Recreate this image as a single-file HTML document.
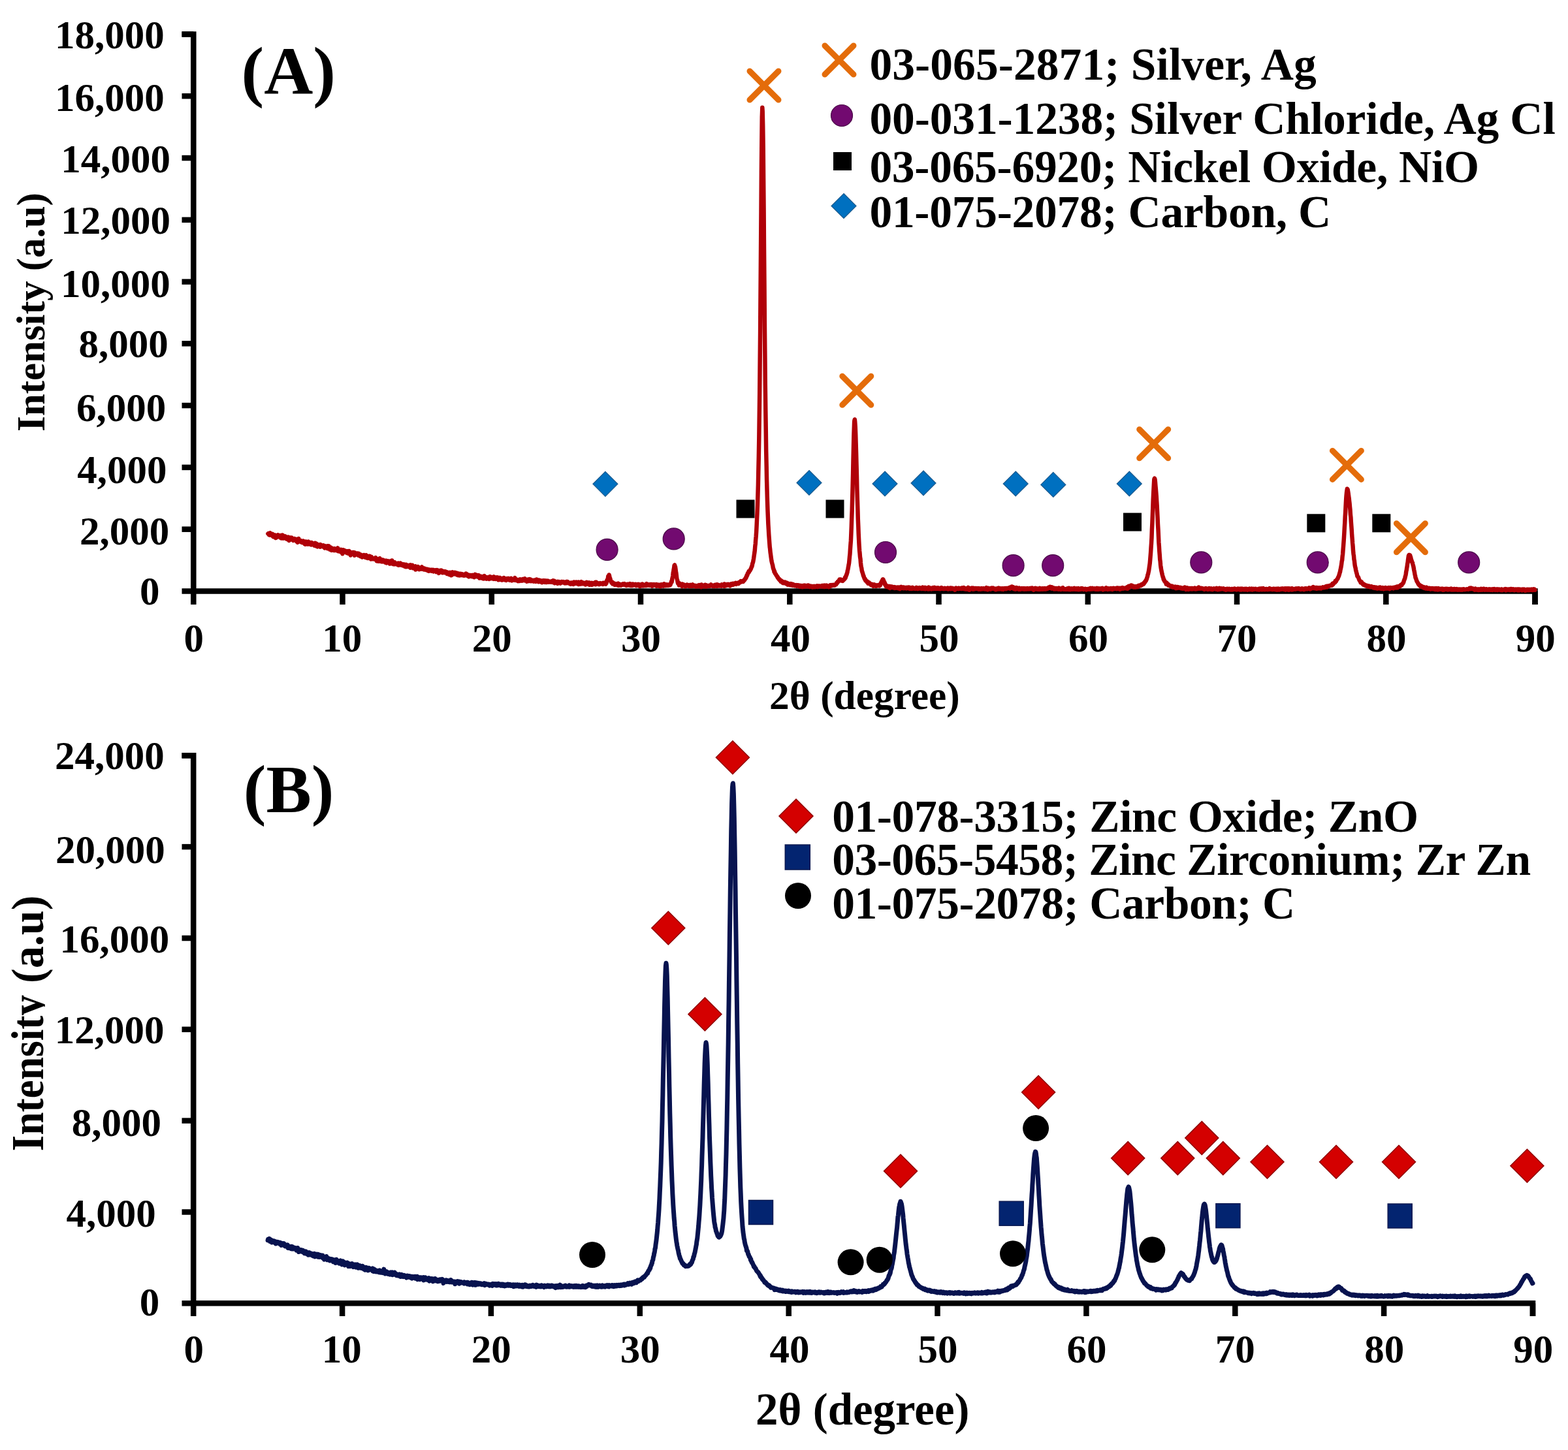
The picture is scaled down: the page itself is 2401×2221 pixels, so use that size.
<!DOCTYPE html><html><head><meta charset="utf-8"><title>XRD patterns</title><style>html,body{margin:0;padding:0;background:#fff;}svg{display:block;}</style></head><body>
<svg width="2401" height="2221" viewBox="0 0 2401 2221">
<rect width="2401" height="2221" fill="#ffffff"/>
<g font-family="'Liberation Serif', 'Times New Roman', serif" font-weight="bold" fill="#000">
<g stroke="#000" stroke-width="8.5" fill="none">
<path d="M278.5,52.4 L296.3,52.4 L296.3,905.5 L2350.5,905.5 L2350.5,926.0" stroke-linejoin="miter"/>
<line x1="278.5" y1="905.5" x2="296.3" y2="905.5"/>
<line x1="278.5" y1="810.7" x2="296.3" y2="810.7"/>
<line x1="278.5" y1="715.9" x2="296.3" y2="715.9"/>
<line x1="278.5" y1="621.1" x2="296.3" y2="621.1"/>
<line x1="278.5" y1="526.3" x2="296.3" y2="526.3"/>
<line x1="278.5" y1="431.6" x2="296.3" y2="431.6"/>
<line x1="278.5" y1="336.8" x2="296.3" y2="336.8"/>
<line x1="278.5" y1="242.0" x2="296.3" y2="242.0"/>
<line x1="278.5" y1="147.2" x2="296.3" y2="147.2"/>
<line x1="278.5" y1="52.4" x2="296.3" y2="52.4"/>
<line x1="296.3" y1="905.5" x2="296.3" y2="926"/>
<line x1="524.5" y1="905.5" x2="524.5" y2="926"/>
<line x1="752.8" y1="905.5" x2="752.8" y2="926"/>
<line x1="981.0" y1="905.5" x2="981.0" y2="926"/>
<line x1="1209.3" y1="905.5" x2="1209.3" y2="926"/>
<line x1="1437.5" y1="905.5" x2="1437.5" y2="926"/>
<line x1="1665.8" y1="905.5" x2="1665.8" y2="926"/>
<line x1="1894.0" y1="905.5" x2="1894.0" y2="926"/>
<line x1="2122.3" y1="905.5" x2="2122.3" y2="926"/>
<line x1="2350.5" y1="905.5" x2="2350.5" y2="926"/>
</g>
<text x="84.1" y="74.0" font-size="61" text-anchor="start">18,000</text>
<text x="84.1" y="169.9" font-size="61" text-anchor="start">16,000</text>
<text x="93.3" y="263.9" font-size="61" text-anchor="start">14,000</text>
<text x="93.3" y="358.4" font-size="61" text-anchor="start">12,000</text>
<text x="93.0" y="454.8" font-size="61" text-anchor="start">10,000</text>
<text x="120.5" y="547.0" font-size="61" text-anchor="start">8,000</text>
<text x="117.1" y="645.4" font-size="61" text-anchor="start">6,000</text>
<text x="118.2" y="739.6" font-size="61" text-anchor="start">4,000</text>
<text x="121.9" y="833.7" font-size="61" text-anchor="start">2,000</text>
<text x="213.9" y="925.8" font-size="61" text-anchor="start">0</text>
<text x="281.6" y="998.4" font-size="61" text-anchor="start">0</text>
<text x="493.3" y="998.4" font-size="61" text-anchor="start">10</text>
<text x="722.7" y="998.4" font-size="61" text-anchor="start">20</text>
<text x="951.0" y="998.4" font-size="61" text-anchor="start">30</text>
<text x="1180.0" y="998.4" font-size="61" text-anchor="start">40</text>
<text x="1407.5" y="998.4" font-size="61" text-anchor="start">50</text>
<text x="1635.9" y="998.4" font-size="61" text-anchor="start">60</text>
<text x="1863.4" y="998.4" font-size="61" text-anchor="start">70</text>
<text x="2092.4" y="998.4" font-size="61" text-anchor="start">80</text>
<text x="2320.8" y="998.4" font-size="61" text-anchor="start">90</text>
<text x="1178.1" y="1085.8" font-size="61.4" text-anchor="start">2θ (degree)</text>
<text transform="translate(68,661.1) rotate(-90)" font-size="61">Intensity (a.u)</text>
<text x="369.5" y="143.6" font-size="104" text-anchor="start">(A)</text>
<path d="M410.4,817.5 L410.9,817.1 L411.3,818.1 L411.8,819.1 L412.2,818.6 L412.7,819.5 L413.2,818.0 L413.6,816.2 L414.1,819.0 L414.5,819.3 L415.0,817.8 L415.4,818.1 L415.9,818.6 L416.4,820.2 L416.8,819.0 L417.3,818.0 L417.7,821.2 L418.2,819.9 L418.6,822.2 L419.1,821.4 L419.6,822.3 L420.0,820.0 L420.5,821.7 L420.9,819.5 L421.4,819.8 L421.8,820.4 L422.3,824.0 L422.7,821.1 L423.2,820.5 L423.7,820.3 L424.1,822.9 L424.6,821.4 L425.0,822.3 L425.5,822.1 L425.9,819.4 L426.4,822.3 L426.9,821.3 L427.3,820.0 L427.8,822.3 L428.2,821.7 L428.7,821.5 L429.1,821.7 L429.6,823.7 L430.1,821.9 L430.5,820.1 L431.0,824.5 L431.4,821.0 L431.9,822.2 L432.3,823.5 L432.8,819.6 L433.2,821.6 L433.7,824.6 L434.2,822.8 L434.6,822.2 L435.1,823.4 L435.5,822.2 L436.0,823.4 L436.4,822.5 L436.9,821.4 L437.4,824.7 L437.8,823.5 L438.3,824.6 L438.7,823.8 L439.2,825.8 L439.6,825.0 L440.1,824.6 L440.6,823.1 L441.0,822.8 L441.5,826.6 L441.9,825.9 L442.4,823.9 L442.8,827.9 L443.3,825.7 L443.7,825.3 L444.2,823.4 L444.7,824.3 L445.1,825.9 L445.6,826.1 L446.0,826.0 L446.5,823.5 L446.9,826.5 L447.4,826.4 L447.9,825.6 L448.3,826.4 L448.8,826.6 L449.2,828.0 L449.7,826.5 L450.1,827.2 L450.6,825.0 L451.0,825.9 L451.5,827.0 L452.0,826.0 L452.4,827.6 L452.9,825.7 L453.3,827.3 L453.8,826.6 L454.2,829.4 L454.7,827.1 L455.2,830.2 L455.6,830.8 L456.1,828.4 L456.5,829.4 L457.0,827.9 L457.4,825.0 L457.9,829.6 L458.4,829.4 L458.8,828.3 L459.3,828.0 L459.7,829.1 L460.2,829.2 L460.6,828.0 L461.1,828.4 L461.5,830.7 L462.0,829.4 L462.5,829.4 L462.9,831.1 L463.4,829.3 L463.8,831.0 L464.3,828.5 L464.7,829.7 L465.2,829.9 L465.7,831.0 L466.1,830.4 L466.6,833.3 L467.0,832.1 L467.5,830.1 L467.9,833.8 L468.4,829.6 L468.9,833.4 L469.3,829.9 L469.8,832.3 L470.2,830.1 L470.7,831.1 L471.1,833.6 L471.6,829.8 L472.0,829.6 L472.5,831.9 L473.0,832.3 L473.4,832.2 L473.9,833.5 L474.3,830.6 L474.8,833.1 L475.2,832.5 L475.7,833.6 L476.2,833.5 L476.6,834.5 L477.1,831.0 L477.5,833.1 L478.0,831.7 L478.4,833.1 L478.9,834.2 L479.4,833.8 L479.8,834.3 L480.3,833.6 L480.7,834.2 L481.2,834.2 L481.6,835.8 L482.1,835.1 L482.5,831.7 L483.0,835.1 L483.5,835.8 L483.9,833.9 L484.4,832.5 L484.8,836.7 L485.3,835.0 L485.7,835.7 L486.2,837.4 L486.7,834.0 L487.1,835.2 L487.6,835.2 L488.0,836.4 L488.5,834.8 L488.9,836.3 L489.4,835.9 L489.9,837.3 L490.3,837.6 L490.8,834.1 L491.2,836.8 L491.7,835.8 L492.1,836.4 L492.6,837.0 L493.0,837.2 L493.5,835.8 L494.0,837.2 L494.4,837.1 L494.9,836.9 L495.3,835.4 L495.8,836.2 L496.2,836.7 L496.7,838.2 L497.2,839.4 L497.6,836.3 L498.1,836.4 L498.5,838.0 L499.0,837.2 L499.4,836.9 L499.9,837.0 L500.4,836.9 L500.8,839.0 L501.3,836.3 L501.7,840.3 L502.2,837.5 L502.6,838.1 L503.1,837.7 L503.5,836.4 L504.0,837.0 L504.5,840.8 L504.9,841.6 L505.4,838.3 L505.8,840.9 L506.3,839.6 L506.7,838.6 L507.2,842.1 L507.7,842.8 L508.1,839.7 L508.6,840.1 L509.0,840.6 L509.5,840.3 L509.9,841.6 L510.4,842.7 L510.8,840.9 L511.3,842.1 L511.8,843.1 L512.2,840.3 L512.7,841.2 L513.1,840.6 L513.6,842.7 L514.0,842.3 L514.5,842.9 L515.0,842.8 L515.4,841.5 L515.9,842.9 L516.3,841.5 L516.8,841.6 L517.2,839.4 L517.7,844.2 L518.2,841.2 L518.6,842.6 L519.1,842.6 L519.5,844.7 L520.0,843.4 L520.4,841.9 L520.9,843.1 L521.3,843.0 L521.8,843.6 L522.3,841.8 L522.7,843.5 L523.2,846.5 L523.6,844.6 L524.1,846.4 L524.5,848.3 L525.0,844.7 L525.5,842.3 L525.9,844.1 L526.4,845.9 L526.8,845.7 L527.3,843.0 L527.7,844.4 L528.2,844.7 L528.7,845.0 L529.1,844.9 L529.6,844.0 L530.0,844.5 L530.5,845.0 L530.9,846.9 L531.4,844.9 L531.8,846.6 L532.3,844.3 L532.8,847.6 L533.2,846.2 L533.7,846.1 L534.1,848.0 L534.6,844.0 L535.0,844.5 L535.5,847.2 L536.0,845.7 L536.4,846.3 L536.9,850.4 L537.3,846.7 L537.8,847.2 L538.2,847.2 L538.7,848.8 L539.2,847.9 L539.6,847.8 L540.1,846.1 L540.5,847.4 L541.0,848.0 L541.4,846.0 L541.9,848.9 L542.3,848.8 L542.8,850.8 L543.3,846.4 L543.7,847.3 L544.2,847.5 L544.6,848.0 L545.1,848.8 L545.5,848.8 L546.0,849.5 L546.5,849.6 L546.9,849.4 L547.4,847.5 L547.8,848.9 L548.3,849.8 L548.7,850.7 L549.2,850.8 L549.7,848.0 L550.1,849.6 L550.6,850.2 L551.0,850.9 L551.5,852.0 L551.9,850.8 L552.4,849.6 L552.8,851.4 L553.3,851.3 L553.8,851.4 L554.2,851.1 L554.7,853.5 L555.1,851.8 L555.6,852.7 L556.0,850.5 L556.5,852.8 L557.0,851.2 L557.4,850.0 L557.9,852.6 L558.3,853.1 L558.8,852.1 L559.2,852.5 L559.7,853.9 L560.2,852.1 L560.6,850.2 L561.1,853.3 L561.5,853.3 L562.0,854.5 L562.4,852.9 L562.9,855.0 L563.3,855.0 L563.8,852.0 L564.3,854.9 L564.7,852.5 L565.2,852.0 L565.6,853.8 L566.1,853.5 L566.5,851.8 L567.0,854.7 L567.5,855.3 L567.9,856.4 L568.4,854.7 L568.8,853.0 L569.3,853.8 L569.7,856.3 L570.2,856.3 L570.6,856.0 L571.1,855.1 L571.6,855.8 L572.0,855.4 L572.5,855.4 L572.9,856.3 L573.4,856.1 L573.8,855.9 L574.3,856.4 L574.8,855.7 L575.2,854.1 L575.7,855.8 L576.1,856.6 L576.6,859.0 L577.0,856.4 L577.5,859.5 L578.0,859.0 L578.4,856.2 L578.9,856.5 L579.3,857.7 L579.8,859.8 L580.2,858.2 L580.7,858.7 L581.1,857.1 L581.6,855.2 L582.1,857.9 L582.5,859.2 L583.0,859.8 L583.4,858.5 L583.9,858.7 L584.3,860.1 L584.8,858.6 L585.3,860.3 L585.7,857.5 L586.2,857.6 L586.6,857.7 L587.1,859.8 L587.5,858.6 L588.0,859.5 L588.5,859.9 L588.9,860.0 L589.4,861.3 L589.8,861.5 L590.3,858.8 L590.7,860.1 L591.2,859.7 L591.6,858.8 L592.1,862.4 L592.6,861.2 L593.0,860.1 L593.5,859.9 L593.9,861.0 L594.4,859.3 L594.8,860.4 L595.3,862.3 L595.8,862.1 L596.2,860.0 L596.7,860.5 L597.1,863.6 L597.6,859.6 L598.0,860.6 L598.5,859.7 L599.0,862.0 L599.4,862.0 L599.9,863.1 L600.3,858.6 L600.8,862.1 L601.2,860.0 L601.7,862.9 L602.1,862.0 L602.6,864.3 L603.1,862.8 L603.5,861.2 L604.0,864.1 L604.4,861.3 L604.9,862.3 L605.3,864.1 L605.8,863.5 L606.3,863.6 L606.7,863.1 L607.2,863.8 L607.6,864.3 L608.1,863.7 L608.5,864.7 L609.0,865.1 L609.5,863.7 L609.9,862.6 L610.4,865.7 L610.8,863.9 L611.3,864.8 L611.7,865.3 L612.2,863.1 L612.6,864.9 L613.1,862.5 L613.6,865.4 L614.0,864.0 L614.5,864.9 L614.9,865.6 L615.4,864.1 L615.8,865.1 L616.3,864.2 L616.8,865.1 L617.2,866.5 L617.7,865.4 L618.1,865.3 L618.6,864.3 L619.0,866.6 L619.5,865.7 L620.0,867.8 L620.4,865.0 L620.9,867.2 L621.3,868.2 L621.8,866.1 L622.2,864.8 L622.7,868.1 L623.1,867.7 L623.6,867.3 L624.1,867.9 L624.5,866.2 L625.0,867.7 L625.4,867.7 L625.9,866.2 L626.3,867.9 L626.8,866.5 L627.3,868.3 L627.7,868.7 L628.2,869.6 L628.6,865.2 L629.1,867.9 L629.5,867.3 L630.0,867.7 L630.4,867.6 L630.9,867.8 L631.4,865.7 L631.8,869.3 L632.3,870.0 L632.7,869.5 L633.2,870.0 L633.6,867.5 L634.1,867.5 L634.6,869.8 L635.0,870.4 L635.5,869.2 L635.9,867.2 L636.4,872.4 L636.8,868.4 L637.3,870.5 L637.8,868.0 L638.2,870.6 L638.7,869.8 L639.1,871.3 L639.6,870.8 L640.0,868.0 L640.5,868.8 L640.9,870.3 L641.4,870.9 L641.9,872.2 L642.3,870.5 L642.8,870.2 L643.2,870.3 L643.7,870.4 L644.1,871.7 L644.6,870.5 L645.1,870.5 L645.5,869.0 L646.0,868.4 L646.4,870.9 L646.9,871.7 L647.3,871.0 L647.8,871.7 L648.3,871.9 L648.7,871.2 L649.2,872.4 L649.6,870.5 L650.1,871.5 L650.5,871.1 L651.0,871.7 L651.4,872.4 L651.9,872.8 L652.4,872.0 L652.8,872.4 L653.3,871.6 L653.7,871.9 L654.2,873.6 L654.6,872.0 L655.1,873.7 L655.6,873.0 L656.0,872.7 L656.5,874.8 L656.9,872.4 L657.4,872.4 L657.8,872.8 L658.3,873.2 L658.8,873.2 L659.2,874.0 L659.7,873.2 L660.1,873.6 L660.6,873.0 L661.0,874.6 L661.5,872.9 L661.9,873.1 L662.4,873.5 L662.9,874.0 L663.3,872.9 L663.8,875.5 L664.2,873.1 L664.7,873.5 L665.1,873.5 L665.6,873.5 L666.1,874.7 L666.5,874.4 L667.0,873.4 L667.4,873.7 L667.9,874.0 L668.3,876.1 L668.8,873.8 L669.3,873.2 L669.7,873.4 L670.2,874.4 L670.6,876.5 L671.1,873.7 L671.5,875.1 L672.0,877.9 L672.4,874.6 L672.9,876.8 L673.4,876.7 L673.8,876.0 L674.3,873.9 L674.7,875.8 L675.2,875.2 L675.6,873.6 L676.1,873.8 L676.6,875.8 L677.0,876.1 L677.5,877.3 L677.9,876.7 L678.4,875.5 L678.8,875.6 L679.3,876.1 L679.8,875.1 L680.2,877.2 L680.7,876.5 L681.1,875.6 L681.6,875.9 L682.0,875.4 L682.5,876.3 L682.9,877.1 L683.4,876.4 L683.9,878.1 L684.3,878.9 L684.8,876.4 L685.2,877.2 L685.7,876.9 L686.1,879.2 L686.6,877.8 L687.1,878.1 L687.5,878.5 L688.0,880.2 L688.4,878.1 L688.9,876.8 L689.3,877.4 L689.8,878.6 L690.2,878.0 L690.7,877.2 L691.2,881.3 L691.6,878.4 L692.1,877.7 L692.5,877.6 L693.0,876.5 L693.4,877.3 L693.9,878.3 L694.4,878.3 L694.8,877.9 L695.3,879.4 L695.7,879.0 L696.2,877.9 L696.6,876.8 L697.1,879.2 L697.6,879.2 L698.0,878.9 L698.5,877.7 L698.9,879.3 L699.4,877.7 L699.8,880.5 L700.3,879.6 L700.7,879.7 L701.2,878.7 L701.7,878.4 L702.1,881.3 L702.6,880.7 L703.0,879.4 L703.5,880.5 L703.9,881.5 L704.4,878.8 L704.9,879.4 L705.3,879.5 L705.8,880.6 L706.2,879.0 L706.7,880.4 L707.1,879.0 L707.6,881.3 L708.1,881.3 L708.5,880.2 L709.0,881.2 L709.4,879.8 L709.9,880.3 L710.3,881.6 L710.8,880.6 L711.2,881.1 L711.7,879.8 L712.2,881.5 L712.6,881.3 L713.1,879.6 L713.5,878.5 L714.0,878.8 L714.4,881.0 L714.9,880.9 L715.4,879.5 L715.8,881.4 L716.3,882.4 L716.7,881.2 L717.2,880.9 L717.6,882.4 L718.1,883.3 L718.6,883.1 L719.0,880.9 L719.5,882.5 L719.9,881.9 L720.4,881.5 L720.8,881.1 L721.3,882.2 L721.7,881.4 L722.2,882.9 L722.7,882.4 L723.1,883.2 L723.6,880.9 L724.0,882.2 L724.5,883.0 L724.9,882.7 L725.4,882.6 L725.9,881.6 L726.3,884.2 L726.8,883.6 L727.2,883.0 L727.7,879.9 L728.1,881.6 L728.6,882.8 L729.1,882.0 L729.5,880.6 L730.0,883.1 L730.4,883.3 L730.9,881.7 L731.3,882.5 L731.8,882.4 L732.2,883.7 L732.7,881.1 L733.2,881.4 L733.6,882.7 L734.1,882.6 L734.5,885.6 L735.0,882.8 L735.4,883.7 L735.9,883.1 L736.4,882.9 L736.8,884.0 L737.3,885.5 L737.7,883.4 L738.2,884.6 L738.6,884.2 L739.1,884.6 L739.6,884.4 L740.0,886.5 L740.5,882.8 L740.9,883.9 L741.4,883.0 L741.8,882.2 L742.3,884.3 L742.7,886.3 L743.2,885.4 L743.7,885.7 L744.1,885.0 L744.6,884.5 L745.0,886.7 L745.5,884.3 L745.9,886.3 L746.4,884.5 L746.9,885.0 L747.3,885.2 L747.8,885.0 L748.2,885.6 L748.7,885.7 L749.1,886.9 L749.6,885.2 L750.0,883.3 L750.5,883.2 L751.0,883.9 L751.4,884.6 L751.9,886.1 L752.3,884.0 L752.8,885.6 L753.2,885.6 L753.7,885.9 L754.2,885.5 L754.6,886.1 L755.1,885.8 L755.5,886.8 L756.0,886.1 L756.4,883.4 L756.9,885.9 L757.4,886.1 L757.8,885.3 L758.3,885.1 L758.7,887.0 L759.2,886.1 L759.6,885.0 L760.1,885.7 L760.5,885.9 L761.0,884.4 L761.5,886.8 L761.9,886.0 L762.4,886.7 L762.8,884.6 L763.3,888.2 L763.7,886.9 L764.2,886.8 L764.7,885.6 L765.1,885.7 L765.6,884.9 L766.0,888.0 L766.5,885.6 L766.9,886.7 L767.4,887.1 L767.9,885.9 L768.3,887.4 L768.8,888.6 L769.2,886.9 L769.7,888.1 L770.1,887.3 L770.6,886.2 L771.0,886.3 L771.5,885.1 L772.0,886.9 L772.4,888.3 L772.9,887.5 L773.3,887.7 L773.8,888.1 L774.2,886.4 L774.7,887.5 L775.2,888.9 L775.6,886.2 L776.1,887.1 L776.5,886.6 L777.0,886.9 L777.4,886.4 L777.9,887.0 L778.4,885.9 L778.8,886.7 L779.3,886.8 L779.7,886.8 L780.2,888.7 L780.6,887.4 L781.1,887.5 L781.5,887.1 L782.0,888.7 L782.5,885.7 L782.9,887.3 L783.4,888.6 L783.8,889.2 L784.3,887.8 L784.7,887.6 L785.2,888.3 L785.7,887.5 L786.1,888.2 L786.6,887.1 L787.0,888.4 L787.5,887.7 L787.9,886.7 L788.4,885.2 L788.9,888.8 L789.3,888.3 L789.8,888.7 L790.2,887.1 L790.7,889.0 L791.1,888.4 L791.6,888.0 L792.0,888.9 L792.5,888.9 L793.0,888.5 L793.4,890.1 L793.9,889.5 L794.3,888.5 L794.8,888.0 L795.2,888.3 L795.7,889.9 L796.2,888.7 L796.6,887.4 L797.1,887.7 L797.5,888.4 L798.0,889.2 L798.4,887.7 L798.9,889.0 L799.4,889.6 L799.8,889.2 L800.3,887.0 L800.7,888.3 L801.2,887.4 L801.6,889.0 L802.1,887.7 L802.5,889.2 L803.0,888.8 L803.5,886.2 L803.9,887.9 L804.4,889.2 L804.8,888.8 L805.3,888.5 L805.7,887.6 L806.2,889.3 L806.7,890.6 L807.1,889.2 L807.6,888.9 L808.0,888.8 L808.5,887.7 L808.9,888.7 L809.4,888.2 L809.8,890.1 L810.3,888.2 L810.8,887.1 L811.2,888.4 L811.7,888.9 L812.1,889.0 L812.6,887.5 L813.0,890.2 L813.5,889.4 L814.0,888.9 L814.4,888.6 L814.9,889.8 L815.3,889.1 L815.8,889.7 L816.2,889.3 L816.7,889.6 L817.2,890.6 L817.6,889.6 L818.1,888.7 L818.5,890.5 L819.0,889.9 L819.4,889.0 L819.9,890.7 L820.3,889.5 L820.8,890.8 L821.3,888.7 L821.7,887.6 L822.2,887.9 L822.6,890.1 L823.1,889.2 L823.5,889.8 L824.0,889.8 L824.5,888.5 L824.9,891.3 L825.4,889.0 L825.8,890.1 L826.3,888.7 L826.7,889.9 L827.2,890.8 L827.7,889.9 L828.1,889.5 L828.6,890.2 L829.0,889.8 L829.5,890.8 L829.9,892.3 L830.4,889.5 L830.8,889.7 L831.3,890.2 L831.8,890.3 L832.2,889.5 L832.7,890.9 L833.1,891.2 L833.6,890.7 L834.0,889.4 L834.5,891.9 L835.0,889.5 L835.4,891.2 L835.9,891.7 L836.3,889.5 L836.8,890.8 L837.2,892.0 L837.7,891.1 L838.2,889.9 L838.6,889.7 L839.1,891.3 L839.5,890.5 L840.0,890.2 L840.4,891.6 L840.9,890.6 L841.3,891.0 L841.8,891.5 L842.3,891.5 L842.7,891.0 L843.2,891.1 L843.6,891.7 L844.1,891.6 L844.5,890.2 L845.0,891.0 L845.5,890.4 L845.9,890.2 L846.4,890.8 L846.8,889.2 L847.3,892.1 L847.7,890.6 L848.2,891.7 L848.7,889.7 L849.1,889.9 L849.6,893.3 L850.0,892.4 L850.5,890.9 L850.9,890.9 L851.4,890.9 L851.8,891.7 L852.3,891.3 L852.8,891.1 L853.2,891.8 L853.7,890.8 L854.1,893.9 L854.6,891.2 L855.0,892.8 L855.5,891.0 L856.0,892.1 L856.4,892.8 L856.9,891.6 L857.3,892.8 L857.8,892.9 L858.2,893.5 L858.7,892.1 L859.2,891.6 L859.6,891.2 L860.1,892.3 L860.5,891.2 L861.0,892.2 L861.4,892.3 L861.9,891.7 L862.3,891.3 L862.8,892.6 L863.3,892.6 L863.7,892.5 L864.2,892.3 L864.6,893.3 L865.1,891.5 L865.5,892.9 L866.0,892.1 L866.5,893.3 L866.9,892.2 L867.4,892.2 L867.8,893.0 L868.3,890.8 L868.7,892.3 L869.2,891.0 L869.7,891.8 L870.1,893.3 L870.6,893.0 L871.0,892.3 L871.5,892.7 L871.9,892.7 L872.4,893.0 L872.8,894.4 L873.3,893.0 L873.8,894.8 L874.2,892.5 L874.7,893.5 L875.1,893.5 L875.6,893.1 L876.0,892.6 L876.5,894.2 L877.0,894.5 L877.4,893.9 L877.9,894.8 L878.3,893.8 L878.8,891.5 L879.2,893.9 L879.7,892.4 L880.1,894.2 L880.6,892.7 L881.1,893.3 L881.5,893.1 L882.0,892.5 L882.4,891.5 L882.9,892.9 L883.3,893.0 L883.8,894.0 L884.3,892.6 L884.7,893.4 L885.2,892.4 L885.6,893.2 L886.1,891.6 L886.5,895.0 L887.0,893.5 L887.5,892.4 L887.9,893.6 L888.4,894.0 L888.8,893.5 L889.3,894.5 L889.7,893.2 L890.2,891.1 L890.6,892.3 L891.1,894.3 L891.6,894.1 L892.0,893.7 L892.5,892.5 L892.9,894.1 L893.4,894.0 L893.8,892.6 L894.3,892.7 L894.8,893.8 L895.2,894.5 L895.7,894.9 L896.1,894.1 L896.6,895.5 L897.0,892.9 L897.5,894.1 L898.0,893.1 L898.4,891.9 L898.9,892.5 L899.3,894.6 L899.8,892.8 L900.2,892.6 L900.7,894.3 L901.1,894.5 L901.6,893.8 L902.1,895.1 L902.5,892.4 L903.0,895.8 L903.4,894.7 L903.9,894.0 L904.3,893.9 L904.8,893.6 L905.3,893.5 L905.7,894.0 L906.2,892.8 L906.6,895.7 L907.1,893.8 L907.5,894.5 L908.0,893.7 L908.5,893.7 L908.9,894.7 L909.4,894.4 L909.8,893.2 L910.3,893.6 L910.7,894.5 L911.2,892.2 L911.6,891.9 L912.1,895.2 L912.6,893.7 L913.0,891.8 L913.5,893.3 L913.9,893.8 L914.4,894.2 L914.8,894.5 L915.3,894.2 L915.8,894.5 L916.2,893.4 L916.7,894.4 L917.1,894.4 L917.6,895.1 L918.0,894.1 L918.5,894.8 L919.0,894.2 L919.4,893.2 L919.9,893.7 L920.3,893.6 L920.8,893.7 L921.2,894.0 L921.7,894.1 L922.1,894.3 L922.6,893.4 L923.1,894.9 L923.5,892.8 L924.0,893.9 L924.4,894.5 L924.9,894.2 L925.3,894.3 L925.8,893.5 L926.3,894.1 L926.7,892.4 L927.2,893.8 L927.6,894.7 L928.1,892.9 L928.5,893.3 L929.0,890.8 L929.5,888.8 L929.9,888.0 L930.4,888.3 L930.8,886.3 L931.3,882.8 L931.7,882.9 L932.2,882.6 L932.4,881.6 L932.6,880.5 L933.1,882.2 L933.6,884.3 L934.0,885.5 L934.5,886.8 L934.9,889.2 L935.4,890.8 L935.8,890.9 L936.3,892.6 L936.8,892.6 L937.2,893.0 L937.7,891.5 L938.1,894.4 L938.6,894.0 L939.0,894.2 L939.5,893.8 L939.9,893.4 L940.4,894.8 L940.9,895.1 L941.3,895.9 L941.8,895.3 L942.2,894.2 L942.7,894.6 L943.1,895.6 L943.6,895.1 L944.1,894.8 L944.5,894.4 L945.0,895.3 L945.4,895.1 L945.9,896.4 L946.3,895.9 L946.8,893.6 L947.3,896.8 L947.7,895.3 L948.2,894.8 L948.6,895.4 L949.1,895.7 L949.5,895.1 L950.0,895.1 L950.4,895.2 L950.9,896.7 L951.4,895.3 L951.8,895.9 L952.3,895.7 L952.7,895.0 L953.2,894.7 L953.6,894.5 L954.1,895.7 L954.6,894.5 L955.0,894.4 L955.5,894.4 L955.9,894.2 L956.4,895.5 L956.8,895.5 L957.3,894.7 L957.8,896.5 L958.2,895.3 L958.7,895.9 L959.1,895.8 L959.6,896.9 L960.0,896.2 L960.5,895.5 L960.9,894.8 L961.4,894.7 L961.9,895.6 L962.3,895.7 L962.8,896.3 L963.2,895.3 L963.7,895.8 L964.1,895.1 L964.6,894.2 L965.1,895.7 L965.5,896.9 L966.0,896.4 L966.4,896.9 L966.9,896.7 L967.3,894.7 L967.8,895.6 L968.3,897.0 L968.7,895.3 L969.2,894.8 L969.6,896.1 L970.1,896.4 L970.5,896.1 L971.0,895.6 L971.4,895.4 L971.9,894.9 L972.4,894.9 L972.8,895.0 L973.3,894.8 L973.7,895.4 L974.2,897.2 L974.6,896.1 L975.1,895.7 L975.6,896.3 L976.0,895.3 L976.5,896.3 L976.9,896.8 L977.4,894.9 L977.8,895.5 L978.3,895.9 L978.8,895.4 L979.2,895.3 L979.7,895.8 L980.1,898.1 L980.6,896.7 L981.0,896.5 L981.5,896.9 L981.9,896.0 L982.4,895.2 L982.9,896.6 L983.3,897.1 L983.8,894.6 L984.2,896.6 L984.7,897.2 L985.1,896.0 L985.6,895.9 L986.1,896.8 L986.5,895.6 L987.0,896.6 L987.4,897.0 L987.9,896.1 L988.3,895.7 L988.8,896.8 L989.3,896.0 L989.7,896.4 L990.2,894.1 L990.6,896.9 L991.1,895.2 L991.5,896.4 L992.0,896.4 L992.4,895.8 L992.9,895.6 L993.4,895.4 L993.8,896.1 L994.3,896.8 L994.7,896.8 L995.2,896.0 L995.6,895.9 L996.1,895.3 L996.6,896.1 L997.0,895.6 L997.5,895.2 L997.9,896.3 L998.4,897.6 L998.8,897.3 L999.3,897.5 L999.7,895.2 L1000.2,897.1 L1000.7,895.5 L1001.1,896.0 L1001.6,895.1 L1002.0,895.7 L1002.5,896.5 L1002.9,896.6 L1003.4,896.4 L1003.9,896.3 L1004.3,896.9 L1004.8,896.5 L1005.2,895.2 L1005.7,897.8 L1006.1,896.3 L1006.6,897.2 L1007.1,896.3 L1007.5,895.8 L1008.0,896.5 L1008.4,895.9 L1008.9,897.7 L1009.3,895.7 L1009.8,896.9 L1010.2,896.0 L1010.7,896.3 L1011.2,898.4 L1011.6,897.1 L1012.1,896.3 L1012.5,895.3 L1013.0,896.3 L1013.4,896.3 L1013.9,897.5 L1014.4,895.4 L1014.8,895.1 L1015.3,896.4 L1015.7,896.6 L1016.2,897.6 L1016.6,895.7 L1017.1,894.3 L1017.6,895.8 L1018.0,895.4 L1018.5,895.9 L1018.9,897.0 L1019.4,895.3 L1019.8,897.1 L1020.3,896.3 L1020.7,895.9 L1021.2,895.4 L1021.7,895.7 L1022.1,895.7 L1022.6,896.5 L1023.0,896.8 L1023.5,895.7 L1023.9,896.2 L1024.4,896.5 L1024.9,896.3 L1025.3,895.5 L1025.8,896.3 L1026.2,895.6 L1026.7,895.4 L1027.1,893.5 L1027.6,892.6 L1028.1,890.4 L1028.5,891.7 L1029.0,889.4 L1029.4,886.1 L1029.9,884.4 L1030.3,881.6 L1030.8,876.8 L1031.2,874.9 L1031.7,872.2 L1032.2,869.4 L1032.6,866.2 L1033.1,865.5 L1033.1,866.7 L1033.5,867.2 L1034.0,868.1 L1034.4,870.9 L1034.9,875.2 L1035.4,877.7 L1035.8,881.0 L1036.3,885.7 L1036.7,887.1 L1037.2,888.7 L1037.6,891.1 L1038.1,893.6 L1038.6,893.2 L1039.0,893.2 L1039.5,893.2 L1039.9,896.4 L1040.4,893.2 L1040.8,896.2 L1041.3,894.9 L1041.7,894.8 L1042.2,895.2 L1042.7,895.9 L1043.1,896.9 L1043.6,895.7 L1044.0,896.8 L1044.5,898.2 L1044.9,894.4 L1045.4,896.0 L1045.9,895.2 L1046.3,897.2 L1046.8,895.6 L1047.2,895.5 L1047.7,895.6 L1048.1,896.8 L1048.6,897.6 L1049.1,896.9 L1049.5,898.4 L1050.0,898.1 L1050.4,896.8 L1050.9,897.6 L1051.3,897.0 L1051.8,897.0 L1052.2,895.6 L1052.7,896.1 L1053.2,897.0 L1053.6,896.2 L1054.1,897.6 L1054.5,897.3 L1055.0,896.4 L1055.4,898.0 L1055.9,897.3 L1056.4,898.0 L1056.8,897.0 L1057.3,896.0 L1057.7,897.7 L1058.2,897.0 L1058.6,897.8 L1059.1,898.0 L1059.5,898.0 L1060.0,896.2 L1060.5,895.5 L1060.9,896.9 L1061.4,897.7 L1061.8,896.7 L1062.3,897.5 L1062.7,896.7 L1063.2,897.0 L1063.7,897.0 L1064.1,896.8 L1064.6,897.7 L1065.0,897.5 L1065.5,898.5 L1065.9,897.6 L1066.4,898.3 L1066.9,897.4 L1067.3,898.0 L1067.8,897.2 L1068.2,897.0 L1068.7,898.3 L1069.1,897.9 L1069.6,898.0 L1070.0,896.8 L1070.5,896.1 L1071.0,896.7 L1071.4,897.6 L1071.9,896.3 L1072.3,898.4 L1072.8,896.3 L1073.2,897.8 L1073.7,899.2 L1074.2,895.5 L1074.6,896.2 L1075.1,898.0 L1075.5,897.2 L1076.0,897.5 L1076.4,897.3 L1076.9,898.3 L1077.4,897.8 L1077.8,897.0 L1078.3,897.2 L1078.7,896.5 L1079.2,897.3 L1079.6,895.7 L1080.1,897.8 L1080.5,897.2 L1081.0,898.6 L1081.5,898.2 L1081.9,896.4 L1082.4,898.0 L1082.8,897.0 L1083.3,897.4 L1083.7,898.0 L1084.2,897.5 L1084.7,897.7 L1085.1,897.6 L1085.6,896.8 L1086.0,896.9 L1086.5,897.7 L1086.9,897.9 L1087.4,897.1 L1087.9,897.3 L1088.3,896.6 L1088.8,895.5 L1089.2,896.7 L1089.7,897.3 L1090.1,897.4 L1090.6,897.8 L1091.0,897.8 L1091.5,897.9 L1092.0,897.5 L1092.4,897.5 L1092.9,896.7 L1093.3,897.5 L1093.8,897.3 L1094.2,898.0 L1094.7,896.1 L1095.2,896.8 L1095.6,896.0 L1096.1,896.6 L1096.5,896.1 L1097.0,897.3 L1097.4,896.6 L1097.9,895.3 L1098.4,897.9 L1098.8,896.3 L1099.3,895.9 L1099.7,896.7 L1100.2,896.5 L1100.6,896.1 L1101.1,897.4 L1101.5,896.6 L1102.0,897.5 L1102.5,897.3 L1102.9,897.3 L1103.4,896.9 L1103.8,896.7 L1104.3,896.5 L1104.7,897.7 L1105.2,895.4 L1105.7,895.9 L1106.1,896.2 L1106.6,896.9 L1107.0,896.7 L1107.5,896.2 L1107.9,896.3 L1108.4,897.7 L1108.9,896.0 L1109.3,894.5 L1109.8,897.7 L1110.2,895.7 L1110.7,896.1 L1111.1,896.4 L1111.6,895.4 L1112.0,897.1 L1112.5,896.1 L1113.0,895.2 L1113.4,896.3 L1113.9,896.4 L1114.3,896.0 L1114.8,896.3 L1115.2,894.9 L1115.7,896.5 L1116.2,895.3 L1116.6,896.6 L1117.1,895.3 L1117.5,895.8 L1118.0,897.4 L1118.4,895.6 L1118.9,896.2 L1119.3,895.8 L1119.8,894.3 L1120.3,896.1 L1120.7,896.0 L1121.2,894.2 L1121.6,895.0 L1122.1,894.0 L1122.5,894.7 L1123.0,895.5 L1123.5,894.8 L1123.9,893.9 L1124.4,894.0 L1124.8,894.5 L1125.3,894.4 L1125.7,894.4 L1126.2,894.6 L1126.7,892.8 L1127.1,894.0 L1127.6,894.7 L1128.0,894.1 L1128.5,893.2 L1128.9,893.1 L1129.4,893.5 L1129.8,893.7 L1130.3,893.1 L1130.8,894.1 L1131.2,893.7 L1131.7,892.1 L1132.1,892.8 L1132.6,892.1 L1133.0,891.3 L1133.5,891.5 L1134.0,891.7 L1134.4,890.1 L1134.9,890.9 L1135.3,891.3 L1135.8,890.4 L1136.2,890.3 L1136.7,890.9 L1137.2,890.0 L1137.6,889.9 L1138.1,890.8 L1138.5,889.2 L1139.0,888.9 L1139.4,888.6 L1139.9,888.9 L1140.3,887.6 L1140.8,886.8 L1141.3,886.1 L1141.7,886.3 L1142.2,884.3 L1142.6,884.8 L1143.1,883.2 L1143.5,881.2 L1144.0,881.6 L1144.5,880.4 L1144.9,878.3 L1145.4,878.3 L1145.8,877.3 L1146.3,876.0 L1146.5,875.1 L1146.7,876.9 L1147.2,875.3 L1147.7,874.8 L1148.1,874.3 L1148.6,873.5 L1149.0,872.9 L1149.5,871.4 L1149.9,871.4 L1150.4,869.7 L1150.8,868.4 L1151.3,867.9 L1151.8,865.9 L1152.2,863.2 L1152.7,862.2 L1153.1,860.8 L1153.6,858.1 L1154.0,856.0 L1154.5,852.4 L1155.0,848.8 L1155.4,846.3 L1155.9,842.0 L1156.3,836.6 L1156.8,832.8 L1157.2,826.7 L1157.7,821.2 L1158.2,813.9 L1158.6,805.6 L1159.1,794.6 L1159.5,785.6 L1160.0,773.4 L1160.4,759.1 L1160.9,742.3 L1161.3,722.3 L1161.8,699.8 L1162.3,671.7 L1162.7,641.1 L1163.2,602.9 L1163.6,559.9 L1164.1,509.0 L1164.5,452.9 L1165.0,389.4 L1165.5,324.7 L1165.9,263.6 L1166.4,214.0 L1166.8,177.9 L1166.8,178.8 L1167.3,164.8 L1167.7,170.2 L1168.2,192.1 L1168.7,226.5 L1169.1,272.5 L1169.6,324.8 L1170.0,380.9 L1170.5,438.7 L1170.9,494.4 L1171.4,545.2 L1171.8,590.3 L1172.3,628.8 L1172.8,661.5 L1173.2,691.5 L1173.7,714.0 L1174.1,735.1 L1174.6,753.6 L1175.0,767.9 L1175.5,782.4 L1176.0,793.9 L1176.4,803.4 L1176.9,811.4 L1177.3,818.8 L1177.8,825.6 L1178.2,831.0 L1178.7,837.7 L1179.1,840.6 L1179.6,846.0 L1180.1,849.3 L1180.5,852.5 L1181.0,856.1 L1181.4,859.0 L1181.9,861.3 L1182.3,862.9 L1182.8,864.6 L1183.3,866.6 L1183.7,869.4 L1184.2,870.9 L1184.6,872.5 L1185.1,873.0 L1185.5,875.9 L1186.0,875.0 L1186.5,877.3 L1186.9,878.5 L1187.4,878.8 L1187.8,879.2 L1188.3,880.5 L1188.7,880.9 L1189.2,882.2 L1189.6,882.2 L1190.1,882.9 L1190.6,884.4 L1191.0,884.0 L1191.5,885.4 L1191.9,885.9 L1192.4,887.1 L1192.8,887.2 L1193.3,886.9 L1193.8,888.7 L1194.2,887.8 L1194.7,888.4 L1195.1,888.8 L1195.6,890.8 L1196.0,889.8 L1196.5,889.6 L1197.0,890.8 L1197.4,890.5 L1197.9,892.4 L1198.3,890.7 L1198.8,891.8 L1199.2,891.1 L1199.7,893.1 L1200.1,891.7 L1200.6,892.5 L1201.1,892.0 L1201.5,893.3 L1202.0,893.3 L1202.4,891.6 L1202.9,893.8 L1203.3,893.9 L1203.8,893.8 L1204.3,894.4 L1204.7,893.1 L1205.2,892.9 L1205.6,894.7 L1206.1,895.5 L1206.5,893.7 L1207.0,893.9 L1207.5,894.2 L1207.9,894.1 L1208.4,895.5 L1208.8,895.2 L1209.3,896.1 L1209.7,896.2 L1210.2,894.7 L1210.6,895.9 L1211.1,894.1 L1211.6,895.6 L1212.0,896.1 L1212.5,895.3 L1212.9,894.7 L1213.4,895.7 L1213.8,896.8 L1214.3,895.9 L1214.8,895.3 L1215.2,896.6 L1215.7,896.8 L1216.1,895.7 L1216.6,896.4 L1217.0,897.2 L1217.5,896.8 L1218.0,897.1 L1218.4,896.5 L1218.9,896.7 L1219.3,896.1 L1219.8,896.4 L1220.2,897.9 L1220.7,896.7 L1221.1,896.4 L1221.6,896.8 L1222.1,896.4 L1222.5,897.5 L1223.0,897.8 L1223.4,896.6 L1223.9,898.0 L1224.3,898.7 L1224.8,896.7 L1225.3,897.9 L1225.7,897.6 L1226.2,898.4 L1226.6,898.3 L1227.1,898.3 L1227.5,897.8 L1228.0,897.3 L1228.5,899.1 L1228.9,897.2 L1229.4,898.4 L1229.8,898.4 L1230.3,897.3 L1230.7,897.8 L1231.2,898.8 L1231.6,896.6 L1232.1,898.4 L1232.6,897.7 L1233.0,897.8 L1233.5,897.0 L1233.9,898.2 L1234.4,897.3 L1234.8,898.4 L1235.3,897.3 L1235.8,898.5 L1236.2,898.3 L1236.7,896.8 L1237.1,897.9 L1237.6,898.0 L1238.0,896.6 L1238.5,897.9 L1238.9,898.6 L1239.4,897.7 L1239.9,898.9 L1240.3,897.4 L1240.8,897.4 L1241.2,898.5 L1241.7,898.6 L1242.1,898.1 L1242.6,898.2 L1243.1,898.8 L1243.5,897.9 L1244.0,899.5 L1244.4,898.5 L1244.9,898.5 L1245.3,898.4 L1245.8,898.1 L1246.3,899.1 L1246.7,897.9 L1247.2,898.4 L1247.6,898.7 L1248.1,899.2 L1248.5,899.1 L1249.0,898.1 L1249.4,898.9 L1249.9,898.3 L1250.4,897.6 L1250.8,897.6 L1251.3,897.3 L1251.7,898.5 L1252.2,899.0 L1252.6,897.6 L1253.1,898.1 L1253.6,897.6 L1254.0,898.3 L1254.5,897.5 L1254.9,897.7 L1255.4,897.8 L1255.8,897.9 L1256.3,898.0 L1256.8,898.1 L1257.2,898.1 L1257.7,897.6 L1258.1,898.5 L1258.6,897.1 L1259.0,898.2 L1259.5,897.5 L1259.9,898.2 L1260.4,898.3 L1260.9,896.8 L1261.3,898.3 L1261.8,898.9 L1262.2,898.5 L1262.7,898.2 L1263.1,896.6 L1263.6,897.9 L1264.1,897.4 L1264.5,898.6 L1265.0,897.7 L1265.4,897.5 L1265.9,896.7 L1266.3,898.3 L1266.8,897.4 L1267.3,897.6 L1267.7,898.4 L1268.2,897.7 L1268.6,897.8 L1269.1,899.1 L1269.5,897.2 L1270.0,897.2 L1270.4,897.7 L1270.9,898.3 L1271.4,896.4 L1271.8,897.1 L1272.3,896.6 L1272.7,896.3 L1273.2,897.4 L1273.6,896.5 L1274.1,897.1 L1274.6,896.9 L1275.0,896.8 L1275.5,896.7 L1275.9,895.9 L1276.4,896.4 L1276.8,896.5 L1277.3,896.4 L1277.8,895.9 L1278.2,896.5 L1278.7,896.0 L1279.1,895.5 L1279.6,895.6 L1280.0,895.0 L1280.5,895.0 L1280.9,893.0 L1281.4,892.9 L1281.9,893.0 L1282.3,892.8 L1282.8,890.8 L1283.2,891.3 L1283.7,891.0 L1284.1,890.1 L1284.6,889.5 L1285.1,888.3 L1285.5,888.9 L1285.7,887.4 L1286.0,889.2 L1286.4,888.1 L1286.9,889.2 L1287.3,887.5 L1287.8,889.0 L1288.3,889.0 L1288.7,888.5 L1289.2,888.3 L1289.6,889.8 L1290.1,889.3 L1290.5,889.8 L1291.0,888.6 L1291.4,888.5 L1291.9,888.2 L1292.4,888.0 L1292.8,887.3 L1293.3,886.9 L1293.7,885.4 L1294.2,884.0 L1294.6,885.3 L1295.1,883.1 L1295.6,882.2 L1296.0,880.5 L1296.5,880.1 L1296.9,878.1 L1297.4,877.0 L1297.8,874.1 L1298.3,872.4 L1298.7,870.2 L1299.2,867.3 L1299.7,864.7 L1300.1,862.2 L1300.6,857.0 L1301.0,852.8 L1301.5,848.1 L1301.9,841.5 L1302.4,834.6 L1302.9,828.2 L1303.3,818.8 L1303.8,806.6 L1304.2,794.2 L1304.7,781.1 L1305.1,764.8 L1305.6,745.9 L1306.1,725.5 L1306.5,705.0 L1307.0,683.5 L1307.4,666.3 L1307.9,652.6 L1308.1,646.6 L1308.3,644.5 L1308.8,642.5 L1309.2,645.7 L1309.7,653.4 L1310.2,665.2 L1310.6,678.7 L1311.1,695.2 L1311.5,711.2 L1312.0,730.2 L1312.4,749.5 L1312.9,766.0 L1313.4,781.3 L1313.8,795.5 L1314.3,806.9 L1314.7,817.8 L1315.2,828.1 L1315.6,835.7 L1316.1,843.3 L1316.6,848.2 L1317.0,853.3 L1317.5,856.1 L1317.9,861.6 L1318.4,866.4 L1318.8,868.4 L1319.3,870.6 L1319.7,873.8 L1320.2,875.6 L1320.7,877.1 L1321.1,878.3 L1321.6,880.2 L1322.0,882.0 L1322.5,882.1 L1322.9,884.1 L1323.4,885.1 L1323.9,886.6 L1324.3,887.0 L1324.8,886.9 L1325.2,889.1 L1325.7,888.7 L1326.1,888.9 L1326.6,890.1 L1327.1,890.3 L1327.5,891.6 L1328.0,890.5 L1328.4,891.1 L1328.9,892.0 L1329.3,893.6 L1329.8,893.5 L1330.2,892.6 L1330.7,892.4 L1331.2,893.6 L1331.6,893.3 L1332.1,894.7 L1332.5,894.7 L1333.0,894.8 L1333.4,894.7 L1333.9,896.1 L1334.4,894.8 L1334.8,894.7 L1335.3,896.4 L1335.7,896.7 L1336.2,895.8 L1336.6,896.6 L1337.1,897.8 L1337.6,895.9 L1338.0,896.5 L1338.5,897.0 L1338.9,895.4 L1339.4,896.8 L1339.8,897.4 L1340.3,897.0 L1340.7,897.8 L1341.2,897.7 L1341.7,897.0 L1342.1,897.7 L1342.6,897.6 L1343.0,896.4 L1343.5,896.9 L1343.9,896.9 L1344.4,897.1 L1344.9,897.1 L1345.3,896.4 L1345.8,897.2 L1346.2,895.9 L1346.7,897.4 L1347.1,896.6 L1347.6,896.8 L1348.1,895.5 L1348.5,894.2 L1349.0,892.6 L1349.4,892.9 L1349.9,891.2 L1350.3,890.2 L1350.8,889.4 L1351.2,888.8 L1351.7,887.5 L1351.9,888.6 L1352.2,887.5 L1352.6,888.1 L1353.1,889.5 L1353.5,891.0 L1354.0,892.5 L1354.4,891.7 L1354.9,894.9 L1355.4,894.2 L1355.8,895.7 L1356.3,897.0 L1356.7,898.1 L1357.2,897.1 L1357.6,897.1 L1358.1,899.0 L1358.5,898.8 L1359.0,898.1 L1359.5,898.7 L1359.9,897.8 L1360.4,899.5 L1360.8,898.9 L1361.3,900.1 L1361.7,898.0 L1362.2,899.9 L1362.7,900.8 L1363.1,899.6 L1363.6,899.6 L1364.0,898.4 L1364.5,899.9 L1364.9,899.7 L1365.4,899.3 L1365.9,898.8 L1366.3,899.8 L1366.8,899.2 L1367.2,899.5 L1367.7,900.1 L1368.1,899.9 L1368.6,899.9 L1369.0,900.5 L1369.5,899.2 L1370.0,900.9 L1370.4,899.3 L1370.9,899.5 L1371.3,900.1 L1371.8,900.6 L1372.2,900.3 L1372.7,899.8 L1373.2,899.7 L1373.6,900.0 L1374.1,899.6 L1374.5,900.6 L1375.0,900.1 L1375.4,901.2 L1375.9,899.8 L1376.4,900.2 L1376.8,900.6 L1377.3,899.6 L1377.7,899.9 L1378.2,902.1 L1378.6,900.3 L1379.1,901.3 L1379.5,899.7 L1380.0,898.9 L1380.5,900.7 L1380.9,900.4 L1381.4,900.6 L1381.8,900.2 L1382.3,900.1 L1382.7,899.7 L1383.2,901.1 L1383.7,899.5 L1384.1,901.1 L1384.6,900.4 L1385.0,899.8 L1385.5,900.1 L1385.9,901.1 L1386.4,901.0 L1386.9,900.9 L1387.3,900.6 L1387.8,899.9 L1388.2,901.4 L1388.7,900.3 L1389.1,900.3 L1389.6,900.3 L1390.0,900.4 L1390.5,899.7 L1391.0,900.4 L1391.4,900.2 L1391.9,900.4 L1392.3,899.6 L1392.8,901.9 L1393.2,899.9 L1393.7,900.9 L1394.2,900.9 L1394.6,901.4 L1395.1,901.9 L1395.5,901.0 L1396.0,901.2 L1396.4,900.5 L1396.9,901.7 L1397.4,899.9 L1397.8,900.6 L1398.3,901.0 L1398.7,901.3 L1399.2,901.3 L1399.6,901.5 L1400.1,901.2 L1400.5,900.9 L1401.0,901.0 L1401.5,901.8 L1401.9,901.1 L1402.4,901.4 L1402.8,900.8 L1403.3,899.8 L1403.7,900.5 L1404.2,901.1 L1404.7,901.9 L1405.1,901.8 L1405.6,902.0 L1406.0,900.5 L1406.5,901.4 L1406.9,900.9 L1407.4,901.4 L1407.9,900.9 L1408.3,900.1 L1408.8,901.4 L1409.2,901.2 L1409.7,901.5 L1410.1,900.5 L1410.6,901.7 L1411.0,901.7 L1411.5,901.9 L1412.0,901.9 L1412.4,900.8 L1412.9,899.5 L1413.3,901.7 L1413.8,900.5 L1414.2,900.9 L1414.7,901.8 L1415.2,901.3 L1415.6,901.2 L1416.1,901.5 L1416.5,899.9 L1417.0,902.3 L1417.4,900.9 L1417.9,900.9 L1418.3,901.5 L1418.8,901.0 L1419.3,900.6 L1419.7,901.0 L1420.2,900.9 L1420.6,900.7 L1421.1,902.4 L1421.5,900.3 L1422.0,899.8 L1422.5,900.6 L1422.9,900.6 L1423.4,902.1 L1423.8,901.3 L1424.3,901.7 L1424.7,901.6 L1425.2,900.6 L1425.7,901.7 L1426.1,901.3 L1426.6,902.4 L1427.0,901.3 L1427.5,901.2 L1427.9,901.7 L1428.4,901.7 L1428.8,900.1 L1429.3,902.0 L1429.8,901.9 L1430.2,901.8 L1430.7,900.5 L1431.1,900.0 L1431.6,901.1 L1432.0,901.7 L1432.5,901.6 L1433.0,900.6 L1433.4,901.9 L1433.9,900.4 L1434.3,900.4 L1434.8,901.3 L1435.2,900.9 L1435.7,900.9 L1436.2,900.4 L1436.6,902.0 L1437.1,900.6 L1437.5,901.6 L1438.0,901.8 L1438.4,901.3 L1438.9,901.5 L1439.3,902.0 L1439.8,902.3 L1440.3,901.9 L1440.7,900.5 L1441.2,900.2 L1441.6,901.0 L1442.1,900.6 L1442.5,901.7 L1443.0,901.4 L1443.5,901.2 L1443.9,902.0 L1444.4,902.0 L1444.8,901.3 L1445.3,901.6 L1445.7,902.0 L1446.2,901.2 L1446.7,901.6 L1447.1,900.8 L1447.6,901.4 L1448.0,901.6 L1448.5,901.3 L1448.9,901.5 L1449.4,901.8 L1449.8,901.7 L1450.3,901.0 L1450.8,901.0 L1451.2,900.6 L1451.7,902.5 L1452.1,901.7 L1452.6,901.7 L1453.0,901.3 L1453.5,901.7 L1454.0,901.8 L1454.4,901.0 L1454.9,901.3 L1455.3,902.2 L1455.8,900.6 L1456.2,900.9 L1456.7,901.8 L1457.2,901.0 L1457.6,901.9 L1458.1,900.8 L1458.5,901.6 L1459.0,902.0 L1459.4,901.7 L1459.9,901.9 L1460.3,901.4 L1460.8,901.4 L1461.3,901.5 L1461.7,901.8 L1462.2,903.7 L1462.6,901.4 L1463.1,902.7 L1463.5,901.4 L1464.0,900.8 L1464.5,901.3 L1464.9,901.7 L1465.4,901.6 L1465.8,901.6 L1466.3,901.8 L1466.7,901.9 L1467.2,902.1 L1467.7,900.8 L1468.1,901.5 L1468.6,900.9 L1469.0,901.7 L1469.5,901.5 L1469.9,901.6 L1470.4,901.3 L1470.8,901.0 L1471.3,901.4 L1471.8,902.0 L1472.2,902.0 L1472.7,900.5 L1473.1,901.7 L1473.6,901.7 L1474.0,900.7 L1474.5,900.9 L1475.0,901.2 L1475.4,901.8 L1475.9,900.1 L1476.3,901.3 L1476.8,901.2 L1477.2,901.7 L1477.7,902.4 L1478.1,902.4 L1478.6,901.3 L1479.1,901.3 L1479.5,901.7 L1480.0,902.3 L1480.4,902.5 L1480.9,901.8 L1481.3,902.5 L1481.8,901.0 L1482.3,900.9 L1482.7,899.9 L1483.2,901.1 L1483.6,902.0 L1484.1,902.1 L1484.5,903.7 L1485.0,902.0 L1485.5,901.7 L1485.9,901.0 L1486.4,901.2 L1486.8,901.3 L1487.3,901.5 L1487.7,901.2 L1488.2,900.7 L1488.6,902.3 L1489.1,901.9 L1489.6,902.5 L1490.0,900.7 L1490.5,900.8 L1490.9,901.2 L1491.4,902.4 L1491.8,901.5 L1492.3,901.8 L1492.8,901.6 L1493.2,901.8 L1493.7,901.3 L1494.1,901.9 L1494.6,901.1 L1495.0,901.5 L1495.5,901.8 L1496.0,901.7 L1496.4,901.9 L1496.9,901.2 L1497.3,901.8 L1497.8,901.5 L1498.2,901.9 L1498.7,902.6 L1499.1,901.1 L1499.6,902.3 L1500.1,901.3 L1500.5,901.4 L1501.0,902.7 L1501.4,902.2 L1501.9,902.0 L1502.3,902.2 L1502.8,902.4 L1503.3,901.2 L1503.7,901.8 L1504.2,901.5 L1504.6,901.9 L1505.1,901.5 L1505.5,902.1 L1506.0,901.7 L1506.5,901.3 L1506.9,901.7 L1507.4,902.0 L1507.8,902.4 L1508.3,901.6 L1508.7,901.5 L1509.2,901.9 L1509.6,902.2 L1510.1,901.4 L1510.6,900.2 L1511.0,901.9 L1511.5,901.5 L1511.9,901.5 L1512.4,903.3 L1512.8,901.6 L1513.3,902.1 L1513.8,900.9 L1514.2,901.9 L1514.7,902.2 L1515.1,901.9 L1515.6,901.6 L1516.0,902.1 L1516.5,901.8 L1517.0,902.5 L1517.4,901.9 L1517.9,901.3 L1518.3,900.6 L1518.8,901.3 L1519.2,901.6 L1519.7,901.0 L1520.1,901.1 L1520.6,900.7 L1521.1,901.1 L1521.5,901.8 L1522.0,901.6 L1522.4,901.6 L1522.9,901.6 L1523.3,901.6 L1523.8,902.2 L1524.3,903.0 L1524.7,902.2 L1525.2,903.0 L1525.6,901.7 L1526.1,901.8 L1526.5,902.8 L1527.0,901.3 L1527.5,901.2 L1527.9,901.7 L1528.4,900.8 L1528.8,900.6 L1529.3,902.5 L1529.7,901.1 L1530.2,901.5 L1530.6,901.5 L1531.1,901.2 L1531.6,902.2 L1532.0,902.1 L1532.5,902.3 L1532.9,902.2 L1533.4,901.8 L1533.8,902.6 L1534.3,902.4 L1534.8,901.4 L1535.2,901.8 L1535.7,901.5 L1536.1,902.9 L1536.6,902.2 L1537.0,902.1 L1537.5,901.7 L1537.9,902.1 L1538.4,901.2 L1538.9,901.8 L1539.3,901.7 L1539.8,901.7 L1540.2,901.3 L1540.7,902.0 L1541.1,901.0 L1541.6,901.4 L1542.1,901.5 L1542.5,901.5 L1543.0,901.2 L1543.4,900.8 L1543.9,900.8 L1544.3,901.0 L1544.8,900.6 L1545.3,900.9 L1545.7,900.1 L1546.2,900.7 L1546.6,901.7 L1547.1,899.5 L1547.5,900.1 L1548.0,900.7 L1548.4,900.0 L1548.9,900.3 L1549.4,898.5 L1549.4,899.4 L1549.8,900.7 L1550.3,899.5 L1550.7,900.2 L1551.2,899.0 L1551.6,901.0 L1552.1,901.9 L1552.6,900.7 L1553.0,901.1 L1553.5,901.3 L1553.9,902.4 L1554.4,901.0 L1554.8,900.4 L1555.3,902.6 L1555.8,900.8 L1556.2,901.9 L1556.7,900.2 L1557.1,901.4 L1557.6,901.8 L1558.0,901.1 L1558.5,901.4 L1558.9,902.1 L1559.4,901.4 L1559.9,902.1 L1560.3,902.9 L1560.8,900.6 L1561.2,902.0 L1561.7,902.2 L1562.1,901.6 L1562.6,902.8 L1563.1,902.6 L1563.5,902.1 L1564.0,902.2 L1564.4,901.8 L1564.9,901.2 L1565.3,902.1 L1565.8,901.6 L1566.3,901.5 L1566.7,902.5 L1567.2,901.7 L1567.6,902.4 L1568.1,901.2 L1568.5,901.6 L1569.0,901.9 L1569.4,902.7 L1569.9,901.8 L1570.4,902.3 L1570.8,901.5 L1571.3,902.0 L1571.7,902.4 L1572.2,901.4 L1572.6,901.5 L1573.1,902.3 L1573.6,901.2 L1574.0,902.1 L1574.5,902.1 L1574.9,901.8 L1575.4,902.4 L1575.8,902.2 L1576.3,902.0 L1576.8,901.0 L1577.2,901.0 L1577.7,902.1 L1578.1,901.0 L1578.6,901.9 L1579.0,901.7 L1579.5,901.4 L1579.9,901.8 L1580.4,900.5 L1580.9,901.8 L1581.3,902.6 L1581.8,901.2 L1582.2,902.2 L1582.7,902.1 L1583.1,903.7 L1583.6,901.3 L1584.1,901.5 L1584.5,901.5 L1585.0,901.4 L1585.4,900.9 L1585.9,902.0 L1586.3,901.4 L1586.8,902.4 L1587.3,902.1 L1587.7,901.3 L1588.2,901.7 L1588.6,902.7 L1589.1,901.7 L1589.5,902.0 L1590.0,902.4 L1590.4,901.7 L1590.9,902.2 L1591.4,902.9 L1591.8,902.6 L1592.3,900.9 L1592.7,902.8 L1593.2,901.8 L1593.6,901.6 L1594.1,901.5 L1594.6,902.6 L1595.0,902.1 L1595.5,901.8 L1595.9,901.4 L1596.4,902.3 L1596.8,902.6 L1597.3,901.3 L1597.7,901.2 L1598.2,901.6 L1598.7,902.2 L1599.1,901.6 L1599.6,901.7 L1600.0,901.3 L1600.5,902.5 L1600.9,901.6 L1601.4,901.7 L1601.9,902.2 L1602.3,901.4 L1602.8,901.4 L1603.2,901.5 L1603.7,900.9 L1604.1,901.8 L1604.6,900.8 L1605.1,900.3 L1605.5,900.2 L1606.0,899.6 L1606.4,900.8 L1606.9,900.8 L1607.3,899.8 L1607.6,899.6 L1607.8,898.7 L1608.2,899.6 L1608.7,900.6 L1609.2,899.8 L1609.6,900.9 L1610.1,901.5 L1610.5,899.3 L1611.0,900.8 L1611.4,900.7 L1611.9,900.9 L1612.4,900.3 L1612.8,901.3 L1613.3,900.9 L1613.7,902.3 L1614.2,902.5 L1614.6,900.9 L1615.1,901.0 L1615.6,901.5 L1616.0,901.7 L1616.5,901.8 L1616.9,902.3 L1617.4,901.0 L1617.8,901.5 L1618.3,901.6 L1618.7,901.7 L1619.2,901.3 L1619.7,901.7 L1620.1,901.5 L1620.6,902.7 L1621.0,901.7 L1621.5,900.7 L1621.9,902.3 L1622.4,902.1 L1622.9,901.5 L1623.3,901.4 L1623.8,901.6 L1624.2,903.0 L1624.7,901.7 L1625.1,902.7 L1625.6,902.5 L1626.1,901.7 L1626.5,902.2 L1627.0,901.6 L1627.4,900.2 L1627.9,901.6 L1628.3,901.6 L1628.8,902.6 L1629.2,902.4 L1629.7,902.7 L1630.2,902.3 L1630.6,902.7 L1631.1,902.4 L1631.5,902.2 L1632.0,902.6 L1632.4,902.9 L1632.9,902.8 L1633.4,901.8 L1633.8,902.0 L1634.3,901.5 L1634.7,901.4 L1635.2,902.2 L1635.6,901.7 L1636.1,902.9 L1636.6,900.7 L1637.0,901.4 L1637.5,902.2 L1637.9,902.7 L1638.4,901.8 L1638.8,903.1 L1639.3,902.5 L1639.7,901.6 L1640.2,902.0 L1640.7,902.3 L1641.1,901.5 L1641.6,902.7 L1642.0,901.9 L1642.5,902.4 L1642.9,902.6 L1643.4,901.8 L1643.9,902.6 L1644.3,901.0 L1644.8,902.4 L1645.2,900.9 L1645.7,902.7 L1646.1,901.7 L1646.6,902.8 L1647.1,902.8 L1647.5,902.0 L1648.0,901.7 L1648.4,902.8 L1648.9,901.4 L1649.3,902.5 L1649.8,902.0 L1650.2,901.8 L1650.7,901.7 L1651.2,903.1 L1651.6,901.1 L1652.1,901.7 L1652.5,902.3 L1653.0,902.7 L1653.4,903.0 L1653.9,902.9 L1654.4,901.8 L1654.8,902.3 L1655.3,902.7 L1655.7,902.4 L1656.2,901.2 L1656.6,902.3 L1657.1,902.4 L1657.5,901.3 L1658.0,901.8 L1658.5,902.0 L1658.9,902.4 L1659.4,903.0 L1659.8,902.7 L1660.3,902.3 L1660.7,902.2 L1661.2,901.9 L1661.7,901.7 L1662.1,901.9 L1662.6,901.9 L1663.0,902.6 L1663.5,903.3 L1663.9,902.4 L1664.4,902.6 L1664.9,902.4 L1665.3,902.2 L1665.8,902.8 L1666.2,902.7 L1666.7,902.1 L1667.1,902.0 L1667.6,902.4 L1668.0,901.8 L1668.5,902.2 L1669.0,902.6 L1669.4,902.0 L1669.9,901.0 L1670.3,902.4 L1670.8,901.4 L1671.2,901.2 L1671.7,901.2 L1672.2,902.5 L1672.6,900.9 L1673.1,902.0 L1673.5,902.2 L1674.0,902.2 L1674.4,901.7 L1674.9,902.0 L1675.4,902.1 L1675.8,901.3 L1676.3,902.4 L1676.7,902.6 L1677.2,901.6 L1677.6,901.6 L1678.1,901.4 L1678.5,902.6 L1679.0,901.4 L1679.5,901.7 L1679.9,901.0 L1680.4,902.7 L1680.8,901.9 L1681.3,902.1 L1681.7,902.9 L1682.2,902.4 L1682.7,901.3 L1683.1,902.2 L1683.6,902.4 L1684.0,901.5 L1684.5,901.4 L1684.9,901.4 L1685.4,902.4 L1685.9,902.0 L1686.3,901.4 L1686.8,902.3 L1687.2,902.4 L1687.7,901.5 L1688.1,901.0 L1688.6,902.6 L1689.0,903.4 L1689.5,902.8 L1690.0,902.5 L1690.4,902.0 L1690.9,901.6 L1691.3,902.0 L1691.8,902.3 L1692.2,901.8 L1692.7,902.4 L1693.2,901.9 L1693.6,902.2 L1694.1,900.3 L1694.5,901.4 L1695.0,902.3 L1695.4,902.4 L1695.9,902.1 L1696.4,902.8 L1696.8,902.3 L1697.3,902.3 L1697.7,901.3 L1698.2,902.1 L1698.6,902.3 L1699.1,902.6 L1699.5,902.5 L1700.0,901.8 L1700.5,901.9 L1700.9,901.1 L1701.4,902.1 L1701.8,901.2 L1702.3,901.6 L1702.7,901.7 L1703.2,902.9 L1703.7,902.5 L1704.1,901.3 L1704.6,900.9 L1705.0,901.6 L1705.5,901.3 L1705.9,901.9 L1706.4,901.9 L1706.9,902.0 L1707.3,901.1 L1707.8,901.4 L1708.2,901.8 L1708.7,901.8 L1709.1,901.3 L1709.6,901.4 L1710.0,902.1 L1710.5,900.6 L1711.0,901.4 L1711.4,901.5 L1711.9,900.7 L1712.3,900.9 L1712.8,901.5 L1713.2,901.2 L1713.7,902.1 L1714.2,901.8 L1714.6,902.7 L1715.1,900.7 L1715.5,902.5 L1716.0,901.0 L1716.4,901.8 L1716.9,901.9 L1717.3,901.4 L1717.8,901.1 L1718.3,900.9 L1718.7,900.2 L1719.2,901.0 L1719.6,900.7 L1720.1,901.5 L1720.5,900.7 L1721.0,901.0 L1721.5,901.3 L1721.9,901.1 L1722.4,901.0 L1722.8,900.8 L1723.3,900.6 L1723.7,901.1 L1724.2,901.2 L1724.7,900.2 L1725.1,901.5 L1725.6,900.8 L1726.0,899.4 L1726.5,901.7 L1726.9,900.4 L1727.4,899.4 L1727.8,900.5 L1728.3,897.8 L1728.8,900.4 L1729.2,897.8 L1729.7,897.4 L1730.1,897.4 L1730.6,897.8 L1731.0,897.2 L1731.5,897.7 L1732.0,896.7 L1732.0,897.7 L1732.4,897.3 L1732.9,896.6 L1733.3,898.0 L1733.8,897.8 L1734.2,897.7 L1734.7,898.8 L1735.2,897.6 L1735.6,898.2 L1736.1,899.5 L1736.5,898.8 L1737.0,899.3 L1737.4,899.3 L1737.9,898.9 L1738.3,899.4 L1738.8,898.4 L1739.3,899.3 L1739.7,898.3 L1740.2,898.9 L1740.6,898.3 L1741.1,899.0 L1741.5,898.9 L1742.0,899.1 L1742.5,898.0 L1742.9,897.7 L1743.4,896.9 L1743.8,897.2 L1744.3,897.6 L1744.7,897.7 L1745.2,897.2 L1745.7,897.3 L1746.1,896.2 L1746.6,896.3 L1747.0,897.1 L1747.5,896.8 L1747.9,895.3 L1748.4,895.7 L1748.8,895.7 L1749.3,894.5 L1749.8,895.1 L1750.2,894.7 L1750.7,894.4 L1751.1,894.8 L1751.6,892.7 L1752.0,893.4 L1752.5,892.5 L1753.0,892.0 L1753.4,890.6 L1753.9,890.3 L1754.3,889.5 L1754.8,889.6 L1755.2,887.8 L1755.7,887.6 L1756.2,885.5 L1756.6,884.2 L1757.1,883.0 L1757.5,880.3 L1758.0,879.4 L1758.4,877.3 L1758.9,875.3 L1759.3,872.9 L1759.8,869.2 L1760.3,865.7 L1760.7,863.1 L1761.2,857.2 L1761.6,852.3 L1762.1,845.9 L1762.5,839.3 L1763.0,832.3 L1763.5,823.3 L1763.9,811.6 L1764.4,801.5 L1764.8,790.6 L1765.3,777.3 L1765.7,765.5 L1766.2,755.0 L1766.7,745.6 L1767.1,738.2 L1767.3,734.8 L1767.6,733.4 L1768.0,732.7 L1768.5,734.2 L1768.9,737.6 L1769.4,743.9 L1769.8,748.2 L1770.3,754.3 L1770.8,760.8 L1771.2,767.5 L1771.7,775.1 L1772.1,783.9 L1772.6,794.0 L1773.0,803.1 L1773.5,811.3 L1774.0,822.1 L1774.4,831.0 L1774.9,837.6 L1775.3,844.4 L1775.8,850.6 L1776.2,856.9 L1776.7,860.4 L1777.1,865.6 L1777.6,869.4 L1778.1,872.2 L1778.5,874.7 L1779.0,876.6 L1779.4,878.8 L1779.9,881.0 L1780.3,882.1 L1780.8,884.1 L1781.3,884.9 L1781.7,887.4 L1782.2,888.5 L1782.6,888.2 L1783.1,890.2 L1783.5,890.4 L1784.0,891.0 L1784.5,891.9 L1784.9,892.5 L1785.4,892.0 L1785.8,894.7 L1786.3,893.2 L1786.7,892.9 L1787.2,894.6 L1787.6,895.0 L1788.1,894.9 L1788.6,894.6 L1789.0,896.6 L1789.5,896.2 L1789.9,896.6 L1790.4,896.4 L1790.8,896.9 L1791.3,896.8 L1791.8,897.7 L1792.2,897.6 L1792.7,898.2 L1793.1,898.3 L1793.6,898.2 L1794.0,898.4 L1794.5,899.1 L1795.0,897.7 L1795.4,898.8 L1795.9,899.6 L1796.3,898.4 L1796.8,899.5 L1797.2,898.9 L1797.7,899.3 L1798.1,899.3 L1798.6,899.4 L1799.1,899.9 L1799.5,899.7 L1800.0,898.6 L1800.4,901.1 L1800.9,899.9 L1801.3,899.8 L1801.8,900.7 L1802.3,900.9 L1802.7,899.0 L1803.2,900.5 L1803.6,899.2 L1804.1,900.1 L1804.5,900.4 L1805.0,900.2 L1805.5,900.2 L1805.9,899.9 L1806.4,900.4 L1806.8,900.6 L1807.3,900.6 L1807.7,900.0 L1808.2,900.4 L1808.6,901.4 L1809.1,901.3 L1809.6,900.8 L1810.0,901.3 L1810.5,901.2 L1810.9,901.6 L1811.4,901.2 L1811.8,900.9 L1812.3,900.6 L1812.8,901.2 L1813.2,900.1 L1813.7,901.3 L1814.1,899.5 L1814.6,900.7 L1815.0,901.0 L1815.5,901.6 L1816.0,902.9 L1816.4,901.5 L1816.9,901.3 L1817.3,900.4 L1817.8,902.2 L1818.2,900.4 L1818.7,901.6 L1819.1,901.1 L1819.6,902.9 L1820.1,901.5 L1820.5,901.8 L1821.0,901.2 L1821.4,901.6 L1821.9,902.3 L1822.3,901.1 L1822.8,901.3 L1823.3,901.3 L1823.7,901.1 L1824.2,901.1 L1824.6,901.7 L1825.1,902.5 L1825.5,902.5 L1826.0,901.0 L1826.5,901.4 L1826.9,901.7 L1827.4,902.0 L1827.8,901.7 L1828.3,901.8 L1828.7,902.0 L1829.2,902.2 L1829.6,900.6 L1830.1,901.6 L1830.6,902.1 L1831.0,902.4 L1831.5,902.1 L1831.9,901.2 L1832.4,901.2 L1832.8,901.6 L1833.3,901.4 L1833.8,901.5 L1834.2,901.9 L1834.7,900.4 L1835.1,900.9 L1835.6,899.6 L1836.0,901.3 L1836.5,901.0 L1836.9,900.4 L1837.0,901.0 L1837.4,901.7 L1837.9,901.5 L1838.3,901.0 L1838.8,900.9 L1839.2,901.3 L1839.7,900.8 L1840.1,900.9 L1840.6,901.4 L1841.1,901.6 L1841.5,901.9 L1842.0,901.5 L1842.4,901.4 L1842.9,901.9 L1843.3,901.7 L1843.8,902.2 L1844.3,902.8 L1844.7,902.6 L1845.2,901.7 L1845.6,901.9 L1846.1,901.2 L1846.5,902.1 L1847.0,901.7 L1847.4,901.4 L1847.9,901.6 L1848.4,902.5 L1848.8,902.3 L1849.3,902.1 L1849.7,902.7 L1850.2,901.9 L1850.6,901.7 L1851.1,902.5 L1851.6,901.1 L1852.0,902.4 L1852.5,902.4 L1852.9,902.4 L1853.4,902.6 L1853.8,902.0 L1854.3,902.3 L1854.8,901.4 L1855.2,901.9 L1855.7,902.0 L1856.1,902.4 L1856.6,903.1 L1857.0,902.3 L1857.5,902.8 L1857.9,901.8 L1858.4,902.3 L1858.9,901.4 L1859.3,901.9 L1859.8,901.9 L1860.2,902.2 L1860.7,902.2 L1861.1,902.0 L1861.6,901.8 L1862.1,902.7 L1862.5,902.1 L1863.0,900.9 L1863.4,902.4 L1863.9,902.5 L1864.3,902.7 L1864.8,903.2 L1865.3,901.7 L1865.7,902.3 L1866.2,902.2 L1866.6,901.4 L1867.1,901.0 L1867.5,902.9 L1868.0,901.8 L1868.4,902.1 L1868.9,902.2 L1869.4,902.1 L1869.8,902.4 L1870.3,901.5 L1870.7,902.1 L1871.2,902.2 L1871.6,901.7 L1872.1,901.9 L1872.6,902.2 L1873.0,902.2 L1873.5,901.5 L1873.9,902.2 L1874.4,902.5 L1874.8,902.9 L1875.3,902.6 L1875.8,903.0 L1876.2,902.4 L1876.7,902.3 L1877.1,903.6 L1877.6,902.4 L1878.0,902.1 L1878.5,902.4 L1878.9,903.0 L1879.4,901.8 L1879.9,902.8 L1880.3,903.1 L1880.8,903.1 L1881.2,902.5 L1881.7,901.9 L1882.1,901.8 L1882.6,902.4 L1883.1,903.1 L1883.5,902.8 L1884.0,903.0 L1884.4,902.6 L1884.9,903.4 L1885.3,902.4 L1885.8,902.1 L1886.3,902.6 L1886.7,902.2 L1887.2,903.0 L1887.6,903.3 L1888.1,902.8 L1888.5,901.9 L1889.0,901.9 L1889.4,902.7 L1889.9,901.8 L1890.4,902.7 L1890.8,901.7 L1891.3,902.2 L1891.7,902.8 L1892.2,902.1 L1892.6,902.9 L1893.1,903.0 L1893.6,903.3 L1894.0,902.4 L1894.5,902.5 L1894.9,902.6 L1895.4,902.7 L1895.8,901.7 L1896.3,902.8 L1896.8,902.9 L1897.2,901.8 L1897.7,901.8 L1898.1,902.3 L1898.6,903.5 L1899.0,902.9 L1899.5,902.2 L1899.9,902.5 L1900.4,901.7 L1900.9,903.3 L1901.3,902.2 L1901.8,902.9 L1902.2,901.8 L1902.7,902.6 L1903.1,902.0 L1903.6,902.9 L1904.1,903.3 L1904.5,903.1 L1905.0,902.9 L1905.4,903.1 L1905.9,901.9 L1906.3,901.8 L1906.8,902.4 L1907.2,903.1 L1907.7,902.6 L1908.2,902.9 L1908.6,901.8 L1909.1,902.4 L1909.5,902.3 L1910.0,902.8 L1910.4,903.6 L1910.9,903.0 L1911.4,903.1 L1911.8,902.3 L1912.3,902.5 L1912.7,903.0 L1913.2,902.7 L1913.6,901.7 L1914.1,903.1 L1914.6,903.0 L1915.0,902.7 L1915.5,902.9 L1915.9,902.8 L1916.4,902.3 L1916.8,901.6 L1917.3,903.5 L1917.7,902.5 L1918.2,902.5 L1918.7,902.6 L1919.1,902.6 L1919.6,902.7 L1920.0,902.0 L1920.5,902.8 L1920.9,902.6 L1921.4,902.5 L1921.9,902.5 L1922.3,902.6 L1922.8,902.0 L1923.2,902.5 L1923.7,902.4 L1924.1,902.6 L1924.6,903.1 L1925.1,903.0 L1925.5,903.1 L1926.0,902.4 L1926.4,902.9 L1926.9,903.1 L1927.3,902.4 L1927.8,902.2 L1928.2,903.5 L1928.7,901.6 L1929.2,902.5 L1929.6,902.6 L1930.1,902.0 L1930.5,902.5 L1931.0,902.9 L1931.4,901.3 L1931.9,903.1 L1932.4,902.6 L1932.8,902.1 L1933.3,903.1 L1933.7,902.6 L1934.2,902.3 L1934.6,901.2 L1935.1,903.0 L1935.6,902.5 L1936.0,902.2 L1936.5,902.5 L1936.9,903.2 L1937.4,902.3 L1937.8,902.5 L1938.3,902.3 L1938.7,901.9 L1939.2,902.0 L1939.7,902.3 L1940.1,902.3 L1940.6,903.1 L1941.0,902.6 L1941.5,902.4 L1941.9,902.7 L1942.4,902.4 L1942.9,902.9 L1943.3,901.7 L1943.8,901.3 L1944.2,902.7 L1944.7,902.3 L1945.1,902.6 L1945.6,901.8 L1946.1,902.3 L1946.5,902.4 L1947.0,902.6 L1947.4,902.4 L1947.9,903.0 L1948.3,902.1 L1948.8,902.9 L1949.2,902.2 L1949.7,902.4 L1950.2,901.9 L1950.6,902.5 L1951.1,901.9 L1951.5,903.0 L1952.0,902.1 L1952.4,902.6 L1952.9,902.4 L1953.4,902.4 L1953.8,902.0 L1954.3,903.5 L1954.7,902.3 L1955.2,903.2 L1955.6,901.8 L1956.1,903.5 L1956.6,903.0 L1957.0,903.3 L1957.5,901.6 L1957.9,903.1 L1958.4,902.4 L1958.8,902.7 L1959.3,903.4 L1959.7,902.6 L1960.2,902.1 L1960.7,902.5 L1961.1,901.9 L1961.6,902.6 L1962.0,902.4 L1962.5,902.6 L1962.9,902.2 L1963.4,901.4 L1963.9,902.2 L1964.3,902.3 L1964.8,902.7 L1965.2,902.8 L1965.7,901.6 L1966.1,903.0 L1966.6,902.9 L1967.0,902.4 L1967.5,902.6 L1968.0,901.3 L1968.4,903.6 L1968.9,902.2 L1969.3,902.0 L1969.8,902.9 L1970.2,902.7 L1970.7,902.1 L1971.2,901.5 L1971.6,902.8 L1972.1,903.2 L1972.5,901.8 L1973.0,901.5 L1973.4,902.5 L1973.9,903.5 L1974.4,901.5 L1974.8,902.4 L1975.3,901.7 L1975.7,902.3 L1976.2,902.5 L1976.6,902.5 L1977.1,901.5 L1977.5,901.5 L1978.0,903.4 L1978.5,902.7 L1978.9,901.3 L1979.4,902.4 L1979.8,903.0 L1980.3,902.2 L1980.7,902.3 L1981.2,902.3 L1981.7,902.5 L1982.1,902.4 L1982.6,902.4 L1983.0,902.0 L1983.5,902.6 L1983.9,902.3 L1984.4,902.2 L1984.9,901.5 L1985.3,901.9 L1985.8,902.2 L1986.2,901.8 L1986.7,901.9 L1987.1,901.5 L1987.6,901.8 L1988.0,901.1 L1988.5,901.4 L1989.0,902.1 L1989.4,902.3 L1989.9,901.6 L1990.3,901.8 L1990.8,902.1 L1991.2,902.8 L1991.7,903.0 L1992.2,901.8 L1992.6,901.6 L1993.1,901.6 L1993.5,902.6 L1994.0,901.4 L1994.4,902.2 L1994.9,901.7 L1995.4,901.7 L1995.8,902.3 L1996.3,902.2 L1996.7,903.0 L1997.2,902.3 L1997.6,902.8 L1998.1,901.6 L1998.5,901.8 L1999.0,901.3 L1999.5,901.6 L1999.9,902.1 L2000.4,901.5 L2000.8,901.9 L2001.3,901.4 L2001.7,901.5 L2002.2,902.2 L2002.7,901.6 L2003.1,901.5 L2003.6,901.7 L2004.0,901.0 L2004.5,900.5 L2004.9,901.6 L2005.4,901.5 L2005.9,902.4 L2006.3,901.2 L2006.8,901.2 L2007.2,902.0 L2007.7,900.6 L2008.1,900.3 L2008.6,900.9 L2009.0,900.6 L2009.5,900.8 L2010.0,899.8 L2010.4,901.0 L2010.4,900.3 L2010.9,899.1 L2011.3,900.2 L2011.8,900.0 L2012.2,900.4 L2012.7,901.0 L2013.2,900.5 L2013.6,900.3 L2014.1,901.1 L2014.5,900.5 L2015.0,900.0 L2015.4,900.1 L2015.9,901.6 L2016.4,901.3 L2016.8,901.6 L2017.3,900.2 L2017.7,900.4 L2018.2,900.3 L2018.6,901.1 L2019.1,901.2 L2019.5,900.6 L2020.0,900.5 L2020.5,901.0 L2020.9,900.4 L2021.4,900.1 L2021.8,900.3 L2022.3,900.9 L2022.7,901.4 L2023.2,900.4 L2023.7,900.1 L2024.1,900.2 L2024.6,900.3 L2025.0,900.3 L2025.5,899.5 L2025.9,899.9 L2026.4,899.7 L2026.8,900.2 L2027.3,900.0 L2027.8,899.5 L2028.2,900.0 L2028.7,900.0 L2029.1,899.5 L2029.6,898.6 L2030.0,899.0 L2030.5,898.2 L2031.0,899.0 L2031.4,898.9 L2031.9,899.4 L2032.3,898.8 L2032.8,897.7 L2033.2,898.1 L2033.7,897.8 L2034.2,897.6 L2034.6,897.9 L2035.1,897.8 L2035.5,897.5 L2036.0,897.0 L2036.4,896.9 L2036.9,896.7 L2037.3,896.7 L2037.8,897.0 L2038.3,896.5 L2038.7,896.6 L2039.2,895.4 L2039.6,896.7 L2040.1,895.5 L2040.5,893.8 L2041.0,894.9 L2041.5,895.0 L2041.9,894.1 L2042.4,893.1 L2042.8,893.4 L2043.3,892.6 L2043.7,892.5 L2044.2,892.2 L2044.7,889.9 L2045.1,891.0 L2045.6,890.7 L2046.0,890.1 L2046.5,889.0 L2046.9,888.2 L2047.4,887.3 L2047.8,886.8 L2048.3,886.7 L2048.8,884.7 L2049.2,884.1 L2049.7,883.0 L2050.1,882.4 L2050.6,880.5 L2051.0,879.2 L2051.5,877.2 L2052.0,876.1 L2052.4,873.4 L2052.9,871.2 L2053.3,869.5 L2053.8,866.6 L2054.2,863.8 L2054.7,859.6 L2055.2,857.8 L2055.6,852.6 L2056.1,848.8 L2056.5,843.2 L2057.0,837.0 L2057.4,831.6 L2057.9,824.5 L2058.3,817.7 L2058.8,808.3 L2059.3,800.4 L2059.7,791.6 L2060.2,784.0 L2060.6,775.3 L2061.1,766.2 L2061.5,760.1 L2062.0,754.7 L2062.5,750.8 L2062.5,751.6 L2062.9,748.8 L2063.4,749.2 L2063.8,750.4 L2064.3,753.5 L2064.7,756.1 L2065.2,760.4 L2065.7,763.4 L2066.1,767.3 L2066.6,771.5 L2067.0,776.2 L2067.5,781.1 L2067.9,788.2 L2068.4,792.3 L2068.8,799.3 L2069.3,805.8 L2069.8,812.8 L2070.2,820.1 L2070.7,826.1 L2071.1,831.7 L2071.6,837.0 L2072.0,843.4 L2072.5,848.4 L2073.0,851.6 L2073.4,856.8 L2073.9,858.9 L2074.3,863.2 L2074.8,866.7 L2075.2,868.4 L2075.7,870.4 L2076.2,874.2 L2076.6,874.6 L2077.1,877.4 L2077.5,878.1 L2078.0,880.5 L2078.4,882.5 L2078.9,882.7 L2079.3,883.6 L2079.8,884.0 L2080.3,885.2 L2080.7,886.6 L2081.2,887.9 L2081.6,888.8 L2082.1,889.4 L2082.5,890.3 L2083.0,890.6 L2083.5,892.4 L2083.9,891.5 L2084.4,892.1 L2084.8,891.2 L2085.3,892.6 L2085.7,893.6 L2086.2,893.5 L2086.6,894.7 L2087.1,894.8 L2087.6,895.7 L2088.0,894.3 L2088.5,895.0 L2088.9,896.2 L2089.4,895.9 L2089.8,895.6 L2090.3,896.1 L2090.8,896.4 L2091.2,897.2 L2091.7,897.3 L2092.1,897.1 L2092.6,896.8 L2093.0,897.9 L2093.5,898.2 L2094.0,897.2 L2094.4,898.4 L2094.9,897.5 L2095.3,898.1 L2095.8,897.9 L2096.2,897.6 L2096.7,898.2 L2097.1,898.3 L2097.6,899.3 L2098.1,899.2 L2098.5,898.7 L2099.0,898.3 L2099.4,898.4 L2099.9,898.1 L2100.3,899.2 L2100.8,899.3 L2101.3,899.0 L2101.7,899.5 L2102.2,899.7 L2102.6,900.2 L2103.1,899.2 L2103.5,900.4 L2104.0,899.6 L2104.5,900.7 L2104.9,899.4 L2105.4,900.6 L2105.8,899.7 L2106.3,901.0 L2106.7,900.4 L2107.2,899.6 L2107.6,900.7 L2108.1,900.3 L2108.6,900.6 L2109.0,901.6 L2109.5,900.3 L2109.9,900.2 L2110.4,901.1 L2110.8,900.2 L2111.3,901.0 L2111.8,901.1 L2112.2,900.6 L2112.7,901.0 L2113.1,899.5 L2113.6,901.5 L2114.0,900.3 L2114.5,900.2 L2115.0,901.8 L2115.4,901.6 L2115.9,900.5 L2116.3,901.0 L2116.8,900.6 L2117.2,900.2 L2117.7,901.0 L2118.1,901.4 L2118.6,902.2 L2119.1,900.8 L2119.5,901.3 L2120.0,900.7 L2120.4,900.8 L2120.9,901.6 L2121.3,900.0 L2121.8,900.3 L2122.3,900.5 L2122.7,901.5 L2123.2,901.1 L2123.6,901.2 L2124.1,901.1 L2124.5,901.4 L2125.0,900.6 L2125.5,900.7 L2125.9,900.7 L2126.4,901.1 L2126.8,900.2 L2127.3,900.7 L2127.7,902.2 L2128.2,901.1 L2128.6,900.8 L2129.1,900.2 L2129.6,900.8 L2130.0,900.8 L2130.5,901.0 L2130.9,900.3 L2131.4,900.8 L2131.8,900.8 L2132.3,900.9 L2132.8,900.2 L2133.2,900.7 L2133.7,901.2 L2134.1,900.0 L2134.6,900.6 L2135.0,900.0 L2135.5,899.9 L2136.0,899.4 L2136.4,899.4 L2136.9,900.2 L2137.3,899.9 L2137.8,900.4 L2138.2,898.8 L2138.7,899.3 L2139.1,898.7 L2139.6,899.4 L2140.1,900.2 L2140.5,898.2 L2141.0,898.8 L2141.4,898.6 L2141.9,898.4 L2142.3,898.0 L2142.8,897.8 L2143.3,898.6 L2143.7,897.0 L2144.2,897.6 L2144.6,897.2 L2145.1,895.8 L2145.5,895.8 L2146.0,896.1 L2146.4,896.4 L2146.9,894.8 L2147.4,894.1 L2147.8,893.8 L2148.3,893.7 L2148.7,892.6 L2149.2,892.0 L2149.6,890.2 L2150.1,888.8 L2150.6,887.4 L2151.0,886.8 L2151.5,884.7 L2151.9,882.7 L2152.4,881.1 L2152.8,878.7 L2153.3,875.0 L2153.8,873.2 L2154.2,869.9 L2154.7,867.4 L2155.1,863.9 L2155.6,861.5 L2156.0,857.6 L2156.5,854.2 L2156.9,851.4 L2157.4,850.3 L2157.6,850.0 L2157.9,850.0 L2158.3,850.1 L2158.8,850.4 L2159.2,850.9 L2159.7,852.9 L2160.1,853.4 L2160.6,855.8 L2161.1,857.6 L2161.5,858.5 L2162.0,860.2 L2162.4,861.4 L2162.9,861.7 L2163.3,864.1 L2163.8,865.9 L2164.3,867.6 L2164.7,869.8 L2165.2,873.1 L2165.6,874.6 L2166.1,877.4 L2166.5,879.8 L2167.0,881.6 L2167.4,884.4 L2167.9,885.8 L2168.4,887.0 L2168.8,888.1 L2169.3,889.8 L2169.7,890.8 L2170.2,891.3 L2170.6,892.0 L2171.1,893.1 L2171.6,893.5 L2172.0,895.0 L2172.5,895.5 L2172.9,895.7 L2173.4,896.5 L2173.8,897.0 L2174.3,896.3 L2174.8,897.6 L2175.2,898.3 L2175.7,897.8 L2176.1,897.4 L2176.6,898.5 L2177.0,898.2 L2177.5,899.2 L2177.9,899.4 L2178.4,899.7 L2178.9,899.6 L2179.3,898.8 L2179.8,900.4 L2180.2,899.1 L2180.7,900.6 L2181.1,900.3 L2181.6,899.9 L2182.1,900.1 L2182.5,900.4 L2183.0,901.4 L2183.4,900.5 L2183.9,901.3 L2184.3,899.6 L2184.8,901.0 L2185.3,900.9 L2185.7,901.6 L2186.2,901.4 L2186.6,901.8 L2187.1,900.8 L2187.5,901.4 L2188.0,901.1 L2188.4,901.8 L2188.9,901.7 L2189.4,900.9 L2189.8,902.0 L2190.3,902.5 L2190.7,901.4 L2191.2,902.2 L2191.6,901.9 L2192.1,901.3 L2192.6,902.2 L2193.0,901.4 L2193.5,902.2 L2193.9,901.1 L2194.4,901.2 L2194.8,902.2 L2195.3,902.1 L2195.8,902.4 L2196.2,901.9 L2196.7,901.5 L2197.1,902.8 L2197.6,901.6 L2198.0,902.8 L2198.5,902.6 L2198.9,903.0 L2199.4,901.1 L2199.9,902.2 L2200.3,902.1 L2200.8,902.6 L2201.2,901.7 L2201.7,903.3 L2202.1,902.3 L2202.6,901.2 L2203.1,902.5 L2203.5,902.3 L2204.0,902.0 L2204.4,902.8 L2204.9,902.4 L2205.3,901.9 L2205.8,902.3 L2206.2,902.2 L2206.7,902.6 L2207.2,902.3 L2207.6,902.4 L2208.1,901.7 L2208.5,902.1 L2209.0,902.6 L2209.4,903.7 L2209.9,902.1 L2210.4,902.1 L2210.8,903.0 L2211.3,903.5 L2211.7,903.1 L2212.2,902.1 L2212.6,903.1 L2213.1,902.8 L2213.6,902.5 L2214.0,902.0 L2214.5,902.6 L2214.9,902.6 L2215.4,902.9 L2215.8,901.8 L2216.3,902.1 L2216.7,902.7 L2217.2,903.3 L2217.7,903.0 L2218.1,902.4 L2218.6,903.0 L2219.0,902.2 L2219.5,902.5 L2219.9,902.5 L2220.4,902.4 L2220.9,902.4 L2221.3,903.1 L2221.8,902.9 L2222.2,901.6 L2222.7,903.3 L2223.1,903.0 L2223.6,902.2 L2224.1,902.8 L2224.5,903.1 L2225.0,903.4 L2225.4,902.5 L2225.9,902.2 L2226.3,902.1 L2226.8,902.7 L2227.2,902.3 L2227.7,903.3 L2228.2,902.7 L2228.6,903.1 L2229.1,902.7 L2229.5,902.4 L2230.0,902.3 L2230.4,903.3 L2230.9,902.2 L2231.4,903.0 L2231.8,903.3 L2232.3,902.9 L2232.7,903.5 L2233.2,902.8 L2233.6,902.7 L2234.1,902.9 L2234.6,902.6 L2235.0,903.0 L2235.5,902.8 L2235.9,903.5 L2236.4,902.8 L2236.8,903.3 L2237.3,903.1 L2237.7,902.9 L2238.2,902.7 L2238.7,903.7 L2239.1,903.6 L2239.6,903.0 L2240.0,902.6 L2240.5,902.7 L2240.9,902.4 L2241.4,902.2 L2241.9,902.6 L2242.3,902.8 L2242.8,903.3 L2243.2,903.3 L2243.7,903.0 L2244.1,902.7 L2244.6,902.7 L2245.1,902.8 L2245.5,902.8 L2246.0,902.4 L2246.4,902.6 L2246.9,902.5 L2247.3,902.4 L2247.8,902.8 L2248.2,902.9 L2248.7,902.1 L2249.2,902.0 L2249.6,902.2 L2250.1,902.2 L2250.5,900.7 L2251.0,902.1 L2251.4,901.7 L2251.9,901.4 L2252.4,902.1 L2252.4,901.5 L2252.8,900.7 L2253.3,901.2 L2253.7,901.4 L2254.2,901.6 L2254.6,901.9 L2255.1,901.6 L2255.6,902.3 L2256.0,902.5 L2256.5,902.4 L2256.9,902.1 L2257.4,902.5 L2257.8,902.4 L2258.3,903.7 L2258.7,902.2 L2259.2,901.7 L2259.7,902.2 L2260.1,903.0 L2260.6,903.3 L2261.0,902.8 L2261.5,903.4 L2261.9,902.6 L2262.4,903.2 L2262.9,902.5 L2263.3,902.3 L2263.8,904.0 L2264.2,902.8 L2264.7,903.3 L2265.1,903.7 L2265.6,903.3 L2266.0,903.1 L2266.5,902.5 L2267.0,903.7 L2267.4,902.5 L2267.9,902.0 L2268.3,902.7 L2268.8,902.8 L2269.2,903.0 L2269.7,903.6 L2270.2,902.8 L2270.6,902.8 L2271.1,902.7 L2271.5,901.8 L2272.0,902.7 L2272.4,902.8 L2272.9,902.3 L2273.4,903.7 L2273.8,903.6 L2274.3,903.2 L2274.7,903.4 L2275.2,902.7 L2275.6,903.2 L2276.1,902.2 L2276.5,902.3 L2277.0,902.7 L2277.5,903.3 L2277.9,902.8 L2278.4,902.7 L2278.8,903.6 L2279.3,902.9 L2279.7,902.7 L2280.2,903.0 L2280.7,902.3 L2281.1,902.5 L2281.6,903.5 L2282.0,903.0 L2282.5,903.5 L2282.9,902.8 L2283.4,903.5 L2283.9,902.7 L2284.3,902.9 L2284.8,902.6 L2285.2,903.2 L2285.7,903.8 L2286.1,902.3 L2286.6,903.2 L2287.0,902.4 L2287.5,902.9 L2288.0,902.8 L2288.4,902.2 L2288.9,903.0 L2289.3,902.4 L2289.8,903.8 L2290.2,902.7 L2290.7,903.2 L2291.2,903.2 L2291.6,903.1 L2292.1,903.0 L2292.5,902.3 L2293.0,904.0 L2293.4,903.1 L2293.9,903.5 L2294.4,902.6 L2294.8,903.3 L2295.3,902.9 L2295.7,903.3 L2296.2,902.8 L2296.6,902.7 L2297.1,903.3 L2297.5,903.1 L2298.0,903.8 L2298.5,903.0 L2298.9,902.7 L2299.4,903.4 L2299.8,902.6 L2300.3,904.1 L2300.7,904.0 L2301.2,903.8 L2301.7,903.4 L2302.1,903.1 L2302.6,903.2 L2303.0,903.2 L2303.5,902.8 L2303.9,903.4 L2304.4,903.8 L2304.9,903.8 L2305.3,902.1 L2305.8,904.3 L2306.2,903.3 L2306.7,902.5 L2307.1,902.9 L2307.6,903.6 L2308.0,903.2 L2308.5,902.8 L2309.0,902.6 L2309.4,903.6 L2309.9,902.8 L2310.3,903.1 L2310.8,902.6 L2311.2,902.5 L2311.7,903.3 L2312.2,903.9 L2312.6,903.0 L2313.1,902.3 L2313.5,902.9 L2314.0,903.1 L2314.4,902.0 L2314.9,903.7 L2315.4,902.8 L2315.8,903.5 L2316.3,903.2 L2316.7,903.1 L2317.2,902.5 L2317.6,903.6 L2318.1,903.5 L2318.5,904.0 L2319.0,903.0 L2319.5,903.4 L2319.9,903.0 L2320.4,903.7 L2320.8,903.4 L2321.3,902.7 L2321.7,903.3 L2322.2,902.9 L2322.7,903.0 L2323.1,903.4 L2323.6,904.0 L2324.0,902.7 L2324.5,903.1 L2324.9,902.7 L2325.4,904.2 L2325.8,904.0 L2326.3,904.2 L2326.8,903.6 L2327.2,902.7 L2327.7,902.9 L2328.1,903.2 L2328.6,903.2 L2329.0,902.9 L2329.5,903.4 L2330.0,903.0 L2330.4,903.2 L2330.9,904.3 L2331.3,903.4 L2331.8,902.6 L2332.2,903.4 L2332.7,903.3 L2333.2,903.5 L2333.6,903.5 L2334.1,902.7 L2334.5,903.4 L2335.0,903.7 L2335.4,904.7 L2335.9,903.5 L2336.3,904.2 L2336.8,904.1 L2337.3,902.9 L2337.7,902.9 L2338.2,904.1 L2338.6,902.8 L2339.1,903.0 L2339.5,903.6 L2340.0,902.9 L2340.5,904.0 L2340.9,903.8 L2341.4,903.9 L2341.8,903.8 L2342.3,902.8 L2342.7,903.9 L2343.2,903.8 L2343.7,903.7 L2344.1,903.2 L2344.6,903.4 L2345.0,902.8 L2345.5,903.6 L2345.9,903.9 L2346.4,903.5 L2346.8,903.2 L2347.3,903.7 L2347.8,903.1 L2348.2,902.4 L2348.7,903.5 L2349.1,903.2 L2349.6,902.6 L2350.0,903.6 L2350.5,903.7" fill="none" stroke="#B00008" stroke-width="6.5" stroke-linejoin="round" stroke-linecap="round"/>
<path d="M926.9,722.3 L945.9,741.3 L926.9,760.3 L907.9,741.3 Z" fill="#0070C0" stroke="#1B5A8E" stroke-width="1.2" stroke-linejoin="miter"/>
<path d="M1239.0,720.5 L1258.0,739.5 L1239.0,758.5 L1220.0,739.5 Z" fill="#0070C0" stroke="#1B5A8E" stroke-width="1.2" stroke-linejoin="miter"/>
<path d="M1355.0,722.0 L1374.0,741.0 L1355.0,760.0 L1336.0,741.0 Z" fill="#0070C0" stroke="#1B5A8E" stroke-width="1.2" stroke-linejoin="miter"/>
<path d="M1414.0,721.0 L1433.0,740.0 L1414.0,759.0 L1395.0,740.0 Z" fill="#0070C0" stroke="#1B5A8E" stroke-width="1.2" stroke-linejoin="miter"/>
<path d="M1555.2,722.0 L1574.2,741.0 L1555.2,760.0 L1536.2,741.0 Z" fill="#0070C0" stroke="#1B5A8E" stroke-width="1.2" stroke-linejoin="miter"/>
<path d="M1612.8,723.4 L1631.8,742.4 L1612.8,761.4 L1593.8,742.4 Z" fill="#0070C0" stroke="#1B5A8E" stroke-width="1.2" stroke-linejoin="miter"/>
<path d="M1729.3,722.0 L1748.3,741.0 L1729.3,760.0 L1710.3,741.0 Z" fill="#0070C0" stroke="#1B5A8E" stroke-width="1.2" stroke-linejoin="miter"/>
<circle cx="929.6" cy="841.9" r="16.5" fill="#720A70" stroke="#4A0848" stroke-width="1.2"/>
<circle cx="1031.7" cy="825.4" r="16.5" fill="#720A70" stroke="#4A0848" stroke-width="1.2"/>
<circle cx="1356.0" cy="846.0" r="16.5" fill="#720A70" stroke="#4A0848" stroke-width="1.2"/>
<circle cx="1551.6" cy="866.2" r="16.5" fill="#720A70" stroke="#4A0848" stroke-width="1.2"/>
<circle cx="1612.2" cy="866.2" r="16.5" fill="#720A70" stroke="#4A0848" stroke-width="1.2"/>
<circle cx="1839.3" cy="861.4" r="16.5" fill="#720A70" stroke="#4A0848" stroke-width="1.2"/>
<circle cx="2017.7" cy="861.4" r="16.5" fill="#720A70" stroke="#4A0848" stroke-width="1.2"/>
<circle cx="2249.2" cy="861.4" r="16.5" fill="#720A70" stroke="#4A0848" stroke-width="1.2"/>
<rect x="1127.5" y="765.5" width="28.0" height="28.0" fill="#000"/>
<rect x="1264.5" y="765.5" width="28.0" height="28.0" fill="#000"/>
<rect x="1720.0" y="785.6" width="28.0" height="28.0" fill="#000"/>
<rect x="2001.3" y="787.3" width="28.0" height="28.0" fill="#000"/>
<rect x="2101.3" y="787.3" width="28.0" height="28.0" fill="#000"/>
<path d="M1148.0,109.0 L1192.0,153.0 M1148.0,153.0 L1192.0,109.0" stroke="#E46C0A" stroke-width="9" stroke-linecap="round" fill="none"/>
<path d="M1289.8,576.3 L1333.8,620.3 M1289.8,620.3 L1333.8,576.3" stroke="#E46C0A" stroke-width="9" stroke-linecap="round" fill="none"/>
<path d="M1744.7,657.8 L1788.7,701.8 M1744.7,701.8 L1788.7,657.8" stroke="#E46C0A" stroke-width="9" stroke-linecap="round" fill="none"/>
<path d="M2040.4,690.4 L2084.4,734.4 M2040.4,734.4 L2084.4,690.4" stroke="#E46C0A" stroke-width="9" stroke-linecap="round" fill="none"/>
<path d="M2138.4,801.8 L2182.4,845.8 M2138.4,845.8 L2182.4,801.8" stroke="#E46C0A" stroke-width="9" stroke-linecap="round" fill="none"/>
<path d="M1263.0,70.0 L1307.0,114.0 M1263.0,114.0 L1307.0,70.0" stroke="#E46C0A" stroke-width="9" stroke-linecap="round" fill="none"/>
<circle cx="1289.0" cy="177.0" r="16.5" fill="#720A70" stroke="#4A0848" stroke-width="1.2"/>
<rect x="1276.0" y="233.0" width="28.0" height="28.0" fill="#000"/>
<path d="M1292.0,296.5 L1311.0,315.5 L1292.0,334.5 L1273.0,315.5 Z" fill="#0070C0" stroke="#1B5A8E" stroke-width="1.2" stroke-linejoin="miter"/>
<text x="1331.4" y="122.0" font-size="69.5" textLength="684.3" lengthAdjust="spacing">03-065-2871; Silver, Ag</text>
<text x="1331.4" y="205.1" font-size="69.5" textLength="1050.3" lengthAdjust="spacing">00-031-1238; Silver Chloride, Ag Cl</text>
<text x="1331.4" y="278.7" font-size="69.5" textLength="933.7" lengthAdjust="spacing">03-065-6920; Nickel Oxide, NiO</text>
<text x="1331.4" y="348.0" font-size="69.5" textLength="706.9" lengthAdjust="spacing">01-075-2078; Carbon, C</text>
<g stroke="#000" stroke-width="8.5" fill="none">
<path d="M278.5,1157.3 L296.2,1157.3 L296.2,1996.3 L2347.0,1996.3 L2347.0,2016.0" stroke-linejoin="miter"/>
<line x1="278.5" y1="1996.3" x2="296.2" y2="1996.3"/>
<line x1="278.5" y1="1856.5" x2="296.2" y2="1856.5"/>
<line x1="278.5" y1="1716.6" x2="296.2" y2="1716.6"/>
<line x1="278.5" y1="1576.8" x2="296.2" y2="1576.8"/>
<line x1="278.5" y1="1437.0" x2="296.2" y2="1437.0"/>
<line x1="278.5" y1="1297.1" x2="296.2" y2="1297.1"/>
<line x1="278.5" y1="1157.3" x2="296.2" y2="1157.3"/>
<line x1="296.2" y1="1996.3" x2="296.2" y2="2016"/>
<line x1="524.1" y1="1996.3" x2="524.1" y2="2016"/>
<line x1="751.9" y1="1996.3" x2="751.9" y2="2016"/>
<line x1="979.8" y1="1996.3" x2="979.8" y2="2016"/>
<line x1="1207.7" y1="1996.3" x2="1207.7" y2="2016"/>
<line x1="1435.5" y1="1996.3" x2="1435.5" y2="2016"/>
<line x1="1663.4" y1="1996.3" x2="1663.4" y2="2016"/>
<line x1="1891.3" y1="1996.3" x2="1891.3" y2="2016"/>
<line x1="2119.1" y1="1996.3" x2="2119.1" y2="2016"/>
<line x1="2347.0" y1="1996.3" x2="2347.0" y2="2016"/>
</g>
<text x="84.0" y="1178.3" font-size="61" text-anchor="start">24,000</text>
<text x="85.1" y="1321.8" font-size="61" text-anchor="start">20,000</text>
<text x="91.5" y="1458.6" font-size="61" text-anchor="start">16,000</text>
<text x="83.7" y="1598.4" font-size="61" text-anchor="start">12,000</text>
<text x="109.7" y="1740.2" font-size="61" text-anchor="start">8,000</text>
<text x="101.4" y="1879.0" font-size="61" text-anchor="start">4,000</text>
<text x="213.8" y="2015.3" font-size="61" text-anchor="start">0</text>
<text x="281.4" y="2086.7" font-size="61" text-anchor="start">0</text>
<text x="492.8" y="2086.7" font-size="61" text-anchor="start">10</text>
<text x="721.8" y="2086.7" font-size="61" text-anchor="start">20</text>
<text x="949.8" y="2086.7" font-size="61" text-anchor="start">30</text>
<text x="1178.4" y="2086.7" font-size="61" text-anchor="start">40</text>
<text x="1405.5" y="2086.7" font-size="61" text-anchor="start">50</text>
<text x="1633.5" y="2086.7" font-size="61" text-anchor="start">60</text>
<text x="1860.7" y="2086.7" font-size="61" text-anchor="start">70</text>
<text x="2089.3" y="2086.7" font-size="61" text-anchor="start">80</text>
<text x="2317.3" y="2086.7" font-size="61" text-anchor="start">90</text>
<text x="1157.1" y="2182.0" font-size="68.9" text-anchor="start">2θ (degree)</text>
<text transform="translate(65.5,1763.5) rotate(-90)" font-size="69" textLength="239.7" lengthAdjust="spacingAndGlyphs">Intensity</text>
<text transform="translate(65.5,1506.0) rotate(-90)" font-size="69" textLength="134.5" lengthAdjust="spacingAndGlyphs">(a.u)</text>
<rect x="68.8" y="1520" width="18" height="44" fill="#fff"/>
<text x="372.8" y="1244.4" font-size="104" text-anchor="start">(B)</text>
<path d="M410.1,1899.8 L410.6,1897.9 L411.0,1897.9 L411.5,1899.0 L412.0,1898.9 L412.4,1897.3 L412.9,1898.1 L413.3,1901.4 L413.8,1899.6 L414.2,1899.6 L414.7,1898.9 L415.1,1900.4 L415.6,1901.1 L416.1,1901.0 L416.5,1903.0 L417.0,1900.7 L417.4,1901.7 L417.9,1900.4 L418.3,1902.6 L418.8,1902.0 L419.2,1902.9 L419.7,1903.1 L420.2,1900.9 L420.6,1902.6 L421.1,1901.5 L421.5,1903.9 L422.0,1902.3 L422.4,1905.0 L422.9,1903.4 L423.3,1903.6 L423.8,1902.3 L424.3,1903.0 L424.7,1903.7 L425.2,1902.4 L425.6,1903.5 L426.1,1903.2 L426.5,1903.0 L427.0,1904.3 L427.5,1904.8 L427.9,1904.1 L428.4,1905.3 L428.8,1904.3 L429.3,1903.5 L429.7,1904.0 L430.2,1905.9 L430.6,1907.3 L431.1,1905.7 L431.6,1906.0 L432.0,1904.5 L432.5,1906.7 L432.9,1906.6 L433.4,1905.5 L433.8,1907.3 L434.3,1907.0 L434.7,1904.6 L435.2,1905.1 L435.7,1906.4 L436.1,1907.1 L436.6,1908.9 L437.0,1907.0 L437.5,1907.8 L437.9,1907.8 L438.4,1908.9 L438.8,1908.4 L439.3,1908.8 L439.8,1908.3 L440.2,1906.9 L440.7,1908.5 L441.1,1911.4 L441.6,1910.6 L442.0,1911.6 L442.5,1910.7 L442.9,1909.1 L443.4,1909.4 L443.9,1910.9 L444.3,1909.9 L444.8,1911.5 L445.2,1912.5 L445.7,1912.7 L446.1,1912.1 L446.6,1909.2 L447.0,1913.0 L447.5,1909.7 L448.0,1909.8 L448.4,1912.0 L448.9,1911.9 L449.3,1912.9 L449.8,1912.2 L450.2,1911.5 L450.7,1912.5 L451.1,1911.3 L451.6,1911.3 L452.1,1912.5 L452.5,1912.7 L453.0,1913.4 L453.4,1913.0 L453.9,1915.1 L454.3,1913.3 L454.8,1913.7 L455.3,1915.3 L455.7,1911.4 L456.2,1915.7 L456.6,1915.7 L457.1,1914.4 L457.5,1917.5 L458.0,1916.1 L458.4,1917.2 L458.9,1916.7 L459.4,1915.7 L459.8,1915.3 L460.3,1914.4 L460.7,1915.0 L461.2,1914.6 L461.6,1915.6 L462.1,1917.1 L462.5,1915.2 L463.0,1917.5 L463.5,1917.8 L463.9,1915.1 L464.4,1916.3 L464.8,1917.2 L465.3,1916.6 L465.7,1916.6 L466.2,1919.7 L466.6,1918.2 L467.1,1919.8 L467.6,1918.2 L468.0,1919.4 L468.5,1916.9 L468.9,1918.1 L469.4,1920.0 L469.8,1919.0 L470.3,1920.7 L470.7,1919.2 L471.2,1918.7 L471.7,1919.2 L472.1,1922.2 L472.6,1920.2 L473.0,1919.3 L473.5,1919.7 L473.9,1918.7 L474.4,1922.0 L474.8,1919.8 L475.3,1921.4 L475.8,1920.4 L476.2,1920.3 L476.7,1920.1 L477.1,1921.8 L477.6,1921.0 L478.0,1922.8 L478.5,1923.3 L478.9,1920.9 L479.4,1921.8 L479.9,1923.9 L480.3,1923.1 L480.8,1922.1 L481.2,1920.2 L481.7,1921.0 L482.1,1921.5 L482.6,1924.9 L483.1,1922.9 L483.5,1922.3 L484.0,1922.5 L484.4,1922.6 L484.9,1923.6 L485.3,1921.1 L485.8,1921.6 L486.2,1923.8 L486.7,1925.0 L487.2,1921.3 L487.6,1924.7 L488.1,1922.6 L488.5,1921.9 L489.0,1925.6 L489.4,1924.2 L489.9,1925.1 L490.3,1924.2 L490.8,1924.5 L491.3,1922.6 L491.7,1924.4 L492.2,1925.3 L492.6,1924.0 L493.1,1925.9 L493.5,1926.2 L494.0,1923.0 L494.4,1927.0 L494.9,1926.7 L495.4,1926.2 L495.8,1927.7 L496.3,1929.1 L496.7,1925.3 L497.2,1927.7 L497.6,1927.5 L498.1,1927.5 L498.5,1928.4 L499.0,1928.6 L499.5,1927.2 L499.9,1924.5 L500.4,1926.7 L500.8,1926.8 L501.3,1929.8 L501.7,1928.0 L502.2,1929.6 L502.6,1927.3 L503.1,1928.7 L503.6,1928.5 L504.0,1928.8 L504.5,1929.5 L504.9,1930.8 L505.4,1928.3 L505.8,1930.9 L506.3,1930.8 L506.7,1929.8 L507.2,1930.4 L507.7,1929.4 L508.1,1928.6 L508.6,1929.6 L509.0,1929.8 L509.5,1930.2 L509.9,1929.3 L510.4,1932.8 L510.9,1930.1 L511.3,1931.9 L511.8,1932.4 L512.2,1931.0 L512.7,1931.6 L513.1,1930.5 L513.6,1930.0 L514.0,1934.4 L514.5,1931.7 L515.0,1929.3 L515.4,1930.8 L515.9,1930.2 L516.3,1932.0 L516.8,1934.0 L517.2,1933.8 L517.7,1931.6 L518.1,1931.5 L518.6,1933.7 L519.1,1933.2 L519.5,1932.7 L520.0,1935.3 L520.4,1933.7 L520.9,1931.4 L521.3,1930.9 L521.8,1933.8 L522.2,1931.5 L522.7,1934.6 L523.2,1935.0 L523.6,1936.9 L524.1,1933.1 L524.5,1934.9 L525.0,1931.7 L525.4,1934.2 L525.9,1934.5 L526.3,1937.0 L526.8,1933.1 L527.3,1935.5 L527.7,1935.3 L528.2,1937.9 L528.6,1934.2 L529.1,1934.3 L529.5,1936.3 L530.0,1935.6 L530.4,1935.3 L530.9,1934.7 L531.4,1935.9 L531.8,1934.0 L532.3,1936.5 L532.7,1937.0 L533.2,1937.0 L533.6,1939.6 L534.1,1937.6 L534.5,1935.5 L535.0,1936.5 L535.5,1937.9 L535.9,1936.6 L536.4,1939.6 L536.8,1937.6 L537.3,1936.7 L537.7,1936.6 L538.2,1938.5 L538.7,1936.6 L539.1,1935.5 L539.6,1938.4 L540.0,1937.1 L540.5,1940.0 L540.9,1940.6 L541.4,1937.6 L541.8,1938.4 L542.3,1938.3 L542.8,1939.3 L543.2,1939.1 L543.7,1937.9 L544.1,1936.9 L544.6,1939.3 L545.0,1941.1 L545.5,1937.8 L545.9,1938.7 L546.4,1938.7 L546.9,1939.4 L547.3,1936.9 L547.8,1939.7 L548.2,1939.3 L548.7,1942.2 L549.1,1940.8 L549.6,1941.0 L550.0,1940.4 L550.5,1940.0 L551.0,1941.4 L551.4,1938.6 L551.9,1942.0 L552.3,1941.4 L552.8,1940.7 L553.2,1942.5 L553.7,1940.5 L554.1,1940.5 L554.6,1941.7 L555.1,1939.3 L555.5,1941.5 L556.0,1941.4 L556.4,1942.9 L556.9,1943.9 L557.3,1942.8 L557.8,1942.5 L558.2,1942.8 L558.7,1941.4 L559.2,1945.2 L559.6,1943.9 L560.1,1944.8 L560.5,1941.2 L561.0,1943.5 L561.4,1943.6 L561.9,1944.4 L562.3,1942.1 L562.8,1943.8 L563.3,1943.1 L563.7,1945.9 L564.2,1942.3 L564.6,1943.3 L565.1,1943.2 L565.5,1942.5 L566.0,1944.3 L566.4,1944.3 L566.9,1943.4 L567.4,1943.9 L567.8,1944.7 L568.3,1944.5 L568.7,1945.3 L569.2,1944.0 L569.6,1943.8 L570.1,1945.0 L570.6,1942.9 L571.0,1947.0 L571.5,1945.6 L571.9,1943.4 L572.4,1946.0 L572.8,1947.5 L573.3,1944.1 L573.7,1945.2 L574.2,1947.3 L574.7,1945.2 L575.1,1947.3 L575.6,1947.8 L576.0,1946.5 L576.5,1947.0 L576.9,1947.8 L577.4,1947.1 L577.8,1947.9 L578.3,1946.8 L578.8,1947.0 L579.2,1946.3 L579.7,1947.7 L580.1,1948.8 L580.6,1948.9 L581.0,1947.8 L581.5,1945.9 L581.9,1946.7 L582.4,1948.5 L582.9,1946.8 L583.3,1949.2 L583.8,1946.9 L584.2,1948.5 L584.7,1947.3 L585.1,1947.5 L585.6,1948.6 L586.0,1948.0 L586.5,1949.7 L587.0,1948.7 L587.4,1947.4 L587.9,1944.1 L588.3,1948.0 L588.8,1948.8 L589.2,1950.1 L589.7,1947.9 L590.1,1951.0 L590.6,1950.1 L591.1,1948.9 L591.5,1950.7 L592.0,1947.7 L592.4,1948.3 L592.9,1950.3 L593.3,1950.3 L593.8,1951.3 L594.2,1951.4 L594.7,1949.4 L595.2,1949.3 L595.6,1949.7 L596.1,1949.9 L596.5,1950.9 L597.0,1949.9 L597.4,1952.1 L597.9,1950.5 L598.4,1948.9 L598.8,1949.2 L599.3,1951.3 L599.7,1951.2 L600.2,1949.4 L600.6,1949.0 L601.1,1952.7 L601.5,1951.6 L602.0,1951.0 L602.5,1950.0 L602.9,1952.3 L603.4,1950.8 L603.8,1951.9 L604.3,1949.0 L604.7,1951.2 L605.2,1951.9 L605.6,1952.2 L606.1,1950.8 L606.6,1951.3 L607.0,1953.3 L607.5,1952.0 L607.9,1953.8 L608.4,1953.2 L608.8,1953.9 L609.3,1954.0 L609.7,1953.4 L610.2,1953.8 L610.7,1952.2 L611.1,1952.0 L611.6,1953.2 L612.0,1954.2 L612.5,1952.2 L612.9,1955.4 L613.4,1955.4 L613.8,1952.5 L614.3,1952.7 L614.8,1952.4 L615.2,1953.8 L615.7,1955.0 L616.1,1954.3 L616.6,1953.2 L617.0,1954.7 L617.5,1954.7 L617.9,1955.6 L618.4,1955.4 L618.9,1953.3 L619.3,1953.8 L619.8,1955.6 L620.2,1955.6 L620.7,1955.1 L621.1,1954.0 L621.6,1956.0 L622.0,1955.0 L622.5,1957.2 L623.0,1956.3 L623.4,1954.6 L623.9,1954.1 L624.3,1956.4 L624.8,1956.1 L625.2,1954.5 L625.7,1955.8 L626.2,1956.1 L626.6,1955.0 L627.1,1955.5 L627.5,1954.6 L628.0,1955.0 L628.4,1956.5 L628.9,1956.1 L629.3,1956.1 L629.8,1957.6 L630.3,1957.3 L630.7,1955.3 L631.2,1958.1 L631.6,1955.4 L632.1,1956.2 L632.5,1956.8 L633.0,1956.1 L633.4,1956.3 L633.9,1955.6 L634.4,1957.4 L634.8,1957.3 L635.3,1957.4 L635.7,1955.2 L636.2,1956.3 L636.6,1958.3 L637.1,1957.8 L637.5,1958.3 L638.0,1957.6 L638.5,1957.4 L638.9,1955.3 L639.4,1959.7 L639.8,1956.7 L640.3,1957.4 L640.7,1958.6 L641.2,1958.1 L641.6,1958.5 L642.1,1958.0 L642.6,1957.0 L643.0,1959.7 L643.5,1956.8 L643.9,1958.6 L644.4,1956.7 L644.8,1957.9 L645.3,1957.1 L645.7,1957.8 L646.2,1957.4 L646.7,1958.5 L647.1,1959.4 L647.6,1957.9 L648.0,1957.9 L648.5,1956.6 L648.9,1960.9 L649.4,1959.0 L649.8,1957.8 L650.3,1960.2 L650.8,1959.2 L651.2,1956.8 L651.7,1957.6 L652.1,1960.0 L652.6,1957.7 L653.0,1958.0 L653.5,1958.5 L654.0,1958.9 L654.4,1959.1 L654.9,1960.3 L655.3,1960.0 L655.8,1958.8 L656.2,1959.4 L656.7,1957.7 L657.1,1960.0 L657.6,1962.2 L658.1,1960.1 L658.5,1959.5 L659.0,1959.5 L659.4,1959.8 L659.9,1960.8 L660.3,1958.5 L660.8,1960.7 L661.2,1959.4 L661.7,1960.5 L662.2,1961.4 L662.6,1958.8 L663.1,1962.8 L663.5,1961.2 L664.0,1960.0 L664.4,1960.8 L664.9,1959.8 L665.3,1960.7 L665.8,1961.1 L666.3,1958.5 L666.7,1960.9 L667.2,1960.9 L667.6,1961.9 L668.1,1961.6 L668.5,1960.3 L669.0,1960.4 L669.4,1961.0 L669.9,1961.8 L670.4,1960.4 L670.8,1962.8 L671.3,1961.5 L671.7,1961.5 L672.2,1962.1 L672.6,1961.2 L673.1,1962.1 L673.5,1962.2 L674.0,1959.7 L674.5,1960.8 L674.9,1960.4 L675.4,1961.6 L675.8,1960.7 L676.3,1961.0 L676.7,1960.6 L677.2,1959.5 L677.6,1962.1 L678.1,1961.7 L678.6,1962.0 L679.0,1965.5 L679.5,1963.5 L679.9,1962.1 L680.4,1961.6 L680.8,1962.8 L681.3,1961.2 L681.8,1961.1 L682.2,1962.8 L682.7,1961.0 L683.1,1960.8 L683.6,1962.1 L684.0,1963.5 L684.5,1961.2 L684.9,1962.8 L685.4,1963.1 L685.9,1962.7 L686.3,1963.3 L686.8,1961.8 L687.2,1962.2 L687.7,1961.8 L688.1,1962.4 L688.6,1963.8 L689.0,1963.3 L689.5,1962.3 L690.0,1963.6 L690.4,1960.4 L690.9,1963.5 L691.3,1963.9 L691.8,1962.3 L692.2,1962.7 L692.7,1963.5 L693.1,1963.8 L693.6,1963.2 L694.1,1962.8 L694.5,1963.0 L695.0,1964.0 L695.4,1963.4 L695.9,1963.0 L696.3,1963.1 L696.8,1966.8 L697.2,1964.8 L697.7,1964.7 L698.2,1964.2 L698.6,1963.8 L699.1,1963.2 L699.5,1963.5 L700.0,1964.2 L700.4,1964.1 L700.9,1962.5 L701.3,1964.8 L701.8,1964.0 L702.3,1962.8 L702.7,1964.0 L703.2,1966.3 L703.6,1964.0 L704.1,1964.8 L704.5,1964.5 L705.0,1963.5 L705.4,1964.1 L705.9,1964.8 L706.4,1963.7 L706.8,1964.2 L707.3,1964.5 L707.7,1964.4 L708.2,1964.5 L708.6,1965.0 L709.1,1965.2 L709.6,1964.8 L710.0,1965.7 L710.5,1966.0 L710.9,1963.7 L711.4,1965.1 L711.8,1965.0 L712.3,1965.1 L712.7,1965.0 L713.2,1965.0 L713.7,1965.0 L714.1,1965.9 L714.6,1964.3 L715.0,1965.8 L715.5,1964.3 L715.9,1967.0 L716.4,1966.3 L716.8,1964.4 L717.3,1965.5 L717.8,1966.0 L718.2,1965.1 L718.7,1966.4 L719.1,1965.4 L719.6,1967.6 L720.0,1966.0 L720.5,1966.2 L720.9,1965.1 L721.4,1964.8 L721.9,1966.5 L722.3,1964.2 L722.8,1966.3 L723.2,1967.7 L723.7,1968.0 L724.1,1964.4 L724.6,1965.9 L725.0,1966.5 L725.5,1966.6 L726.0,1967.0 L726.4,1964.8 L726.9,1966.1 L727.3,1964.4 L727.8,1966.3 L728.2,1968.3 L728.7,1965.4 L729.1,1966.5 L729.6,1966.4 L730.1,1964.8 L730.5,1966.5 L731.0,1965.3 L731.4,1966.4 L731.9,1967.1 L732.3,1966.0 L732.8,1967.0 L733.2,1965.4 L733.7,1965.6 L734.2,1966.5 L734.6,1966.0 L735.1,1966.1 L735.5,1966.9 L736.0,1965.9 L736.4,1966.9 L736.9,1966.2 L737.3,1967.6 L737.8,1966.7 L738.3,1966.5 L738.7,1967.6 L739.2,1967.3 L739.6,1967.4 L740.1,1966.3 L740.5,1967.6 L741.0,1966.6 L741.5,1965.7 L741.9,1966.8 L742.4,1968.6 L742.8,1967.0 L743.3,1966.3 L743.7,1967.5 L744.2,1966.3 L744.6,1966.7 L745.1,1966.9 L745.6,1967.6 L746.0,1967.8 L746.5,1967.6 L746.9,1967.4 L747.4,1967.0 L747.8,1967.1 L748.3,1967.8 L748.7,1967.5 L749.2,1967.3 L749.7,1969.1 L750.1,1968.3 L750.6,1968.4 L751.0,1967.9 L751.5,1968.0 L751.9,1968.0 L752.4,1968.6 L752.8,1967.2 L753.3,1967.6 L753.8,1969.3 L754.2,1967.9 L754.7,1968.9 L755.1,1966.4 L755.6,1968.3 L756.0,1968.3 L756.5,1967.9 L756.9,1968.1 L757.4,1968.0 L757.9,1966.6 L758.3,1967.8 L758.8,1967.3 L759.2,1967.1 L759.7,1968.9 L760.1,1966.6 L760.6,1967.5 L761.0,1967.3 L761.5,1968.8 L762.0,1967.4 L762.4,1967.8 L762.9,1968.6 L763.3,1966.2 L763.8,1967.7 L764.2,1968.4 L764.7,1968.0 L765.1,1967.4 L765.6,1967.3 L766.1,1967.8 L766.5,1967.2 L767.0,1967.0 L767.4,1969.3 L767.9,1968.7 L768.3,1969.1 L768.8,1968.3 L769.3,1967.1 L769.7,1967.8 L770.2,1969.3 L770.6,1968.7 L771.1,1967.5 L771.5,1968.9 L772.0,1968.5 L772.4,1968.2 L772.9,1970.0 L773.4,1967.8 L773.8,1968.2 L774.3,1968.0 L774.7,1969.4 L775.2,1969.2 L775.6,1969.1 L776.1,1968.4 L776.5,1968.5 L777.0,1968.5 L777.5,1967.1 L777.9,1967.6 L778.4,1969.3 L778.8,1969.2 L779.3,1967.3 L779.7,1969.0 L780.2,1967.6 L780.6,1967.4 L781.1,1969.2 L781.6,1969.0 L782.0,1968.7 L782.5,1969.5 L782.9,1969.6 L783.4,1969.1 L783.8,1968.1 L784.3,1969.2 L784.7,1969.0 L785.2,1969.3 L785.7,1970.0 L786.1,1967.7 L786.6,1970.8 L787.0,1969.5 L787.5,1968.5 L787.9,1970.1 L788.4,1968.5 L788.8,1968.0 L789.3,1969.7 L789.8,1968.9 L790.2,1969.9 L790.7,1968.6 L791.1,1969.0 L791.6,1968.9 L792.0,1968.0 L792.5,1968.7 L792.9,1968.0 L793.4,1968.6 L793.9,1970.1 L794.3,1969.0 L794.8,1968.8 L795.2,1970.4 L795.7,1968.1 L796.1,1969.2 L796.6,1968.9 L797.1,1970.0 L797.5,1969.2 L798.0,1969.0 L798.4,1969.6 L798.9,1969.2 L799.3,1971.0 L799.8,1968.2 L800.2,1970.2 L800.7,1971.1 L801.2,1970.1 L801.6,1970.1 L802.1,1969.0 L802.5,1970.2 L803.0,1969.2 L803.4,1970.2 L803.9,1967.7 L804.3,1969.0 L804.8,1967.9 L805.3,1970.3 L805.7,1969.0 L806.2,1970.3 L806.6,1969.1 L807.1,1969.0 L807.5,1970.8 L808.0,1970.5 L808.4,1970.5 L808.9,1970.8 L809.4,1970.2 L809.8,1970.4 L810.3,1970.8 L810.7,1969.6 L811.2,1969.2 L811.6,1970.7 L812.1,1970.1 L812.5,1969.7 L813.0,1969.9 L813.5,1970.3 L813.9,1969.1 L814.4,1969.1 L814.8,1969.2 L815.3,1969.9 L815.7,1968.2 L816.2,1968.4 L816.6,1970.1 L817.1,1969.9 L817.6,1968.9 L818.0,1970.4 L818.5,1969.5 L818.9,1969.8 L819.4,1970.4 L819.8,1970.0 L820.3,1971.0 L820.7,1970.3 L821.2,1971.4 L821.7,1968.1 L822.1,1968.7 L822.6,1968.9 L823.0,1969.6 L823.5,1969.1 L823.9,1968.9 L824.4,1969.1 L824.9,1969.2 L825.3,1970.6 L825.8,1969.6 L826.2,1970.3 L826.7,1970.8 L827.1,1970.8 L827.6,1969.6 L828.0,1969.2 L828.5,1971.0 L829.0,1968.7 L829.4,1968.9 L829.9,1970.3 L830.3,1970.4 L830.8,1970.1 L831.2,1969.3 L831.7,1970.3 L832.1,1970.9 L832.6,1969.8 L833.1,1971.6 L833.5,1970.0 L834.0,1969.2 L834.4,1969.8 L834.9,1969.5 L835.3,1969.7 L835.8,1969.5 L836.2,1970.0 L836.7,1970.7 L837.2,1970.3 L837.6,1970.2 L838.1,1969.2 L838.5,1968.9 L839.0,1969.8 L839.4,1970.7 L839.9,1970.7 L840.3,1970.3 L840.8,1969.1 L841.3,1969.9 L841.7,1970.2 L842.2,1970.8 L842.6,1969.5 L843.1,1970.0 L843.5,1970.2 L844.0,1970.1 L844.4,1969.0 L844.9,1970.3 L845.4,1969.0 L845.8,1969.3 L846.3,1970.2 L846.7,1969.6 L847.2,1970.3 L847.6,1970.9 L848.1,1970.5 L848.5,1970.9 L849.0,1969.9 L849.5,1970.3 L849.9,1969.9 L850.4,1969.7 L850.8,1972.6 L851.3,1970.1 L851.7,1971.6 L852.2,1970.2 L852.7,1971.0 L853.1,1970.3 L853.6,1969.4 L854.0,1971.6 L854.5,1970.2 L854.9,1970.4 L855.4,1971.7 L855.8,1969.9 L856.3,1970.4 L856.8,1970.7 L857.2,1970.9 L857.7,1968.1 L858.1,1970.7 L858.6,1971.7 L859.0,1971.1 L859.5,1970.7 L859.9,1970.7 L860.4,1970.5 L860.9,1971.2 L861.3,1970.0 L861.8,1970.8 L862.2,1971.4 L862.7,1971.0 L863.1,1970.7 L863.6,1969.9 L864.0,1970.1 L864.5,1970.7 L865.0,1970.5 L865.4,1970.3 L865.9,1969.1 L866.3,1970.9 L866.8,1970.2 L867.2,1970.0 L867.7,1971.2 L868.1,1970.4 L868.6,1970.4 L869.1,1970.8 L869.5,1970.1 L870.0,1969.8 L870.4,1969.7 L870.9,1970.6 L871.3,1970.4 L871.8,1968.9 L872.2,1971.3 L872.7,1970.4 L873.2,1969.9 L873.6,1970.4 L874.1,1970.1 L874.5,1970.4 L875.0,1970.0 L875.4,1969.6 L875.9,1970.7 L876.3,1970.4 L876.8,1970.6 L877.3,1970.8 L877.7,1970.5 L878.2,1971.3 L878.6,1970.0 L879.1,1969.4 L879.5,1969.4 L880.0,1969.7 L880.5,1971.2 L880.9,1969.5 L881.4,1971.0 L881.8,1970.5 L882.3,1969.3 L882.7,1971.2 L883.2,1969.9 L883.6,1970.3 L884.1,1970.6 L884.6,1971.1 L885.0,1970.2 L885.5,1970.8 L885.9,1969.8 L886.4,1969.7 L886.8,1971.4 L887.3,1970.8 L887.7,1970.7 L888.2,1971.3 L888.7,1971.2 L889.1,1970.4 L889.6,1970.6 L890.0,1971.5 L890.5,1970.8 L890.9,1970.1 L891.4,1971.2 L891.8,1971.0 L892.3,1969.4 L892.8,1969.5 L893.2,1971.4 L893.7,1971.2 L894.1,1970.1 L894.6,1971.1 L895.0,1970.4 L895.5,1970.5 L895.9,1969.8 L896.4,1971.7 L896.9,1971.4 L897.3,1970.6 L897.8,1969.0 L898.2,1969.6 L898.7,1970.5 L899.1,1968.8 L899.6,1968.5 L900.0,1968.9 L900.5,1968.7 L901.0,1968.0 L901.4,1967.4 L901.9,1968.0 L902.3,1967.7 L902.3,1968.0 L902.8,1968.3 L903.2,1968.7 L903.7,1968.1 L904.1,1968.7 L904.6,1968.8 L905.1,1968.3 L905.5,1968.8 L906.0,1968.7 L906.4,1970.5 L906.9,1969.3 L907.3,1970.1 L907.8,1970.4 L908.2,1970.5 L908.7,1969.2 L909.2,1969.5 L909.6,1970.6 L910.1,1970.8 L910.5,1970.1 L911.0,1970.5 L911.4,1969.1 L911.9,1971.1 L912.4,1971.3 L912.8,1970.4 L913.3,1970.2 L913.7,1970.1 L914.2,1969.7 L914.6,1968.9 L915.1,1970.4 L915.5,1970.5 L916.0,1971.3 L916.5,1970.0 L916.9,1969.6 L917.4,1970.3 L917.8,1969.4 L918.3,1970.1 L918.7,1969.2 L919.2,1969.9 L919.6,1970.8 L920.1,1970.5 L920.6,1971.0 L921.0,1971.2 L921.5,1969.9 L921.9,1969.5 L922.4,1968.9 L922.8,1970.1 L923.3,1970.2 L923.7,1970.7 L924.2,1969.4 L924.7,1969.8 L925.1,1970.3 L925.6,1969.5 L926.0,1969.6 L926.5,1971.1 L926.9,1969.5 L927.4,1969.8 L927.8,1970.1 L928.3,1970.1 L928.8,1968.8 L929.2,1968.9 L929.7,1968.7 L930.1,1970.5 L930.6,1970.2 L931.0,1969.2 L931.5,1970.5 L931.9,1970.1 L932.4,1970.8 L932.9,1968.6 L933.3,1969.0 L933.8,1969.4 L934.2,1969.5 L934.7,1969.8 L935.1,1969.8 L935.6,1969.2 L936.0,1969.9 L936.5,1968.8 L937.0,1969.8 L937.4,1970.0 L937.9,1968.6 L938.3,1969.5 L938.8,1969.0 L939.2,1969.6 L939.7,1970.6 L940.2,1969.0 L940.6,1970.0 L941.1,1968.6 L941.5,1970.1 L942.0,1970.2 L942.4,1968.9 L942.9,1968.8 L943.3,1969.0 L943.8,1969.7 L944.3,1968.5 L944.7,1969.8 L945.2,1969.2 L945.6,1969.3 L946.1,1969.0 L946.5,1968.3 L947.0,1969.1 L947.4,1968.4 L947.9,1968.3 L948.4,1969.6 L948.8,1969.3 L949.3,1968.8 L949.7,1968.8 L950.2,1968.3 L950.6,1969.5 L951.1,1967.9 L951.5,1967.9 L952.0,1968.3 L952.5,1969.0 L952.9,1968.1 L953.4,1968.4 L953.8,1967.7 L954.3,1968.0 L954.7,1967.5 L955.2,1968.1 L955.6,1967.0 L956.1,1969.0 L956.6,1968.2 L957.0,1967.3 L957.5,1968.4 L957.9,1967.1 L958.4,1968.1 L958.8,1967.3 L959.3,1967.8 L959.7,1967.4 L960.2,1967.0 L960.7,1967.1 L961.1,1967.1 L961.6,1965.7 L962.0,1966.8 L962.5,1967.2 L962.9,1966.1 L963.4,1966.0 L963.8,1965.7 L964.3,1965.3 L964.8,1966.7 L965.2,1965.5 L965.7,1965.4 L966.1,1965.9 L966.6,1965.6 L967.0,1967.3 L967.5,1965.9 L968.0,1964.5 L968.4,1966.3 L968.9,1965.5 L969.3,1964.9 L969.8,1964.6 L970.2,1963.9 L970.7,1965.6 L971.1,1964.5 L971.6,1963.9 L972.1,1964.9 L972.5,1964.1 L973.0,1962.9 L973.4,1963.0 L973.9,1963.3 L974.3,1964.8 L974.8,1963.3 L975.2,1962.8 L975.7,1963.0 L976.2,1962.6 L976.6,1960.8 L977.1,1962.3 L977.5,1962.5 L978.0,1961.6 L978.4,1961.7 L978.9,1961.4 L979.3,1961.1 L979.8,1960.4 L980.3,1960.4 L980.7,1960.9 L981.2,1960.0 L981.6,1959.4 L982.1,1959.6 L982.5,1958.4 L983.0,1958.3 L983.4,1958.9 L983.9,1957.9 L984.4,1956.6 L984.8,1956.5 L985.3,1956.9 L985.7,1956.0 L986.2,1956.4 L986.6,1956.4 L987.1,1954.9 L987.5,1954.6 L988.0,1954.0 L988.5,1953.7 L988.9,1953.0 L989.4,1952.9 L989.8,1951.8 L990.3,1951.0 L990.7,1950.8 L991.2,1949.7 L991.6,1950.4 L992.1,1949.1 L992.6,1947.2 L993.0,1946.3 L993.5,1946.2 L993.9,1945.5 L994.4,1945.2 L994.8,1943.4 L995.3,1942.2 L995.8,1942.3 L996.2,1940.1 L996.7,1939.0 L997.1,1937.8 L997.6,1937.3 L998.0,1935.0 L998.5,1934.7 L998.9,1931.5 L999.4,1930.6 L999.9,1929.6 L1000.3,1926.4 L1000.8,1924.5 L1001.2,1923.4 L1001.7,1919.7 L1002.1,1919.0 L1002.6,1915.8 L1003.0,1912.6 L1003.5,1911.6 L1004.0,1906.8 L1004.4,1904.0 L1004.9,1900.4 L1005.3,1897.1 L1005.8,1892.3 L1006.2,1888.6 L1006.7,1883.7 L1007.1,1878.3 L1007.6,1873.1 L1008.1,1865.5 L1008.5,1860.4 L1009.0,1852.9 L1009.4,1844.9 L1009.9,1836.3 L1010.3,1826.6 L1010.8,1816.5 L1011.2,1806.1 L1011.7,1794.2 L1012.2,1780.9 L1012.6,1766.3 L1013.1,1750.9 L1013.5,1734.8 L1014.0,1717.6 L1014.4,1696.0 L1014.9,1676.0 L1015.3,1654.5 L1015.8,1631.7 L1016.3,1608.8 L1016.7,1585.4 L1017.2,1561.8 L1017.6,1539.6 L1018.1,1519.7 L1018.5,1502.8 L1019.0,1488.7 L1019.4,1479.2 L1019.9,1475.7 L1020.0,1475.2 L1020.4,1477.8 L1020.8,1483.3 L1021.3,1494.5 L1021.7,1510.5 L1022.2,1529.5 L1022.6,1549.5 L1023.1,1572.8 L1023.6,1595.6 L1024.0,1619.5 L1024.5,1642.0 L1024.9,1664.7 L1025.4,1686.4 L1025.8,1705.6 L1026.3,1724.3 L1026.7,1741.1 L1027.2,1757.6 L1027.7,1772.3 L1028.1,1785.1 L1028.6,1797.4 L1029.0,1808.9 L1029.5,1819.2 L1029.9,1829.0 L1030.4,1837.6 L1030.8,1845.6 L1031.3,1853.2 L1031.8,1860.1 L1032.2,1866.2 L1032.7,1870.8 L1033.1,1877.3 L1033.6,1882.2 L1034.0,1886.8 L1034.5,1890.7 L1034.9,1894.4 L1035.4,1898.7 L1035.9,1902.4 L1036.3,1904.2 L1036.8,1908.0 L1037.2,1909.7 L1037.7,1912.2 L1038.1,1913.9 L1038.6,1915.8 L1039.0,1918.4 L1039.5,1920.7 L1040.0,1922.7 L1040.4,1924.1 L1040.9,1925.1 L1041.3,1927.6 L1041.8,1927.8 L1042.2,1929.0 L1042.7,1929.8 L1043.1,1931.3 L1043.6,1932.0 L1044.1,1933.3 L1044.5,1934.0 L1045.0,1935.4 L1045.4,1935.1 L1045.9,1935.0 L1046.3,1936.3 L1046.8,1936.7 L1047.2,1937.9 L1047.7,1937.0 L1048.2,1938.5 L1048.6,1938.0 L1049.1,1938.7 L1049.5,1939.5 L1050.0,1938.6 L1050.4,1939.3 L1050.9,1939.3 L1051.4,1939.2 L1051.8,1939.5 L1052.3,1939.6 L1052.7,1939.1 L1053.2,1939.4 L1053.6,1939.0 L1054.1,1939.2 L1054.5,1939.3 L1055.0,1938.6 L1055.5,1938.2 L1055.9,1937.5 L1056.4,1936.4 L1056.8,1937.4 L1057.3,1935.9 L1057.7,1936.5 L1058.2,1935.2 L1058.6,1934.1 L1059.1,1934.2 L1059.6,1933.1 L1060.0,1931.1 L1060.5,1930.1 L1060.9,1929.1 L1061.4,1928.2 L1061.8,1925.3 L1062.3,1925.1 L1062.7,1923.9 L1063.2,1920.9 L1063.7,1919.7 L1064.1,1918.2 L1064.6,1915.4 L1065.0,1913.6 L1065.5,1910.9 L1065.9,1908.5 L1066.4,1906.3 L1066.8,1902.3 L1067.3,1899.4 L1067.8,1896.4 L1068.2,1892.4 L1068.7,1887.3 L1069.1,1883.4 L1069.6,1878.2 L1070.0,1872.5 L1070.5,1866.9 L1070.9,1861.4 L1071.4,1853.4 L1071.9,1845.7 L1072.3,1837.5 L1072.8,1828.2 L1073.2,1819.2 L1073.7,1808.5 L1074.1,1796.7 L1074.6,1785.3 L1075.0,1771.1 L1075.5,1756.9 L1076.0,1742.4 L1076.4,1726.1 L1076.9,1710.2 L1077.3,1694.2 L1077.8,1676.3 L1078.2,1660.1 L1078.7,1644.2 L1079.1,1629.9 L1079.6,1616.8 L1080.1,1607.3 L1080.5,1601.1 L1081.0,1597.1 L1081.1,1596.7 L1081.4,1598.0 L1081.9,1601.6 L1082.3,1608.8 L1082.8,1619.0 L1083.3,1631.0 L1083.7,1644.9 L1084.2,1659.9 L1084.6,1676.4 L1085.1,1692.7 L1085.5,1708.8 L1086.0,1724.3 L1086.4,1740.0 L1086.9,1753.6 L1087.4,1767.0 L1087.8,1779.5 L1088.3,1791.0 L1088.7,1801.4 L1089.2,1810.9 L1089.6,1820.1 L1090.1,1827.2 L1090.5,1834.8 L1091.0,1841.3 L1091.5,1847.2 L1091.9,1852.5 L1092.4,1858.1 L1092.8,1862.4 L1093.3,1867.2 L1093.7,1871.2 L1094.2,1874.4 L1094.6,1875.6 L1095.1,1880.0 L1095.6,1881.2 L1096.0,1882.9 L1096.5,1885.8 L1096.9,1886.4 L1097.4,1887.8 L1097.8,1889.6 L1098.3,1890.0 L1098.7,1891.8 L1099.2,1893.3 L1099.7,1893.2 L1100.1,1894.2 L1100.6,1894.9 L1101.0,1895.1 L1101.5,1893.3 L1101.9,1894.6 L1102.4,1894.0 L1102.8,1893.8 L1103.3,1892.7 L1103.8,1892.0 L1104.2,1890.9 L1104.7,1889.8 L1105.1,1888.1 L1105.6,1885.6 L1106.0,1882.5 L1106.5,1878.5 L1106.9,1875.3 L1107.4,1870.6 L1107.9,1866.2 L1108.3,1860.6 L1108.8,1854.3 L1109.2,1845.6 L1109.7,1837.5 L1110.1,1826.0 L1110.6,1813.0 L1111.1,1800.1 L1111.5,1784.4 L1112.0,1768.1 L1112.4,1749.7 L1112.9,1728.4 L1113.3,1705.6 L1113.8,1680.1 L1114.2,1653.1 L1114.7,1626.1 L1115.2,1595.9 L1115.6,1564.4 L1116.1,1531.8 L1116.5,1498.7 L1117.0,1463.9 L1117.4,1429.5 L1117.9,1395.6 L1118.3,1363.4 L1118.8,1331.2 L1119.3,1302.4 L1119.7,1274.1 L1120.2,1251.4 L1120.6,1231.3 L1121.1,1216.1 L1121.5,1205.7 L1122.0,1200.8 L1122.2,1200.6 L1122.4,1199.7 L1122.9,1206.1 L1123.4,1217.0 L1123.8,1231.8 L1124.3,1253.1 L1124.7,1276.8 L1125.2,1304.4 L1125.6,1333.6 L1126.1,1365.8 L1126.5,1399.1 L1127.0,1433.4 L1127.5,1467.4 L1127.9,1501.1 L1128.4,1536.3 L1128.8,1568.0 L1129.3,1599.5 L1129.7,1629.4 L1130.2,1658.6 L1130.6,1683.8 L1131.1,1709.3 L1131.6,1731.8 L1132.0,1752.8 L1132.5,1772.3 L1132.9,1788.9 L1133.4,1805.0 L1133.8,1818.3 L1134.3,1830.2 L1134.7,1840.8 L1135.2,1850.3 L1135.7,1858.7 L1136.1,1864.8 L1136.6,1872.1 L1137.0,1878.5 L1137.5,1883.0 L1137.9,1887.3 L1138.4,1890.8 L1138.9,1894.3 L1139.3,1897.4 L1139.8,1898.7 L1140.2,1901.9 L1140.7,1904.2 L1141.1,1906.1 L1141.6,1907.9 L1142.0,1908.7 L1142.5,1910.7 L1143.0,1911.9 L1143.4,1915.5 L1143.9,1915.1 L1144.3,1916.0 L1144.8,1916.8 L1145.2,1919.0 L1145.7,1921.1 L1146.1,1921.1 L1146.6,1922.8 L1147.1,1924.5 L1147.5,1925.0 L1148.0,1925.3 L1148.4,1926.3 L1148.9,1927.5 L1149.3,1929.5 L1149.8,1928.7 L1150.2,1931.5 L1150.7,1932.0 L1151.2,1933.6 L1151.6,1933.2 L1152.1,1934.5 L1152.5,1935.2 L1153.0,1936.5 L1153.4,1937.5 L1153.9,1938.2 L1154.3,1940.1 L1154.8,1939.5 L1155.3,1940.3 L1155.7,1941.7 L1156.2,1942.3 L1156.6,1942.9 L1157.1,1942.9 L1157.5,1944.2 L1158.0,1945.1 L1158.4,1946.0 L1158.9,1947.1 L1159.4,1947.3 L1159.8,1947.6 L1160.3,1948.4 L1160.7,1948.8 L1161.2,1949.1 L1161.6,1949.9 L1162.1,1950.7 L1162.1,1950.5 L1162.5,1951.4 L1163.0,1952.2 L1163.5,1952.7 L1163.9,1954.6 L1164.4,1953.8 L1164.8,1955.8 L1165.3,1955.5 L1165.7,1956.7 L1166.2,1956.8 L1166.7,1958.1 L1167.1,1959.2 L1167.6,1958.9 L1168.0,1959.9 L1168.5,1960.6 L1168.9,1961.2 L1169.4,1961.3 L1169.8,1962.0 L1170.3,1962.8 L1170.8,1964.2 L1171.2,1964.1 L1171.7,1964.3 L1172.1,1963.9 L1172.6,1965.1 L1173.0,1965.8 L1173.5,1965.5 L1173.9,1966.6 L1174.4,1966.9 L1174.9,1967.2 L1175.3,1968.4 L1175.8,1967.6 L1176.2,1968.2 L1176.7,1968.9 L1177.1,1969.6 L1177.6,1969.3 L1178.0,1969.0 L1178.5,1970.3 L1179.0,1970.8 L1179.4,1970.4 L1179.9,1971.6 L1180.3,1972.2 L1180.8,1971.6 L1181.2,1972.0 L1181.7,1972.0 L1182.1,1972.4 L1182.6,1972.2 L1183.1,1972.7 L1183.5,1973.1 L1184.0,1973.2 L1184.4,1972.9 L1184.9,1972.9 L1185.3,1973.1 L1185.8,1973.4 L1186.2,1975.6 L1186.7,1974.6 L1187.2,1974.5 L1187.6,1974.4 L1188.1,1975.4 L1188.5,1974.1 L1189.0,1974.8 L1189.4,1975.4 L1189.9,1975.1 L1190.3,1975.5 L1190.8,1975.8 L1191.3,1975.3 L1191.7,1975.9 L1192.2,1976.5 L1192.6,1976.3 L1193.1,1976.1 L1193.5,1976.7 L1194.0,1975.6 L1194.5,1976.9 L1194.9,1975.6 L1195.4,1976.1 L1195.8,1977.1 L1196.3,1976.7 L1196.7,1976.2 L1197.2,1977.0 L1197.6,1977.6 L1198.1,1977.0 L1198.6,1976.2 L1199.0,1978.0 L1199.5,1977.0 L1199.9,1977.4 L1200.4,1977.5 L1200.8,1977.7 L1201.3,1977.7 L1201.7,1977.1 L1202.2,1977.4 L1202.7,1978.3 L1203.1,1977.0 L1203.6,1978.5 L1204.0,1977.6 L1204.5,1977.9 L1204.9,1977.4 L1205.4,1977.9 L1205.8,1977.6 L1206.3,1978.2 L1206.8,1977.8 L1207.2,1978.1 L1207.7,1977.3 L1208.1,1978.7 L1208.6,1977.8 L1209.0,1978.2 L1209.5,1978.4 L1209.9,1978.8 L1210.4,1978.3 L1210.9,1979.3 L1211.3,1979.2 L1211.8,1978.2 L1212.2,1979.4 L1212.7,1977.9 L1213.1,1978.8 L1213.6,1978.6 L1214.0,1978.7 L1214.5,1978.5 L1215.0,1978.9 L1215.4,1979.0 L1215.9,1978.9 L1216.3,1978.3 L1216.8,1978.3 L1217.2,1978.2 L1217.7,1978.7 L1218.1,1979.0 L1218.6,1979.7 L1219.1,1978.6 L1219.5,1978.5 L1220.0,1979.2 L1220.4,1978.6 L1220.9,1978.4 L1221.3,1979.0 L1221.8,1978.5 L1222.3,1978.9 L1222.7,1979.9 L1223.2,1979.3 L1223.6,1979.3 L1224.1,1978.9 L1224.5,1979.6 L1225.0,1979.4 L1225.4,1979.6 L1225.9,1979.2 L1226.4,1979.2 L1226.8,1978.7 L1227.3,1978.8 L1227.7,1979.1 L1228.2,1979.1 L1228.6,1979.2 L1229.1,1979.2 L1229.5,1978.5 L1230.0,1980.5 L1230.5,1979.4 L1230.9,1979.2 L1231.4,1978.8 L1231.8,1979.9 L1232.3,1979.2 L1232.7,1978.9 L1233.2,1979.6 L1233.6,1980.3 L1234.1,1979.6 L1234.6,1980.0 L1235.0,1979.1 L1235.5,1979.8 L1235.9,1978.6 L1236.4,1979.4 L1236.8,1979.9 L1237.3,1979.7 L1237.7,1980.0 L1238.2,1979.3 L1238.7,1978.8 L1239.1,1979.6 L1239.6,1979.1 L1240.0,1980.0 L1240.5,1979.4 L1240.9,1978.4 L1241.4,1980.2 L1241.8,1979.0 L1242.3,1979.0 L1242.8,1980.5 L1243.2,1980.3 L1243.7,1980.1 L1244.1,1979.1 L1244.6,1979.8 L1245.0,1979.7 L1245.5,1979.3 L1245.9,1979.6 L1246.4,1979.5 L1246.9,1979.8 L1247.3,1979.1 L1247.8,1980.0 L1248.2,1978.8 L1248.7,1979.8 L1249.1,1980.1 L1249.6,1979.4 L1250.0,1979.5 L1250.5,1980.7 L1251.0,1979.6 L1251.4,1980.4 L1251.9,1980.1 L1252.3,1979.3 L1252.8,1980.1 L1253.2,1979.6 L1253.7,1979.9 L1254.2,1978.8 L1254.6,1979.8 L1255.1,1980.3 L1255.5,1980.3 L1256.0,1980.2 L1256.4,1979.7 L1256.9,1979.8 L1257.3,1979.3 L1257.8,1979.7 L1258.3,1979.7 L1258.7,1979.6 L1259.2,1979.9 L1259.6,1979.7 L1260.1,1979.4 L1260.5,1979.4 L1261.0,1980.1 L1261.4,1980.7 L1261.9,1980.2 L1262.4,1979.7 L1262.8,1981.0 L1263.3,1980.1 L1263.7,1979.6 L1264.2,1980.1 L1264.6,1980.4 L1265.1,1979.0 L1265.5,1979.2 L1266.0,1980.0 L1266.5,1979.2 L1266.9,1979.2 L1267.4,1980.4 L1267.8,1978.5 L1268.3,1980.3 L1268.7,1980.0 L1269.2,1980.4 L1269.6,1979.8 L1270.1,1980.5 L1270.6,1979.9 L1271.0,1979.3 L1271.5,1979.7 L1271.9,1980.0 L1272.4,1979.1 L1272.8,1980.3 L1273.3,1979.4 L1273.7,1980.0 L1274.2,1979.7 L1274.7,1979.8 L1275.1,1979.8 L1275.6,1979.9 L1276.0,1980.2 L1276.5,1980.1 L1276.9,1979.6 L1277.4,1979.9 L1277.8,1980.4 L1278.3,1980.2 L1278.8,1980.2 L1279.2,1979.9 L1279.7,1979.7 L1280.1,1979.8 L1280.6,1980.1 L1281.0,1979.8 L1281.5,1980.5 L1282.0,1981.2 L1282.4,1979.8 L1282.9,1980.6 L1283.3,1980.3 L1283.8,1980.4 L1284.2,1979.5 L1284.7,1980.4 L1285.1,1979.6 L1285.6,1980.0 L1286.1,1980.4 L1286.5,1980.5 L1287.0,1979.5 L1287.4,1979.6 L1287.9,1979.4 L1288.3,1978.8 L1288.8,1979.6 L1289.2,1979.6 L1289.7,1979.8 L1290.2,1979.6 L1290.6,1979.9 L1291.1,1980.1 L1291.5,1978.7 L1292.0,1980.5 L1292.4,1979.5 L1292.9,1979.4 L1293.3,1979.5 L1293.8,1980.0 L1294.3,1979.7 L1294.7,1979.8 L1295.2,1980.0 L1295.6,1979.5 L1296.1,1979.7 L1296.5,1979.7 L1297.0,1979.0 L1297.4,1979.8 L1297.9,1979.1 L1298.4,1979.5 L1298.8,1978.9 L1299.3,1979.0 L1299.7,1978.9 L1300.2,1979.4 L1300.6,1979.1 L1301.1,1979.1 L1301.5,1978.5 L1302.0,1978.1 L1302.5,1977.8 L1302.9,1978.4 L1303.4,1978.0 L1303.8,1978.7 L1304.3,1978.9 L1304.7,1978.1 L1305.2,1978.0 L1305.6,1978.4 L1305.6,1978.5 L1306.1,1977.4 L1306.6,1978.0 L1307.0,1978.5 L1307.5,1976.7 L1307.9,1977.8 L1308.4,1978.1 L1308.8,1977.7 L1309.3,1978.5 L1309.8,1977.5 L1310.2,1979.0 L1310.7,1979.0 L1311.1,1978.5 L1311.6,1978.9 L1312.0,1977.9 L1312.5,1979.4 L1312.9,1979.0 L1313.4,1978.5 L1313.9,1978.4 L1314.3,1978.2 L1314.8,1978.5 L1315.2,1977.6 L1315.7,1978.9 L1316.1,1978.6 L1316.6,1978.2 L1317.0,1978.8 L1317.5,1978.8 L1318.0,1978.8 L1318.4,1978.9 L1318.9,1979.1 L1319.3,1978.8 L1319.8,1979.2 L1320.2,1978.3 L1320.7,1979.2 L1321.1,1977.4 L1321.6,1977.5 L1322.1,1977.8 L1322.5,1978.3 L1323.0,1978.5 L1323.4,1977.6 L1323.9,1978.0 L1324.3,1977.8 L1324.8,1978.4 L1325.2,1977.4 L1325.7,1978.3 L1326.2,1977.8 L1326.6,1978.6 L1327.1,1978.1 L1327.5,1977.4 L1328.0,1977.8 L1328.4,1977.8 L1328.9,1977.1 L1329.3,1977.5 L1329.8,1976.8 L1330.3,1978.4 L1330.7,1976.9 L1331.2,1976.9 L1331.6,1977.8 L1332.1,1977.6 L1332.5,1976.5 L1333.0,1977.3 L1333.4,1977.0 L1333.9,1976.3 L1334.4,1976.7 L1334.8,1976.2 L1335.3,1976.8 L1335.7,1976.1 L1336.2,1975.6 L1336.6,1975.9 L1337.1,1977.0 L1337.6,1975.5 L1338.0,1975.6 L1338.5,1976.0 L1338.9,1974.8 L1339.4,1976.1 L1339.8,1974.3 L1340.3,1975.3 L1340.7,1974.1 L1341.2,1974.7 L1341.7,1975.2 L1342.1,1974.3 L1342.6,1974.1 L1343.0,1973.8 L1343.5,1973.4 L1343.9,1974.1 L1344.4,1973.2 L1344.8,1972.9 L1345.3,1973.2 L1345.8,1973.3 L1346.2,1973.1 L1346.7,1972.0 L1347.1,1971.7 L1347.6,1972.3 L1348.0,1972.2 L1348.5,1970.7 L1348.9,1971.8 L1349.4,1970.7 L1349.9,1970.8 L1350.3,1970.9 L1350.8,1969.7 L1351.2,1969.5 L1351.7,1968.3 L1352.1,1967.5 L1352.6,1968.3 L1353.0,1967.3 L1353.5,1966.8 L1354.0,1967.1 L1354.4,1966.8 L1354.9,1965.1 L1355.3,1965.5 L1355.8,1964.7 L1356.2,1964.2 L1356.7,1963.5 L1357.1,1963.1 L1357.6,1961.7 L1358.1,1960.7 L1358.5,1960.7 L1359.0,1960.3 L1359.4,1958.8 L1359.9,1958.5 L1360.3,1957.1 L1360.8,1955.2 L1361.2,1953.6 L1361.7,1953.3 L1362.2,1952.7 L1362.6,1950.5 L1363.1,1950.5 L1363.5,1948.2 L1364.0,1945.6 L1364.4,1944.2 L1364.9,1943.4 L1365.4,1941.6 L1365.8,1938.3 L1366.3,1936.5 L1366.7,1934.4 L1367.2,1931.5 L1367.6,1929.3 L1368.1,1927.1 L1368.5,1922.8 L1369.0,1920.4 L1369.5,1917.2 L1369.9,1913.9 L1370.4,1909.5 L1370.8,1906.1 L1371.3,1901.4 L1371.7,1897.6 L1372.2,1892.6 L1372.6,1888.8 L1373.1,1884.3 L1373.6,1880.3 L1374.0,1875.2 L1374.5,1869.7 L1374.9,1864.0 L1375.4,1861.6 L1375.8,1857.3 L1376.3,1852.8 L1376.7,1849.3 L1377.2,1846.9 L1377.7,1844.1 L1378.1,1843.2 L1378.6,1841.5 L1379.0,1840.6 L1379.0,1840.2 L1379.5,1841.4 L1379.9,1842.6 L1380.4,1844.0 L1380.8,1846.1 L1381.3,1849.3 L1381.8,1853.4 L1382.2,1856.7 L1382.7,1860.6 L1383.1,1865.8 L1383.6,1870.7 L1384.0,1874.5 L1384.5,1879.3 L1384.9,1883.7 L1385.4,1888.7 L1385.9,1893.5 L1386.3,1897.8 L1386.8,1902.3 L1387.2,1906.3 L1387.7,1910.0 L1388.1,1913.6 L1388.6,1916.4 L1389.0,1920.8 L1389.5,1923.4 L1390.0,1926.6 L1390.4,1928.5 L1390.9,1931.7 L1391.3,1934.5 L1391.8,1936.3 L1392.2,1938.8 L1392.7,1941.2 L1393.2,1942.2 L1393.6,1944.4 L1394.1,1945.7 L1394.5,1947.6 L1395.0,1949.3 L1395.4,1951.0 L1395.9,1952.9 L1396.3,1953.4 L1396.8,1954.9 L1397.3,1955.7 L1397.7,1957.1 L1398.2,1958.4 L1398.6,1959.5 L1399.1,1959.6 L1399.5,1960.2 L1400.0,1961.7 L1400.4,1962.1 L1400.9,1962.4 L1401.4,1964.1 L1401.8,1964.5 L1402.3,1965.5 L1402.7,1965.0 L1403.2,1966.0 L1403.6,1966.9 L1404.1,1967.9 L1404.5,1967.7 L1405.0,1967.6 L1405.5,1968.7 L1405.9,1969.2 L1406.4,1969.1 L1406.8,1970.3 L1407.3,1970.1 L1407.7,1970.2 L1408.2,1971.2 L1408.6,1971.5 L1409.1,1971.3 L1409.6,1971.8 L1410.0,1972.1 L1410.5,1972.2 L1410.9,1972.4 L1411.4,1973.2 L1411.8,1973.3 L1412.3,1973.1 L1412.7,1973.0 L1413.2,1973.1 L1413.7,1974.3 L1414.1,1973.6 L1414.6,1974.0 L1415.0,1974.5 L1415.5,1974.5 L1415.9,1974.5 L1416.4,1974.2 L1416.8,1975.7 L1417.3,1975.1 L1417.8,1975.6 L1418.2,1975.8 L1418.7,1975.3 L1419.1,1975.6 L1419.6,1976.5 L1420.0,1976.3 L1420.5,1976.2 L1420.9,1977.1 L1421.4,1976.2 L1421.9,1976.7 L1422.3,1976.7 L1422.8,1976.8 L1423.2,1976.2 L1423.7,1977.1 L1424.1,1977.4 L1424.6,1976.5 L1425.1,1977.6 L1425.5,1977.7 L1426.0,1978.2 L1426.4,1977.2 L1426.9,1977.6 L1427.3,1977.6 L1427.8,1977.8 L1428.2,1978.1 L1428.7,1978.4 L1429.2,1978.5 L1429.6,1978.0 L1430.1,1978.2 L1430.5,1977.6 L1431.0,1978.8 L1431.4,1978.7 L1431.9,1979.0 L1432.3,1978.0 L1432.8,1979.2 L1433.3,1978.4 L1433.7,1978.1 L1434.2,1978.9 L1434.6,1978.6 L1435.1,1979.9 L1435.5,1979.2 L1436.0,1979.8 L1436.4,1979.0 L1436.9,1979.1 L1437.4,1979.5 L1437.8,1978.8 L1438.3,1979.1 L1438.7,1979.5 L1439.2,1979.6 L1439.6,1980.1 L1440.1,1979.5 L1440.5,1978.5 L1441.0,1979.8 L1441.5,1979.3 L1441.9,1979.8 L1442.4,1979.2 L1442.8,1979.4 L1443.3,1979.8 L1443.7,1980.5 L1444.2,1980.0 L1444.6,1979.2 L1445.1,1979.9 L1445.6,1979.5 L1446.0,1980.1 L1446.5,1980.7 L1446.9,1979.7 L1447.4,1979.8 L1447.8,1980.2 L1448.3,1980.1 L1448.7,1979.9 L1449.2,1980.3 L1449.7,1979.9 L1450.1,1980.2 L1450.6,1981.2 L1451.0,1980.2 L1451.5,1980.4 L1451.9,1980.5 L1452.4,1980.0 L1452.9,1980.4 L1453.3,1980.0 L1453.8,1979.7 L1454.2,1980.2 L1454.7,1981.0 L1455.1,1980.6 L1455.6,1979.9 L1456.0,1980.4 L1456.5,1980.7 L1457.0,1980.4 L1457.4,1980.1 L1457.9,1980.3 L1458.3,1980.1 L1458.8,1980.8 L1459.2,1980.5 L1459.7,1980.5 L1460.1,1980.5 L1460.6,1981.4 L1461.1,1980.6 L1461.5,1981.1 L1462.0,1979.9 L1462.4,1979.8 L1462.9,1979.7 L1463.3,1980.2 L1463.8,1980.8 L1464.2,1980.1 L1464.7,1980.6 L1465.2,1980.3 L1465.6,1981.0 L1466.1,1980.8 L1466.5,1980.4 L1467.0,1979.8 L1467.4,1980.6 L1467.9,1979.6 L1468.3,1979.4 L1468.8,1981.2 L1469.3,1980.6 L1469.7,1981.1 L1470.2,1980.7 L1470.6,1980.9 L1471.1,1980.7 L1471.5,1980.2 L1472.0,1980.2 L1472.4,1980.5 L1472.9,1980.7 L1473.4,1980.6 L1473.8,1980.6 L1474.3,1980.4 L1474.7,1980.7 L1475.2,1980.4 L1475.6,1981.3 L1476.1,1980.3 L1476.5,1979.9 L1477.0,1980.6 L1477.5,1981.3 L1477.9,1980.1 L1478.4,1980.8 L1478.8,1982.0 L1479.3,1980.8 L1479.7,1980.4 L1480.2,1980.5 L1480.7,1980.1 L1481.1,1980.4 L1481.6,1980.6 L1482.0,1981.6 L1482.5,1981.2 L1482.9,1980.6 L1483.4,1980.4 L1483.8,1981.1 L1484.3,1980.9 L1484.8,1980.5 L1485.2,1981.5 L1485.7,1981.5 L1486.1,1980.8 L1486.6,1980.5 L1487.0,1980.9 L1487.5,1981.7 L1487.9,1980.6 L1488.4,1981.2 L1488.9,1980.3 L1489.3,1980.7 L1489.8,1980.5 L1490.2,1980.3 L1490.7,1980.8 L1491.1,1980.2 L1491.6,1980.0 L1492.0,1980.4 L1492.5,1980.0 L1493.0,1980.8 L1493.4,1980.1 L1493.9,1980.4 L1494.3,1981.0 L1494.8,1980.6 L1495.2,1980.7 L1495.7,1980.7 L1496.1,1980.4 L1496.6,1980.0 L1497.1,1980.6 L1497.5,1980.4 L1498.0,1981.1 L1498.4,1980.4 L1498.9,1979.9 L1499.3,1980.0 L1499.8,1980.2 L1500.2,1980.6 L1500.7,1980.8 L1501.2,1980.4 L1501.6,1980.9 L1502.1,1980.9 L1502.5,1979.9 L1503.0,1980.7 L1503.4,1979.4 L1503.9,1980.9 L1504.3,1980.0 L1504.8,1980.7 L1505.3,1980.1 L1505.7,1980.6 L1506.2,1980.1 L1506.6,1980.2 L1507.1,1980.3 L1507.5,1979.9 L1508.0,1979.4 L1508.5,1980.3 L1508.9,1979.6 L1509.4,1980.0 L1509.8,1980.0 L1510.3,1979.0 L1510.7,1980.9 L1511.2,1980.2 L1511.6,1980.7 L1512.1,1980.0 L1512.6,1979.9 L1513.0,1978.1 L1513.5,1979.6 L1513.9,1978.9 L1514.4,1979.1 L1514.8,1979.9 L1515.3,1979.4 L1515.7,1978.9 L1516.2,1979.5 L1516.7,1979.4 L1517.1,1979.3 L1517.6,1980.1 L1518.0,1979.8 L1518.5,1979.2 L1518.9,1979.1 L1519.4,1979.7 L1519.8,1979.4 L1520.3,1979.3 L1520.8,1979.3 L1521.2,1978.8 L1521.7,1979.1 L1522.1,1979.0 L1522.6,1979.7 L1523.0,1979.4 L1523.5,1978.8 L1523.9,1979.6 L1524.4,1978.7 L1524.9,1979.1 L1525.3,1979.1 L1525.8,1978.4 L1526.2,1978.9 L1526.7,1978.9 L1527.1,1978.8 L1527.6,1978.4 L1528.0,1977.1 L1528.5,1979.3 L1529.0,1978.2 L1529.4,1978.3 L1529.9,1977.7 L1530.3,1978.2 L1530.8,1979.1 L1531.2,1977.3 L1531.7,1978.3 L1532.1,1977.7 L1532.6,1978.3 L1533.1,1978.0 L1533.5,1977.7 L1534.0,1977.0 L1534.4,1976.9 L1534.9,1977.5 L1535.3,1976.9 L1535.8,1977.2 L1536.3,1976.8 L1536.7,1976.7 L1537.2,1976.4 L1537.6,1976.8 L1538.1,1976.5 L1538.5,1976.2 L1539.0,1976.1 L1539.4,1976.4 L1539.9,1975.1 L1540.4,1975.9 L1540.8,1975.2 L1541.3,1975.3 L1541.7,1974.6 L1542.2,1976.0 L1542.6,1973.8 L1543.1,1974.6 L1543.5,1974.8 L1544.0,1974.0 L1544.5,1972.7 L1544.9,1973.2 L1545.4,1973.7 L1545.8,1973.0 L1546.3,1971.9 L1546.7,1972.8 L1547.2,1971.9 L1547.6,1971.6 L1548.1,1970.2 L1548.6,1971.0 L1549.0,1970.0 L1549.5,1970.6 L1549.5,1970.7 L1549.9,1969.6 L1550.4,1969.6 L1550.8,1970.5 L1551.3,1969.2 L1551.7,1969.1 L1552.2,1969.5 L1552.7,1968.9 L1553.1,1968.7 L1553.6,1968.8 L1554.0,1968.7 L1554.5,1968.5 L1554.9,1968.0 L1555.4,1968.2 L1555.8,1967.3 L1556.3,1967.6 L1556.8,1966.5 L1557.2,1966.2 L1557.7,1966.2 L1558.1,1964.8 L1558.6,1963.9 L1559.0,1963.6 L1559.5,1964.3 L1559.9,1962.5 L1560.4,1962.3 L1560.9,1961.8 L1561.3,1961.3 L1561.8,1960.3 L1562.2,1958.9 L1562.7,1958.5 L1563.1,1958.0 L1563.6,1957.2 L1564.1,1956.1 L1564.5,1954.7 L1565.0,1953.0 L1565.4,1953.2 L1565.9,1951.5 L1566.3,1950.3 L1566.8,1949.1 L1567.2,1947.1 L1567.7,1945.5 L1568.2,1944.7 L1568.6,1942.8 L1569.1,1939.9 L1569.5,1938.3 L1570.0,1936.1 L1570.4,1934.2 L1570.9,1931.7 L1571.3,1928.7 L1571.8,1926.3 L1572.3,1923.6 L1572.7,1919.9 L1573.2,1916.1 L1573.6,1913.3 L1574.1,1908.5 L1574.5,1904.4 L1575.0,1900.7 L1575.4,1895.5 L1575.9,1890.5 L1576.4,1884.8 L1576.8,1879.1 L1577.3,1874.0 L1577.7,1867.7 L1578.2,1859.9 L1578.6,1853.4 L1579.1,1846.0 L1579.5,1838.5 L1580.0,1830.3 L1580.5,1823.6 L1580.9,1814.7 L1581.4,1807.8 L1581.8,1799.5 L1582.3,1791.9 L1582.7,1786.3 L1583.2,1779.4 L1583.6,1774.4 L1584.1,1770.1 L1584.6,1766.8 L1585.0,1765.3 L1585.5,1764.6 L1585.5,1763.9 L1585.9,1764.5 L1586.4,1767.0 L1586.8,1770.6 L1587.3,1773.3 L1587.7,1779.1 L1588.2,1785.6 L1588.7,1793.0 L1589.1,1800.0 L1589.6,1807.3 L1590.0,1815.6 L1590.5,1822.4 L1590.9,1830.8 L1591.4,1838.4 L1591.8,1846.6 L1592.3,1853.8 L1592.8,1860.7 L1593.2,1866.9 L1593.7,1873.5 L1594.1,1879.5 L1594.6,1884.9 L1595.0,1890.4 L1595.5,1894.9 L1596.0,1900.3 L1596.4,1905.1 L1596.9,1908.9 L1597.3,1912.1 L1597.8,1916.7 L1598.2,1919.8 L1598.7,1923.2 L1599.1,1925.9 L1599.6,1928.7 L1600.1,1931.8 L1600.5,1934.0 L1601.0,1935.8 L1601.4,1937.9 L1601.9,1940.0 L1602.3,1941.9 L1602.8,1944.2 L1603.2,1945.8 L1603.7,1946.8 L1604.2,1949.2 L1604.6,1950.1 L1605.1,1952.2 L1605.5,1952.8 L1606.0,1954.1 L1606.4,1955.4 L1606.9,1955.6 L1607.3,1957.2 L1607.8,1957.9 L1608.3,1958.8 L1608.7,1959.8 L1609.2,1959.6 L1609.6,1961.2 L1610.1,1961.6 L1610.5,1963.0 L1611.0,1963.2 L1611.4,1963.8 L1611.9,1964.4 L1612.4,1965.0 L1612.8,1965.3 L1613.3,1965.2 L1613.7,1966.4 L1614.2,1966.8 L1614.6,1967.4 L1615.1,1966.6 L1615.5,1967.4 L1616.0,1968.2 L1616.5,1968.5 L1616.9,1969.5 L1617.4,1969.6 L1617.8,1969.8 L1618.3,1970.1 L1618.7,1970.9 L1619.2,1971.1 L1619.6,1970.9 L1620.1,1971.2 L1620.6,1972.5 L1621.0,1971.8 L1621.5,1971.6 L1621.9,1972.6 L1622.4,1972.5 L1622.8,1973.4 L1623.3,1972.6 L1623.8,1973.7 L1624.2,1973.9 L1624.7,1973.7 L1625.1,1972.7 L1625.6,1974.2 L1626.0,1974.7 L1626.5,1974.1 L1626.9,1974.3 L1627.4,1973.9 L1627.9,1975.3 L1628.3,1975.6 L1628.8,1975.2 L1629.2,1975.0 L1629.7,1975.1 L1630.1,1974.9 L1630.6,1976.2 L1631.0,1976.0 L1631.5,1975.8 L1632.0,1975.5 L1632.4,1975.8 L1632.9,1976.3 L1633.3,1976.6 L1633.8,1975.9 L1634.2,1976.0 L1634.7,1975.3 L1635.1,1976.6 L1635.6,1975.9 L1636.1,1977.2 L1636.5,1977.0 L1637.0,1977.2 L1637.4,1977.2 L1637.9,1977.4 L1638.3,1977.3 L1638.8,1977.2 L1639.2,1977.4 L1639.7,1977.0 L1640.2,1977.4 L1640.6,1977.4 L1641.1,1976.8 L1641.5,1977.4 L1642.0,1977.5 L1642.4,1977.6 L1642.9,1977.7 L1643.3,1977.5 L1643.8,1978.1 L1644.3,1977.3 L1644.7,1977.2 L1645.2,1977.4 L1645.6,1978.2 L1646.1,1978.7 L1646.5,1978.2 L1647.0,1978.0 L1647.4,1977.7 L1647.9,1978.2 L1648.4,1978.3 L1648.8,1977.5 L1649.3,1978.5 L1649.7,1977.8 L1650.2,1977.9 L1650.6,1978.9 L1651.1,1978.2 L1651.6,1978.6 L1652.0,1978.8 L1652.5,1979.2 L1652.9,1979.1 L1653.4,1978.2 L1653.8,1978.6 L1654.3,1978.3 L1654.7,1978.9 L1655.2,1978.6 L1655.7,1978.6 L1656.1,1979.1 L1656.6,1979.2 L1657.0,1978.3 L1657.5,1978.4 L1657.9,1978.9 L1658.4,1978.5 L1658.8,1978.2 L1659.3,1977.7 L1659.8,1978.9 L1660.2,1978.2 L1660.7,1977.6 L1661.1,1978.5 L1661.6,1977.9 L1662.0,1979.6 L1662.5,1977.9 L1662.9,1978.5 L1663.4,1979.3 L1663.9,1978.1 L1664.3,1978.0 L1664.8,1977.9 L1665.2,1977.9 L1665.7,1978.4 L1666.1,1978.7 L1666.6,1978.5 L1667.0,1978.3 L1667.5,1978.1 L1668.0,1978.5 L1668.4,1978.2 L1668.9,1977.9 L1669.3,1978.1 L1669.8,1977.2 L1670.2,1977.2 L1670.7,1978.6 L1671.1,1978.3 L1671.6,1978.6 L1672.1,1978.5 L1672.5,1977.7 L1673.0,1978.4 L1673.4,1978.3 L1673.9,1978.0 L1674.3,1977.5 L1674.8,1977.9 L1675.2,1977.9 L1675.7,1977.3 L1676.2,1977.4 L1676.6,1977.4 L1677.1,1977.1 L1677.5,1977.9 L1678.0,1977.3 L1678.4,1977.6 L1678.9,1976.8 L1679.4,1976.8 L1679.8,1977.6 L1680.3,1976.5 L1680.7,1977.5 L1681.2,1976.4 L1681.6,1976.7 L1682.1,1977.1 L1682.5,1977.1 L1683.0,1976.7 L1683.5,1976.5 L1683.9,1976.7 L1684.4,1976.0 L1684.8,1976.7 L1685.3,1976.0 L1685.7,1975.9 L1686.2,1976.6 L1686.6,1975.6 L1687.1,1976.1 L1687.6,1976.5 L1688.0,1975.6 L1688.5,1975.3 L1688.9,1974.6 L1689.4,1975.1 L1689.8,1974.1 L1690.3,1973.9 L1690.7,1973.9 L1691.2,1973.7 L1691.7,1973.9 L1692.1,1974.1 L1692.6,1973.4 L1693.0,1973.0 L1693.5,1973.1 L1693.9,1973.1 L1694.4,1973.5 L1694.8,1972.3 L1695.3,1972.2 L1695.8,1972.6 L1696.2,1971.8 L1696.7,1971.2 L1697.1,1971.3 L1697.6,1970.6 L1698.0,1970.3 L1698.5,1970.9 L1698.9,1970.1 L1699.4,1969.4 L1699.9,1968.8 L1700.3,1968.2 L1700.8,1969.3 L1701.2,1968.0 L1701.7,1967.3 L1702.1,1966.6 L1702.6,1965.9 L1703.0,1966.5 L1703.5,1965.7 L1704.0,1965.4 L1704.4,1964.0 L1704.9,1964.3 L1705.3,1962.6 L1705.8,1962.0 L1706.2,1961.4 L1706.7,1961.8 L1707.2,1960.3 L1707.6,1958.9 L1708.1,1958.9 L1708.5,1957.4 L1709.0,1956.3 L1709.4,1954.8 L1709.9,1953.9 L1710.3,1952.6 L1710.8,1951.6 L1711.3,1950.0 L1711.7,1948.6 L1712.2,1946.6 L1712.6,1945.3 L1713.1,1943.0 L1713.5,1942.2 L1714.0,1938.9 L1714.4,1937.3 L1714.9,1934.4 L1715.4,1932.4 L1715.8,1929.4 L1716.3,1926.3 L1716.7,1924.1 L1717.2,1920.7 L1717.6,1917.4 L1718.1,1913.6 L1718.5,1910.5 L1719.0,1905.8 L1719.5,1901.6 L1719.9,1897.3 L1720.4,1892.3 L1720.8,1887.9 L1721.3,1881.5 L1721.7,1876.6 L1722.2,1870.4 L1722.6,1866.0 L1723.1,1860.5 L1723.6,1854.2 L1724.0,1849.4 L1724.5,1843.2 L1724.9,1838.4 L1725.4,1833.5 L1725.8,1828.9 L1726.3,1825.3 L1726.7,1821.5 L1727.2,1819.8 L1727.7,1819.3 L1728.1,1817.8 L1728.1,1818.8 L1728.6,1818.7 L1729.0,1820.6 L1729.5,1822.6 L1729.9,1824.7 L1730.4,1829.2 L1730.8,1833.6 L1731.3,1838.3 L1731.8,1843.4 L1732.2,1848.1 L1732.7,1854.8 L1733.1,1860.4 L1733.6,1865.3 L1734.0,1871.9 L1734.5,1876.9 L1735.0,1881.6 L1735.4,1887.2 L1735.9,1892.4 L1736.3,1897.2 L1736.8,1901.8 L1737.2,1906.0 L1737.7,1909.7 L1738.1,1913.1 L1738.6,1916.8 L1739.1,1920.9 L1739.5,1924.1 L1740.0,1926.5 L1740.4,1930.4 L1740.9,1932.5 L1741.3,1934.9 L1741.8,1937.6 L1742.2,1939.7 L1742.7,1941.2 L1743.2,1944.0 L1743.6,1945.5 L1744.1,1947.1 L1744.5,1948.3 L1745.0,1950.4 L1745.4,1950.8 L1745.9,1952.7 L1746.3,1953.9 L1746.8,1955.1 L1747.3,1956.4 L1747.7,1957.5 L1748.2,1957.6 L1748.6,1958.9 L1749.1,1959.9 L1749.5,1960.3 L1750.0,1961.7 L1750.4,1961.9 L1750.9,1962.9 L1751.4,1963.9 L1751.8,1963.8 L1752.3,1965.4 L1752.7,1965.0 L1753.2,1966.2 L1753.6,1966.2 L1754.1,1966.2 L1754.5,1967.0 L1755.0,1968.0 L1755.5,1968.1 L1755.9,1968.7 L1756.4,1969.4 L1756.8,1969.7 L1757.3,1969.6 L1757.7,1969.7 L1758.2,1971.0 L1758.6,1970.6 L1759.1,1970.6 L1759.6,1971.1 L1760.0,1971.8 L1760.5,1971.2 L1760.9,1972.4 L1761.4,1971.9 L1761.8,1971.7 L1762.3,1973.4 L1762.7,1972.6 L1763.2,1972.8 L1763.7,1973.0 L1764.1,1973.6 L1764.6,1973.6 L1765.0,1974.2 L1765.5,1973.7 L1765.9,1973.7 L1766.4,1974.4 L1766.9,1974.6 L1767.3,1974.5 L1767.8,1974.5 L1768.2,1974.6 L1768.7,1974.7 L1769.1,1974.8 L1769.6,1975.4 L1770.0,1976.1 L1770.5,1974.8 L1771.0,1974.6 L1771.4,1975.8 L1771.9,1975.6 L1772.3,1975.3 L1772.8,1975.1 L1773.2,1975.3 L1773.7,1975.0 L1774.1,1975.7 L1774.6,1975.5 L1775.1,1975.6 L1775.5,1975.9 L1776.0,1975.3 L1776.4,1975.6 L1776.9,1975.4 L1777.3,1976.0 L1777.8,1975.5 L1778.2,1976.3 L1778.7,1975.7 L1779.2,1977.0 L1779.6,1976.3 L1780.1,1975.6 L1780.5,1976.1 L1781.0,1975.8 L1781.4,1976.5 L1781.9,1975.2 L1782.3,1975.6 L1782.8,1975.8 L1783.3,1975.6 L1783.7,1975.6 L1784.2,1975.1 L1784.6,1975.5 L1785.1,1976.1 L1785.5,1975.6 L1786.0,1974.9 L1786.4,1975.1 L1786.9,1975.4 L1787.4,1974.9 L1787.8,1975.0 L1788.3,1974.6 L1788.7,1975.4 L1789.2,1975.0 L1789.6,1974.2 L1790.1,1974.4 L1790.5,1974.0 L1791.0,1973.2 L1791.5,1973.9 L1791.9,1973.4 L1792.4,1973.5 L1792.8,1973.3 L1793.3,1972.8 L1793.7,1973.1 L1794.2,1973.1 L1794.7,1971.3 L1795.1,1971.5 L1795.6,1970.7 L1796.0,1970.6 L1796.5,1970.2 L1796.9,1969.5 L1797.4,1969.0 L1797.8,1969.2 L1798.3,1967.6 L1798.8,1967.9 L1799.2,1966.8 L1799.7,1965.1 L1800.1,1965.4 L1800.6,1963.9 L1801.0,1963.9 L1801.5,1962.6 L1801.9,1962.0 L1802.4,1960.9 L1802.9,1960.4 L1803.3,1959.4 L1803.8,1957.9 L1804.2,1957.6 L1804.7,1956.3 L1805.1,1954.7 L1805.6,1954.3 L1806.0,1953.5 L1806.5,1952.8 L1807.0,1951.6 L1807.4,1951.3 L1807.9,1950.6 L1808.3,1950.5 L1808.6,1949.5 L1808.8,1950.4 L1809.2,1951.1 L1809.7,1950.4 L1810.1,1950.7 L1810.6,1951.1 L1811.1,1952.3 L1811.5,1951.8 L1812.0,1952.9 L1812.4,1953.6 L1812.9,1954.9 L1813.3,1954.8 L1813.8,1955.7 L1814.2,1955.8 L1814.7,1957.2 L1815.2,1958.1 L1815.6,1958.2 L1816.1,1959.1 L1816.5,1959.0 L1817.0,1960.1 L1817.4,1960.0 L1817.9,1960.4 L1818.3,1960.6 L1818.8,1961.0 L1819.3,1961.2 L1819.7,1961.0 L1820.2,1961.2 L1820.6,1960.9 L1821.1,1961.0 L1821.5,1961.7 L1822.0,1960.6 L1822.5,1959.8 L1822.9,1959.9 L1823.4,1959.5 L1823.8,1959.1 L1824.3,1959.0 L1824.7,1958.9 L1825.2,1957.4 L1825.6,1956.6 L1826.1,1956.1 L1826.6,1955.4 L1827.0,1954.5 L1827.5,1953.8 L1827.9,1952.6 L1828.4,1951.6 L1828.8,1950.2 L1829.3,1949.4 L1829.7,1947.9 L1830.2,1945.9 L1830.7,1944.6 L1831.1,1943.6 L1831.6,1940.7 L1832.0,1939.6 L1832.5,1935.7 L1832.9,1933.8 L1833.4,1931.2 L1833.8,1929.0 L1834.3,1926.2 L1834.8,1922.7 L1835.2,1919.3 L1835.7,1916.0 L1836.1,1911.9 L1836.6,1907.7 L1837.0,1903.5 L1837.5,1899.7 L1837.9,1895.5 L1838.4,1889.9 L1838.9,1885.3 L1839.3,1879.9 L1839.8,1874.4 L1840.2,1869.4 L1840.7,1865.2 L1841.1,1860.3 L1841.6,1855.9 L1842.0,1852.7 L1842.5,1849.4 L1843.0,1846.7 L1843.4,1845.2 L1843.9,1844.5 L1844.1,1844.4 L1844.3,1844.1 L1844.8,1845.1 L1845.2,1846.0 L1845.7,1848.7 L1846.1,1851.0 L1846.6,1854.5 L1847.1,1859.4 L1847.5,1862.8 L1848.0,1867.9 L1848.4,1871.8 L1848.9,1876.8 L1849.3,1881.7 L1849.8,1886.0 L1850.3,1890.9 L1850.7,1894.8 L1851.2,1898.8 L1851.6,1902.8 L1852.1,1906.2 L1852.5,1910.1 L1853.0,1912.6 L1853.4,1916.1 L1853.9,1918.0 L1854.4,1920.5 L1854.8,1922.6 L1855.3,1925.0 L1855.7,1925.3 L1856.2,1928.1 L1856.6,1929.3 L1857.1,1930.7 L1857.5,1930.8 L1858.0,1932.3 L1858.5,1932.2 L1858.9,1933.3 L1859.4,1933.0 L1859.8,1933.3 L1860.3,1932.6 L1860.7,1932.7 L1861.2,1932.5 L1861.6,1931.2 L1862.1,1931.0 L1862.6,1929.9 L1863.0,1928.1 L1863.5,1927.8 L1863.9,1925.3 L1864.4,1924.2 L1864.8,1922.7 L1865.3,1920.4 L1865.7,1918.4 L1866.2,1917.0 L1866.7,1915.0 L1867.1,1912.9 L1867.6,1911.3 L1868.0,1910.1 L1868.5,1909.1 L1868.9,1908.3 L1869.4,1907.5 L1869.8,1906.8 L1870.3,1906.9 L1870.3,1907.0 L1870.8,1907.2 L1871.2,1908.8 L1871.7,1910.2 L1872.1,1911.8 L1872.6,1912.9 L1873.0,1916.7 L1873.5,1918.1 L1873.9,1920.6 L1874.4,1923.4 L1874.9,1925.2 L1875.3,1928.3 L1875.8,1931.1 L1876.2,1934.3 L1876.7,1936.3 L1877.1,1939.0 L1877.6,1941.2 L1878.1,1943.3 L1878.5,1945.7 L1879.0,1947.2 L1879.4,1948.7 L1879.9,1950.7 L1880.3,1952.7 L1880.8,1955.0 L1881.2,1955.3 L1881.7,1956.7 L1882.2,1958.5 L1882.6,1959.8 L1883.1,1960.5 L1883.5,1962.1 L1884.0,1962.5 L1884.4,1964.1 L1884.9,1965.0 L1885.3,1965.4 L1885.8,1966.8 L1886.3,1966.9 L1886.7,1967.4 L1887.2,1968.7 L1887.6,1968.5 L1888.1,1969.6 L1888.5,1969.7 L1889.0,1970.4 L1889.4,1971.1 L1889.9,1971.6 L1890.4,1972.5 L1890.8,1972.5 L1891.3,1972.9 L1891.7,1972.4 L1892.2,1972.9 L1892.6,1974.2 L1893.1,1973.7 L1893.5,1974.2 L1894.0,1974.7 L1894.5,1974.7 L1894.9,1974.8 L1895.4,1975.6 L1895.8,1975.7 L1896.3,1975.8 L1896.7,1976.4 L1897.2,1976.2 L1897.6,1976.5 L1898.1,1976.9 L1898.6,1977.2 L1899.0,1976.9 L1899.5,1976.9 L1899.9,1977.3 L1900.4,1977.9 L1900.8,1977.4 L1901.3,1977.8 L1901.7,1977.8 L1902.2,1977.7 L1902.7,1978.6 L1903.1,1978.5 L1903.6,1978.8 L1904.0,1979.0 L1904.5,1978.0 L1904.9,1978.5 L1905.4,1979.7 L1905.9,1979.0 L1906.3,1979.4 L1906.8,1978.9 L1907.2,1979.4 L1907.7,1979.6 L1908.1,1979.6 L1908.6,1979.6 L1909.0,1979.8 L1909.5,1979.9 L1910.0,1980.0 L1910.4,1979.8 L1910.9,1980.5 L1911.3,1980.2 L1911.8,1980.3 L1912.2,1980.5 L1912.7,1980.1 L1913.1,1980.9 L1913.6,1980.6 L1914.1,1980.9 L1914.5,1980.4 L1915.0,1980.9 L1915.4,1980.7 L1915.9,1980.7 L1916.3,1981.5 L1916.8,1980.7 L1917.2,1981.2 L1917.7,1981.1 L1918.2,1981.1 L1918.6,1980.8 L1919.1,1980.9 L1919.5,1980.5 L1920.0,1981.1 L1920.4,1981.4 L1920.9,1981.5 L1921.3,1981.1 L1921.8,1980.8 L1922.3,1981.3 L1922.7,1981.6 L1923.2,1981.3 L1923.6,1981.4 L1924.1,1981.5 L1924.5,1981.8 L1925.0,1982.5 L1925.4,1981.8 L1925.9,1981.2 L1926.4,1981.5 L1926.8,1982.5 L1927.3,1981.6 L1927.7,1982.3 L1928.2,1980.9 L1928.6,1981.6 L1929.1,1982.1 L1929.5,1981.4 L1930.0,1982.0 L1930.5,1981.5 L1930.9,1981.7 L1931.4,1982.1 L1931.8,1981.4 L1932.3,1982.2 L1932.7,1981.1 L1933.2,1981.6 L1933.6,1982.0 L1934.1,1982.3 L1934.6,1980.9 L1935.0,1981.0 L1935.5,1982.0 L1935.9,1980.8 L1936.4,1981.3 L1936.8,1981.4 L1937.3,1981.3 L1937.8,1981.3 L1938.2,1980.6 L1938.7,1981.0 L1939.1,1981.7 L1939.6,1980.1 L1940.0,1980.5 L1940.5,1981.2 L1940.9,1980.8 L1941.4,1980.9 L1941.9,1980.4 L1942.3,1980.2 L1942.8,1980.1 L1943.2,1980.3 L1943.7,1980.3 L1944.1,1979.5 L1944.6,1979.7 L1945.0,1978.7 L1945.5,1979.8 L1946.0,1979.1 L1946.4,1979.2 L1946.9,1979.4 L1947.3,1978.6 L1947.8,1979.0 L1948.2,1979.3 L1948.7,1979.1 L1949.1,1978.6 L1949.4,1979.4 L1949.6,1978.4 L1950.1,1978.7 L1950.5,1979.2 L1951.0,1978.6 L1951.4,1978.6 L1951.9,1979.1 L1952.3,1979.4 L1952.8,1978.9 L1953.2,1979.2 L1953.7,1980.2 L1954.2,1980.1 L1954.6,1980.3 L1955.1,1980.5 L1955.5,1981.1 L1956.0,1980.3 L1956.4,1980.8 L1956.9,1980.9 L1957.3,1980.6 L1957.8,1981.5 L1958.3,1981.4 L1958.7,1981.4 L1959.2,1981.8 L1959.6,1981.8 L1960.1,1981.6 L1960.5,1982.0 L1961.0,1981.6 L1961.4,1982.5 L1961.9,1982.2 L1962.4,1982.9 L1962.8,1982.5 L1963.3,1982.8 L1963.7,1982.1 L1964.2,1982.4 L1964.6,1982.5 L1965.1,1982.1 L1965.6,1982.3 L1966.0,1982.6 L1966.5,1983.2 L1966.9,1983.5 L1967.4,1983.1 L1967.8,1983.2 L1968.3,1983.4 L1968.7,1983.3 L1969.2,1983.8 L1969.7,1982.7 L1970.1,1983.7 L1970.6,1983.6 L1971.0,1983.1 L1971.5,1984.0 L1971.9,1983.1 L1972.4,1983.1 L1972.8,1983.6 L1973.3,1983.9 L1973.8,1983.7 L1974.2,1984.2 L1974.7,1983.1 L1975.1,1983.6 L1975.6,1983.9 L1976.0,1984.0 L1976.5,1983.4 L1976.9,1983.1 L1977.4,1984.2 L1977.9,1983.9 L1978.3,1984.4 L1978.8,1983.5 L1979.2,1983.7 L1979.7,1982.9 L1980.1,1983.8 L1980.6,1984.0 L1981.0,1984.1 L1981.5,1983.5 L1982.0,1984.5 L1982.4,1983.6 L1982.9,1983.8 L1983.3,1984.1 L1983.8,1984.2 L1984.2,1983.5 L1984.7,1983.2 L1985.1,1984.1 L1985.6,1983.7 L1986.1,1983.3 L1986.5,1984.2 L1987.0,1984.1 L1987.4,1984.4 L1987.9,1984.0 L1988.3,1984.0 L1988.8,1984.2 L1989.2,1984.3 L1989.7,1984.6 L1990.2,1984.5 L1990.6,1984.4 L1991.1,1983.8 L1991.5,1984.2 L1992.0,1984.4 L1992.4,1983.8 L1992.9,1983.9 L1993.4,1984.4 L1993.8,1984.3 L1994.3,1983.8 L1994.7,1984.0 L1995.2,1984.4 L1995.6,1984.0 L1996.1,1984.1 L1996.5,1983.7 L1997.0,1984.4 L1997.5,1983.8 L1997.9,1984.0 L1998.4,1984.5 L1998.8,1983.7 L1999.3,1983.8 L1999.7,1984.6 L2000.2,1983.4 L2000.6,1984.6 L2001.1,1984.5 L2001.6,1984.3 L2002.0,1983.8 L2002.5,1983.9 L2002.9,1984.2 L2003.4,1983.6 L2003.8,1984.0 L2004.3,1983.6 L2004.7,1983.1 L2005.2,1984.1 L2005.7,1985.1 L2006.1,1984.3 L2006.6,1984.5 L2007.0,1984.1 L2007.5,1984.1 L2007.9,1984.6 L2008.4,1984.5 L2008.8,1984.2 L2009.3,1984.2 L2009.8,1985.1 L2010.2,1983.7 L2010.7,1984.1 L2011.1,1984.1 L2011.6,1983.9 L2012.0,1984.4 L2012.5,1984.1 L2012.9,1983.6 L2013.4,1983.6 L2013.9,1983.8 L2014.3,1984.1 L2014.8,1984.3 L2015.2,1983.5 L2015.7,1983.8 L2016.1,1984.1 L2016.6,1984.7 L2017.0,1984.2 L2017.5,1984.6 L2018.0,1983.4 L2018.4,1983.8 L2018.9,1984.1 L2019.3,1983.9 L2019.8,1982.8 L2020.2,1983.3 L2020.7,1984.2 L2021.2,1983.8 L2021.6,1984.1 L2022.1,1984.3 L2022.5,1983.6 L2023.0,1982.7 L2023.4,1983.0 L2023.9,1983.5 L2024.3,1983.6 L2024.8,1983.4 L2025.3,1983.0 L2025.7,1983.9 L2026.2,1984.0 L2026.6,1982.5 L2027.1,1983.1 L2027.5,1982.5 L2028.0,1983.0 L2028.4,1982.4 L2028.9,1983.1 L2029.4,1982.6 L2029.8,1982.2 L2030.3,1982.3 L2030.7,1982.8 L2031.2,1982.1 L2031.6,1982.6 L2032.1,1982.8 L2032.5,1981.9 L2033.0,1981.5 L2033.5,1981.5 L2033.9,1982.2 L2034.4,1981.2 L2034.8,1981.1 L2035.3,1981.4 L2035.7,1982.0 L2036.2,1980.5 L2036.6,1980.3 L2037.1,1980.2 L2037.6,1980.8 L2038.0,1980.5 L2038.5,1979.2 L2038.9,1979.0 L2039.4,1978.9 L2039.8,1978.8 L2040.3,1978.2 L2040.7,1978.3 L2041.2,1977.8 L2041.7,1977.6 L2042.1,1976.8 L2042.6,1976.6 L2043.0,1975.7 L2043.5,1975.3 L2043.9,1975.5 L2044.4,1974.0 L2044.8,1974.7 L2045.3,1973.7 L2045.8,1973.0 L2046.2,1972.6 L2046.7,1973.6 L2047.1,1972.0 L2047.6,1971.6 L2048.0,1971.3 L2048.5,1972.5 L2049.0,1971.8 L2049.4,1971.5 L2049.6,1971.6 L2049.9,1970.9 L2050.3,1971.8 L2050.8,1971.2 L2051.2,1971.6 L2051.7,1972.7 L2052.1,1972.8 L2052.6,1972.9 L2053.1,1973.1 L2053.5,1973.2 L2054.0,1974.0 L2054.4,1974.0 L2054.9,1975.5 L2055.3,1976.5 L2055.8,1975.9 L2056.2,1976.0 L2056.7,1976.7 L2057.2,1977.4 L2057.6,1977.3 L2058.1,1977.1 L2058.5,1978.2 L2059.0,1978.8 L2059.4,1979.2 L2059.9,1978.5 L2060.3,1979.6 L2060.8,1979.6 L2061.3,1979.6 L2061.7,1980.0 L2062.2,1981.0 L2062.6,1980.5 L2063.1,1980.8 L2063.5,1981.1 L2064.0,1981.1 L2064.4,1981.9 L2064.9,1981.9 L2065.4,1982.2 L2065.8,1981.9 L2066.3,1982.6 L2066.7,1982.3 L2067.2,1983.0 L2067.6,1982.7 L2068.1,1983.0 L2068.5,1983.0 L2069.0,1983.0 L2069.5,1983.2 L2069.9,1983.3 L2070.4,1984.1 L2070.8,1983.0 L2071.3,1983.7 L2071.7,1983.6 L2072.2,1983.9 L2072.6,1983.3 L2073.1,1984.1 L2073.6,1983.6 L2074.0,1983.4 L2074.5,1983.3 L2074.9,1983.5 L2075.4,1983.8 L2075.8,1984.5 L2076.3,1983.6 L2076.8,1983.7 L2077.2,1983.8 L2077.7,1983.9 L2078.1,1984.2 L2078.6,1984.5 L2079.0,1983.9 L2079.5,1983.9 L2079.9,1984.8 L2080.4,1984.1 L2080.9,1984.3 L2081.3,1984.1 L2081.8,1984.4 L2082.2,1984.1 L2082.7,1984.1 L2083.1,1984.2 L2083.6,1985.1 L2084.0,1984.3 L2084.5,1984.6 L2085.0,1985.1 L2085.4,1984.4 L2085.9,1985.2 L2086.3,1984.4 L2086.8,1984.1 L2087.2,1984.9 L2087.7,1984.4 L2088.1,1984.6 L2088.6,1984.6 L2089.1,1985.3 L2089.5,1984.6 L2090.0,1984.8 L2090.4,1984.6 L2090.9,1984.9 L2091.3,1984.5 L2091.8,1984.8 L2092.2,1984.7 L2092.7,1984.4 L2093.2,1984.9 L2093.6,1984.6 L2094.1,1984.9 L2094.5,1984.8 L2095.0,1985.2 L2095.4,1984.7 L2095.9,1984.6 L2096.3,1985.1 L2096.8,1984.7 L2097.3,1984.9 L2097.7,1985.5 L2098.2,1984.9 L2098.6,1984.6 L2099.1,1985.3 L2099.5,1985.8 L2100.0,1985.0 L2100.4,1985.4 L2100.9,1984.4 L2101.4,1985.1 L2101.8,1985.1 L2102.3,1985.4 L2102.7,1985.1 L2103.2,1985.4 L2103.6,1985.5 L2104.1,1985.2 L2104.5,1985.5 L2105.0,1984.7 L2105.5,1985.6 L2105.9,1985.2 L2106.4,1985.5 L2106.8,1985.7 L2107.3,1984.6 L2107.7,1986.0 L2108.2,1984.7 L2108.7,1985.8 L2109.1,1985.2 L2109.6,1984.4 L2110.0,1986.0 L2110.5,1985.8 L2110.9,1984.8 L2111.4,1985.2 L2111.8,1985.5 L2112.3,1985.3 L2112.8,1985.6 L2113.2,1985.2 L2113.7,1984.7 L2114.1,1985.4 L2114.6,1985.2 L2115.0,1984.8 L2115.5,1984.5 L2115.9,1985.5 L2116.4,1985.2 L2116.9,1985.5 L2117.3,1985.5 L2117.8,1985.4 L2118.2,1985.5 L2118.7,1985.9 L2119.1,1986.0 L2119.6,1985.6 L2120.0,1985.2 L2120.5,1984.8 L2121.0,1985.5 L2121.4,1985.3 L2121.9,1985.0 L2122.3,1985.0 L2122.8,1985.3 L2123.2,1985.3 L2123.7,1984.6 L2124.1,1985.4 L2124.6,1985.4 L2125.1,1985.9 L2125.5,1985.1 L2126.0,1985.3 L2126.4,1984.5 L2126.9,1985.4 L2127.3,1984.9 L2127.8,1984.9 L2128.2,1984.6 L2128.7,1985.7 L2129.2,1984.6 L2129.6,1985.2 L2130.1,1985.2 L2130.5,1985.3 L2131.0,1985.3 L2131.4,1985.3 L2131.9,1986.0 L2132.3,1984.9 L2132.8,1985.1 L2133.3,1985.4 L2133.7,1985.1 L2134.2,1984.2 L2134.6,1984.9 L2135.1,1985.1 L2135.5,1984.3 L2136.0,1985.2 L2136.5,1984.9 L2136.9,1985.1 L2137.4,1984.9 L2137.8,1984.5 L2138.3,1984.5 L2138.7,1985.0 L2139.2,1984.7 L2139.6,1984.6 L2140.1,1984.7 L2140.6,1984.5 L2141.0,1984.7 L2141.5,1984.7 L2141.9,1984.4 L2142.4,1984.7 L2142.8,1984.1 L2143.3,1984.3 L2143.7,1984.5 L2144.2,1984.3 L2144.7,1984.2 L2145.1,1984.0 L2145.6,1983.9 L2146.0,1983.9 L2146.5,1984.1 L2146.9,1983.2 L2147.4,1983.3 L2147.8,1983.6 L2148.3,1983.2 L2148.8,1983.4 L2149.2,1983.6 L2149.7,1983.4 L2150.1,1982.5 L2150.6,1983.1 L2151.0,1983.1 L2151.0,1983.6 L2151.5,1983.2 L2151.9,1982.6 L2152.4,1983.3 L2152.9,1983.1 L2153.3,1983.1 L2153.8,1983.4 L2154.2,1983.1 L2154.7,1983.6 L2155.1,1983.6 L2155.6,1984.0 L2156.0,1982.9 L2156.5,1983.8 L2157.0,1984.0 L2157.4,1983.6 L2157.9,1984.3 L2158.3,1984.2 L2158.8,1984.6 L2159.2,1984.3 L2159.7,1984.5 L2160.1,1984.3 L2160.6,1984.6 L2161.1,1984.8 L2161.5,1984.7 L2162.0,1984.7 L2162.4,1984.9 L2162.9,1984.4 L2163.3,1984.6 L2163.8,1984.8 L2164.3,1985.3 L2164.7,1984.7 L2165.2,1985.4 L2165.6,1984.9 L2166.1,1985.0 L2166.5,1985.3 L2167.0,1985.4 L2167.4,1985.4 L2167.9,1984.4 L2168.4,1985.3 L2168.8,1985.3 L2169.3,1984.9 L2169.7,1985.1 L2170.2,1984.9 L2170.6,1985.7 L2171.1,1985.7 L2171.5,1984.1 L2172.0,1985.4 L2172.5,1985.5 L2172.9,1985.3 L2173.4,1985.0 L2173.8,1985.8 L2174.3,1985.3 L2174.7,1985.4 L2175.2,1985.2 L2175.6,1985.4 L2176.1,1985.6 L2176.6,1985.8 L2177.0,1986.4 L2177.5,1985.1 L2177.9,1986.0 L2178.4,1985.6 L2178.8,1984.9 L2179.3,1985.7 L2179.7,1985.3 L2180.2,1985.6 L2180.7,1985.3 L2181.1,1985.5 L2181.6,1985.7 L2182.0,1985.1 L2182.5,1985.7 L2182.9,1986.1 L2183.4,1985.7 L2183.8,1985.4 L2184.3,1986.0 L2184.8,1985.3 L2185.2,1985.3 L2185.7,1984.8 L2186.1,1985.8 L2186.6,1985.4 L2187.0,1986.2 L2187.5,1985.8 L2187.9,1985.6 L2188.4,1985.5 L2188.9,1985.7 L2189.3,1985.7 L2189.8,1985.9 L2190.2,1985.8 L2190.7,1985.5 L2191.1,1985.5 L2191.6,1985.4 L2192.1,1985.3 L2192.5,1985.2 L2193.0,1986.3 L2193.4,1985.9 L2193.9,1985.7 L2194.3,1985.9 L2194.8,1985.3 L2195.2,1985.4 L2195.7,1985.7 L2196.2,1985.6 L2196.6,1985.2 L2197.1,1985.8 L2197.5,1985.8 L2198.0,1985.4 L2198.4,1985.5 L2198.9,1985.2 L2199.3,1985.6 L2199.8,1985.4 L2200.3,1985.9 L2200.7,1986.0 L2201.2,1985.7 L2201.6,1986.6 L2202.1,1985.6 L2202.5,1985.4 L2203.0,1985.7 L2203.4,1985.8 L2203.9,1985.3 L2204.4,1985.7 L2204.8,1985.4 L2205.3,1984.9 L2205.7,1985.5 L2206.2,1985.4 L2206.6,1985.5 L2207.1,1985.6 L2207.5,1985.6 L2208.0,1985.7 L2208.5,1985.3 L2208.9,1986.3 L2209.4,1985.8 L2209.8,1985.5 L2210.3,1986.0 L2210.7,1985.8 L2211.2,1986.0 L2211.6,1985.6 L2212.1,1985.4 L2212.6,1985.2 L2213.0,1985.5 L2213.5,1986.0 L2213.9,1985.6 L2214.4,1985.5 L2214.8,1985.2 L2215.3,1986.5 L2215.7,1985.6 L2216.2,1986.4 L2216.7,1985.5 L2217.1,1985.6 L2217.6,1985.6 L2218.0,1985.4 L2218.5,1985.6 L2218.9,1986.0 L2219.4,1985.6 L2219.9,1985.3 L2220.3,1985.8 L2220.8,1985.7 L2221.2,1986.1 L2221.7,1985.3 L2222.1,1985.9 L2222.6,1986.0 L2223.0,1985.9 L2223.5,1986.0 L2224.0,1985.8 L2224.4,1985.3 L2224.9,1985.4 L2225.3,1985.2 L2225.8,1985.2 L2226.2,1986.0 L2226.7,1985.6 L2227.1,1985.2 L2227.6,1984.9 L2228.1,1986.2 L2228.5,1986.2 L2229.0,1985.6 L2229.4,1985.8 L2229.9,1986.1 L2230.3,1985.6 L2230.8,1986.0 L2231.2,1986.5 L2231.7,1985.7 L2232.2,1985.7 L2232.6,1985.5 L2233.1,1985.4 L2233.5,1985.6 L2234.0,1985.8 L2234.4,1985.9 L2234.9,1986.3 L2235.3,1985.8 L2235.8,1985.3 L2236.3,1985.5 L2236.7,1985.0 L2237.2,1985.7 L2237.6,1986.3 L2238.1,1985.4 L2238.5,1985.3 L2239.0,1986.1 L2239.4,1986.2 L2239.9,1985.6 L2240.4,1985.4 L2240.8,1986.1 L2241.3,1985.8 L2241.7,1985.9 L2242.2,1986.1 L2242.6,1986.1 L2243.1,1985.6 L2243.5,1985.8 L2244.0,1985.9 L2244.5,1986.6 L2244.9,1985.0 L2245.4,1986.0 L2245.8,1985.7 L2246.3,1986.0 L2246.7,1985.5 L2247.2,1986.2 L2247.7,1985.6 L2248.1,1985.7 L2248.6,1985.3 L2249.0,1986.0 L2249.5,1985.8 L2249.9,1985.7 L2250.4,1984.9 L2250.8,1986.1 L2251.3,1985.5 L2251.8,1985.8 L2252.2,1985.5 L2252.7,1985.4 L2253.1,1985.5 L2253.6,1985.5 L2254.0,1985.5 L2254.5,1985.8 L2254.9,1985.6 L2255.4,1986.1 L2255.9,1985.7 L2256.3,1985.8 L2256.8,1985.6 L2257.2,1985.3 L2257.7,1985.4 L2258.1,1985.4 L2258.6,1985.2 L2259.0,1986.4 L2259.5,1985.4 L2260.0,1985.5 L2260.4,1985.5 L2260.9,1986.0 L2261.3,1985.3 L2261.8,1985.1 L2262.2,1985.1 L2262.7,1985.5 L2263.1,1985.3 L2263.6,1985.2 L2264.1,1984.8 L2264.5,1985.0 L2265.0,1985.4 L2265.4,1985.4 L2265.9,1985.4 L2266.3,1985.3 L2266.8,1985.6 L2267.2,1985.1 L2267.7,1985.6 L2268.2,1985.7 L2268.6,1985.3 L2269.1,1985.6 L2269.5,1985.5 L2270.0,1986.1 L2270.4,1985.1 L2270.9,1985.3 L2271.3,1985.4 L2271.8,1985.2 L2272.3,1985.2 L2272.7,1985.5 L2273.2,1984.6 L2273.6,1985.4 L2274.1,1984.9 L2274.5,1984.6 L2275.0,1985.5 L2275.4,1985.2 L2275.9,1985.5 L2276.4,1984.8 L2276.8,1985.3 L2277.3,1985.6 L2277.7,1984.7 L2278.2,1984.8 L2278.6,1985.4 L2279.1,1984.7 L2279.6,1985.0 L2280.0,1984.2 L2280.5,1984.5 L2280.9,1985.3 L2281.4,1985.1 L2281.8,1985.3 L2282.3,1985.0 L2282.7,1985.0 L2283.2,1984.7 L2283.7,1984.9 L2284.1,1985.4 L2284.6,1985.2 L2285.0,1984.4 L2285.5,1984.5 L2285.9,1984.9 L2286.4,1984.9 L2286.8,1984.9 L2287.3,1984.8 L2287.8,1985.3 L2288.2,1984.4 L2288.7,1984.9 L2289.1,1984.6 L2289.6,1985.5 L2290.0,1984.6 L2290.5,1984.2 L2290.9,1985.3 L2291.4,1984.0 L2291.9,1984.4 L2292.3,1984.7 L2292.8,1985.0 L2293.2,1984.0 L2293.7,1984.3 L2294.1,1984.2 L2294.6,1984.4 L2295.0,1984.6 L2295.5,1983.9 L2296.0,1984.5 L2296.4,1983.9 L2296.9,1984.7 L2297.3,1984.4 L2297.8,1984.5 L2298.2,1983.5 L2298.7,1984.5 L2299.1,1984.3 L2299.6,1983.6 L2300.1,1983.7 L2300.5,1983.0 L2301.0,1983.1 L2301.4,1983.4 L2301.9,1983.3 L2302.3,1984.1 L2302.8,1983.7 L2303.2,1983.5 L2303.7,1983.4 L2304.2,1983.7 L2304.6,1983.5 L2305.1,1983.4 L2305.5,1982.6 L2306.0,1982.8 L2306.4,1982.9 L2306.9,1982.8 L2307.4,1982.5 L2307.8,1982.8 L2308.3,1982.5 L2308.7,1982.9 L2309.2,1982.0 L2309.6,1981.8 L2310.1,1981.8 L2310.5,1981.7 L2311.0,1981.6 L2311.5,1980.9 L2311.9,1981.4 L2312.4,1981.7 L2312.8,1981.5 L2313.3,1980.7 L2313.7,1980.4 L2314.2,1980.3 L2314.6,1980.1 L2315.1,1980.1 L2315.6,1980.5 L2316.0,1980.0 L2316.5,1980.1 L2316.9,1979.4 L2317.4,1979.4 L2317.8,1978.7 L2318.3,1978.5 L2318.7,1978.8 L2319.2,1977.5 L2319.7,1977.2 L2320.1,1977.6 L2320.6,1976.7 L2321.0,1976.1 L2321.5,1976.0 L2321.9,1975.2 L2322.4,1975.0 L2322.8,1974.2 L2323.3,1974.0 L2323.8,1973.6 L2324.2,1972.8 L2324.7,1972.2 L2325.1,1971.8 L2325.6,1971.4 L2326.0,1970.9 L2326.5,1970.0 L2326.9,1969.4 L2327.4,1968.4 L2327.9,1967.7 L2328.3,1967.0 L2328.8,1966.2 L2329.2,1965.4 L2329.7,1964.1 L2330.1,1963.4 L2330.6,1963.1 L2331.0,1961.9 L2331.5,1961.3 L2332.0,1960.4 L2332.4,1959.6 L2332.9,1959.0 L2333.3,1958.4 L2333.8,1958.0 L2334.2,1956.4 L2334.7,1955.5 L2335.2,1955.6 L2335.6,1954.6 L2336.1,1954.5 L2336.5,1953.9 L2337.0,1954.0 L2337.4,1953.7 L2337.9,1953.6 L2337.9,1954.4 L2338.3,1953.5 L2338.8,1953.8 L2339.3,1954.8 L2339.7,1954.1 L2340.2,1954.8 L2340.6,1955.2 L2341.1,1955.8 L2341.5,1956.7 L2342.0,1957.6 L2342.4,1958.1 L2342.9,1958.9 L2343.4,1958.8 L2343.8,1959.8 L2344.3,1961.4 L2344.7,1962.2 L2345.2,1962.8 L2345.6,1963.6 L2346.1,1964.9 L2346.5,1965.8 L2347.0,1965.6" fill="none" stroke="#08134F" stroke-width="7" stroke-linejoin="round" stroke-linecap="round"/>
<path d="M1023.3,1396.0 L1048.8,1421.5 L1023.3,1447.0 L997.8,1421.5 Z" fill="#D40000" stroke="#900000" stroke-width="1.5" stroke-linejoin="miter"/>
<path d="M1079.4,1528.0 L1104.9,1553.5 L1079.4,1579.0 L1053.9,1553.5 Z" fill="#D40000" stroke="#900000" stroke-width="1.5" stroke-linejoin="miter"/>
<path d="M1121.9,1134.8 L1147.4,1160.3 L1121.9,1185.8 L1096.4,1160.3 Z" fill="#D40000" stroke="#900000" stroke-width="1.5" stroke-linejoin="miter"/>
<path d="M1379.0,1768.2 L1404.5,1793.7 L1379.0,1819.2 L1353.5,1793.7 Z" fill="#D40000" stroke="#900000" stroke-width="1.5" stroke-linejoin="miter"/>
<path d="M1590.1,1647.5 L1615.6,1673.0 L1590.1,1698.5 L1564.6,1673.0 Z" fill="#D40000" stroke="#900000" stroke-width="1.5" stroke-linejoin="miter"/>
<path d="M1727.2,1748.6 L1752.7,1774.1 L1727.2,1799.6 L1701.7,1774.1 Z" fill="#D40000" stroke="#900000" stroke-width="1.5" stroke-linejoin="miter"/>
<path d="M1803.3,1748.6 L1828.8,1774.1 L1803.3,1799.6 L1777.8,1774.1 Z" fill="#D40000" stroke="#900000" stroke-width="1.5" stroke-linejoin="miter"/>
<path d="M1840.3,1717.6 L1865.8,1743.1 L1840.3,1768.6 L1814.8,1743.1 Z" fill="#D40000" stroke="#900000" stroke-width="1.5" stroke-linejoin="miter"/>
<path d="M1872.8,1748.6 L1898.3,1774.1 L1872.8,1799.6 L1847.3,1774.1 Z" fill="#D40000" stroke="#900000" stroke-width="1.5" stroke-linejoin="miter"/>
<path d="M1940.5,1754.2 L1966.0,1779.7 L1940.5,1805.2 L1915.0,1779.7 Z" fill="#D40000" stroke="#900000" stroke-width="1.5" stroke-linejoin="miter"/>
<path d="M2046.0,1754.2 L2071.5,1779.7 L2046.0,1805.2 L2020.5,1779.7 Z" fill="#D40000" stroke="#900000" stroke-width="1.5" stroke-linejoin="miter"/>
<path d="M2142.0,1754.2 L2167.5,1779.7 L2142.0,1805.2 L2116.5,1779.7 Z" fill="#D40000" stroke="#900000" stroke-width="1.5" stroke-linejoin="miter"/>
<path d="M2338.4,1760.2 L2363.9,1785.7 L2338.4,1811.2 L2312.9,1785.7 Z" fill="#D40000" stroke="#900000" stroke-width="1.5" stroke-linejoin="miter"/>
<rect x="1146.5" y="1838.5" width="37.0" height="37.0" fill="#032470" stroke="#0A1850" stroke-width="1.5"/>
<rect x="1530.2" y="1840.2" width="37.0" height="37.0" fill="#032470" stroke="#0A1850" stroke-width="1.5"/>
<rect x="1861.9" y="1843.7" width="37.0" height="37.0" fill="#032470" stroke="#0A1850" stroke-width="1.5"/>
<rect x="2125.2" y="1844.0" width="37.0" height="37.0" fill="#032470" stroke="#0A1850" stroke-width="1.5"/>
<circle cx="907.0" cy="1922.0" r="20.0" fill="#000"/>
<circle cx="1302.6" cy="1933.3" r="20.0" fill="#000"/>
<circle cx="1346.7" cy="1929.7" r="20.0" fill="#000"/>
<circle cx="1551.0" cy="1920.3" r="20.0" fill="#000"/>
<circle cx="1586.1" cy="1728.1" r="20.0" fill="#000"/>
<circle cx="1764.3" cy="1914.3" r="20.0" fill="#000"/>
<path d="M1219.0,1224.0 L1245.0,1250.0 L1219.0,1276.0 L1193.0,1250.0 Z" fill="#D40000" stroke="#900000" stroke-width="1.5" stroke-linejoin="miter"/>
<rect x="1202.3" y="1294.0" width="38.0" height="38.0" fill="#032470" stroke="#0A1850" stroke-width="1.5"/>
<circle cx="1222.0" cy="1372.0" r="20.0" fill="#000"/>
<text x="1274.2" y="1273.9" font-size="69.5" textLength="897.9" lengthAdjust="spacing">01-078-3315; Zinc Oxide; ZnO</text>
<text x="1274.2" y="1339.9" font-size="69.5" textLength="1069.9" lengthAdjust="spacing">03-065-5458; Zinc Zirconium; Zr Zn</text>
<text x="1274.2" y="1406.6" font-size="69.5" textLength="709.1" lengthAdjust="spacing">01-075-2078; Carbon; C</text>
</g></svg></body></html>
